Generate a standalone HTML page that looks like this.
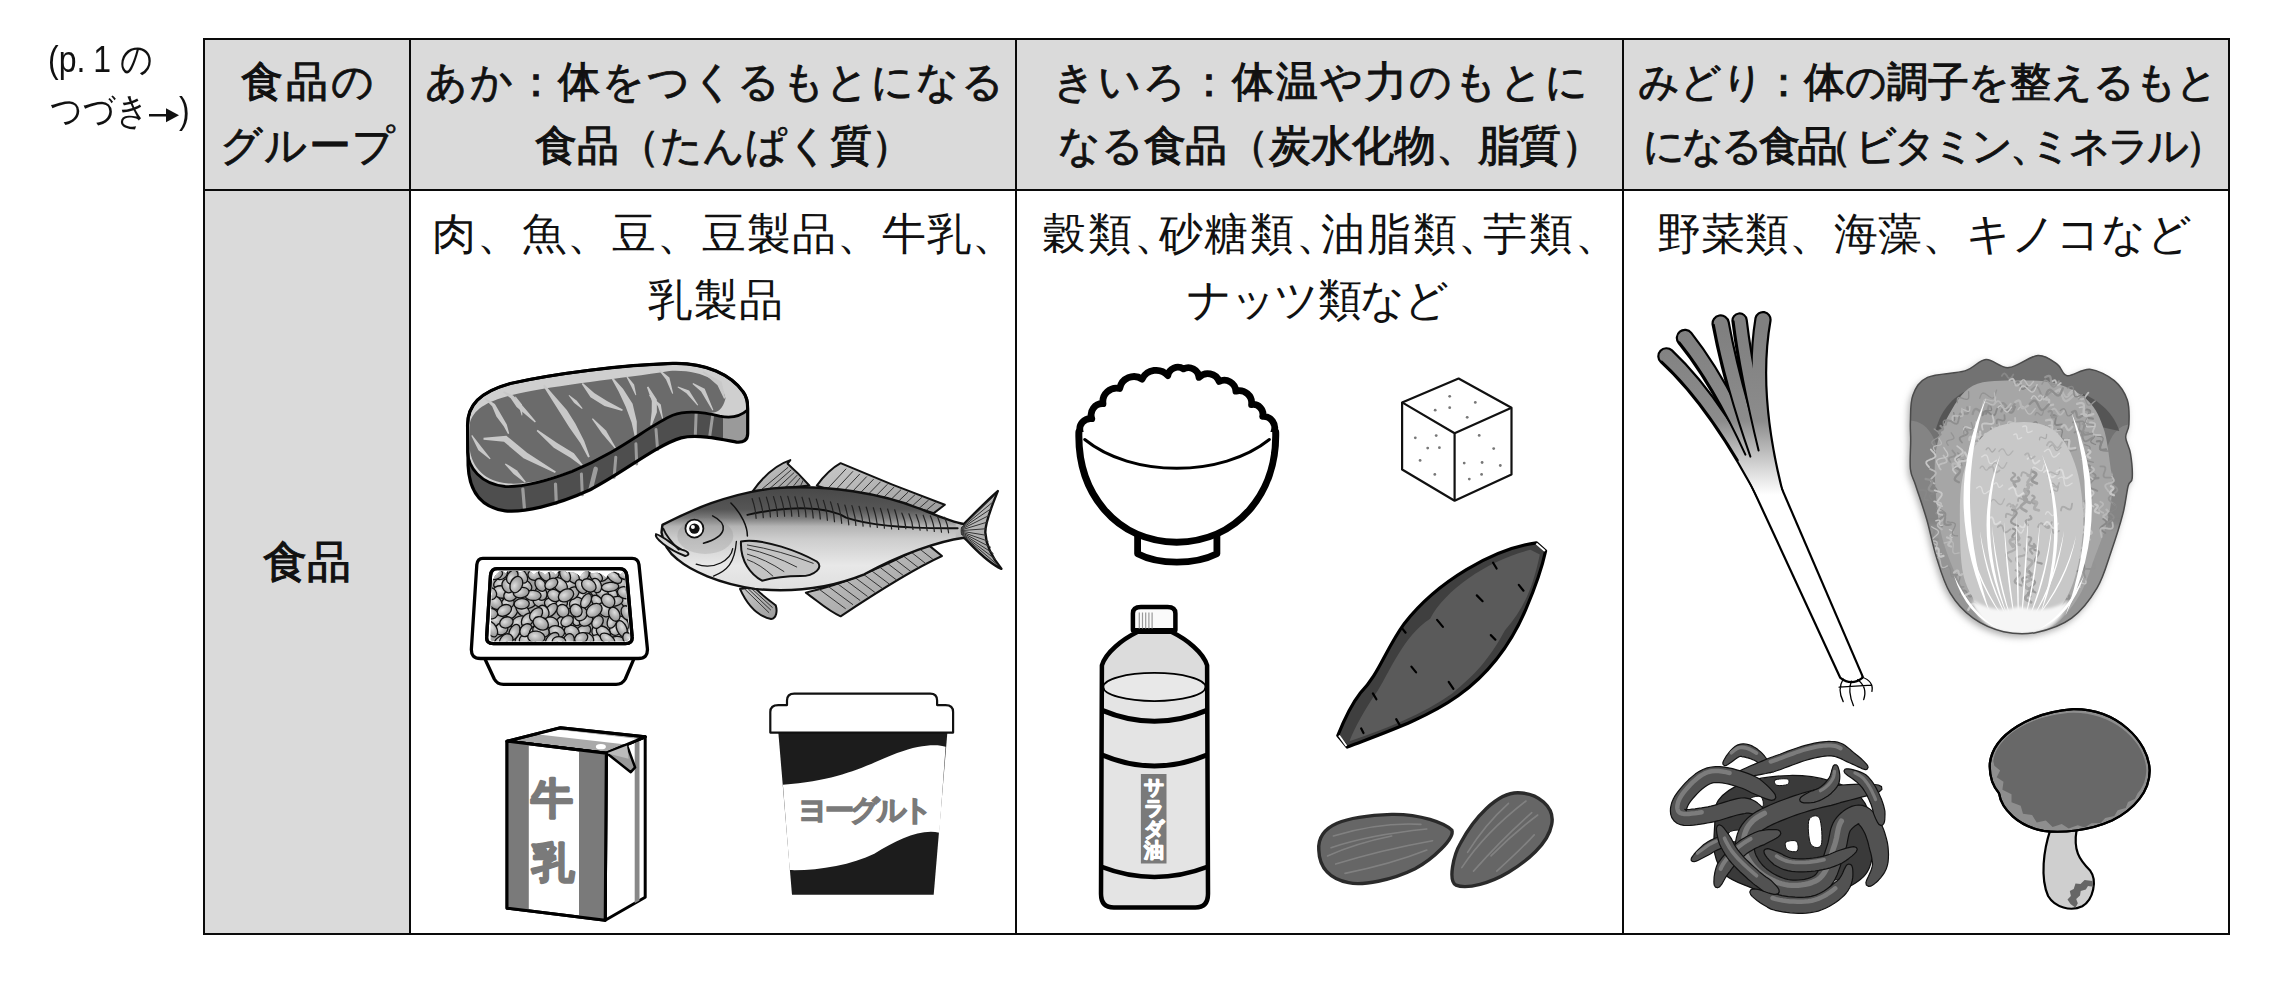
<!DOCTYPE html>
<html lang="ja">
<head>
<meta charset="utf-8">
<style>
html,body{margin:0;padding:0;background:#fff;}
body{width:2272px;height:985px;position:relative;overflow:hidden;font-family:"Liberation Sans",sans-serif;color:#111;}
.g{position:absolute;background:#dadada;}
.ln{position:absolute;background:#0a0a0a;}
.t{position:absolute;white-space:nowrap;line-height:1;font-size:44px;}
.h{font-weight:normal;-webkit-text-stroke:0.8px #111;}
.k{font-style:normal;-webkit-text-stroke:1.1px #111;}
svg{position:absolute;left:0;top:0;}
.hl{display:inline-block;width:20px;text-indent:-24px;overflow:visible;letter-spacing:0}
.hr{display:inline-block;width:20px;overflow:visible;letter-spacing:0}
.br{display:inline-block;width:25px;overflow:visible;letter-spacing:0}
</style>
</head>
<body>
<div class="g" style="left:205px;top:40px;width:2023px;height:149px"></div>
<div class="g" style="left:205px;top:191px;width:204px;height:742px"></div>
<div class="ln" style="left:203px;top:38px;width:2027px;height:2px"></div>
<div class="ln" style="left:203px;top:189px;width:2027px;height:2px"></div>
<div class="ln" style="left:203px;top:933px;width:2027px;height:2px"></div>
<div class="ln" style="left:203px;top:38px;width:2px;height:897px"></div>
<div class="ln" style="left:409px;top:38px;width:2px;height:897px"></div>
<div class="ln" style="left:1015px;top:38px;width:2px;height:897px"></div>
<div class="ln" style="left:1622px;top:38px;width:2px;height:897px"></div>
<div class="ln" style="left:2228px;top:38px;width:2px;height:897px"></div>

<div class="t" id="p1" style="left:48px;top:40px;font-size:32px;transform:scaleY(1.18);transform-origin:0 0">(p.<span style="margin-left:8px">1</span><span style="margin-left:9px">の</span></div>
<div class="t" id="p2" style="left:50px;top:92px;font-size:32px;transform:scaleY(1.16);transform-origin:0 0">つづき<svg style="position:relative;display:inline-block;vertical-align:baseline" width="30" height="14" viewBox="0 0 30 14"><path d="M0,7 L18,7" stroke="#111" stroke-width="2.2"/><path d="M17,1 L30,7 L17,13 Z" fill="#111"/></svg>)</div>

<div class="t h" id="h1a" style="left:241px;top:61px;font-size:42px;letter-spacing:3px"><i class="k">食品</i>の</div>
<div class="t h" id="h1b" style="left:220px;top:125px;font-size:42px;letter-spacing:1.33px">グループ</div>
<div class="t h" id="h2a" style="left:425px;top:61px;font-size:42px;letter-spacing:1.82px">あか：<i class="k">体</i>をつくるもとになる</div>
<div class="t h" id="h2b" style="left:535px;top:125px;font-size:42px;letter-spacing:-0.5px"><i class="k">食品</i>（たんぱく<i class="k">質</i>）</div>
<div class="t h" id="h3a" style="left:1053px;top:61px;font-size:42px;letter-spacing:2.05px">きいろ：<i class="k">体温</i>や<i class="k">力</i>のもとに</div>
<div class="t h" id="h3b" style="left:1058px;top:125px;font-size:42px;letter-spacing:-0.25px">なる<i class="k">食品</i>（<i class="k">炭水化物</i>、<i class="k">脂質</i>）</div>
<div class="t h" id="h4a" style="left:1638px;top:62px;font-size:41px;letter-spacing:-0.2px">みどり：<i class="k">体</i>の<i class="k">調子</i>を<i class="k">整</i>えるもと</div>
<div class="t h" id="h4b" style="left:1643px;top:126px;font-size:41px;letter-spacing:-3.2px">になる<i class="k">食品</i><span class="hl">（</span>ビタミン<span class="hr">、</span>ミネラル<span class="hr">）</span></div>

<div class="t h" id="f1" style="left:263px;top:540px"><i class="k">食品</i></div>
<div class="t" id="b2a" style="left:432px;top:212px;letter-spacing:1px">肉、魚、豆、豆製品、牛乳、</div>
<div class="t" id="b2b" style="left:648px;top:278px;letter-spacing:1.5px">乳製品</div>
<div class="t" id="b3a" style="left:1042px;top:212px;letter-spacing:1.8px">穀類<span class="br">、</span>砂糖類<span class="br">、</span>油脂類<span class="br">、</span>芋類<span class="br">、</span></div>
<div class="t" id="b3b" style="left:1187px;top:278px;letter-spacing:-1.4px">ナッツ類など</div>
<div class="t" id="b4a" style="left:1657px;top:212px;letter-spacing:0.15px">野菜類、海藻、キノコなど</div>
<svg width="2272" height="985" viewBox="0 0 2272 985">
<g id="tofu" fill="#fff" stroke="#111" stroke-width="2.2" stroke-linejoin="round">
<path d="M1458.6,378.5 L1511.5,407.7 L1511.5,474.4 L1454.6,500.7 L1402.1,469.5 L1402.1,402.4 Z"/>
<path fill="none" d="M1402.1,402.4 L1454.6,433.2 L1511.5,407.7 M1454.6,433.2 L1454.6,500.7"/>
<g fill="#777" stroke="none"><circle cx="1449.7" cy="396.3" r="1.4"/><circle cx="1475.3" cy="402.4" r="1.4"/><circle cx="1435.2" cy="410.2" r="1.4"/><circle cx="1449.7" cy="407.7" r="1.4"/><circle cx="1467.2" cy="417.3" r="1.4"/><circle cx="1415.3" cy="437.8" r="1.4"/><circle cx="1436.2" cy="435.6" r="1.4"/><circle cx="1427.7" cy="448.1" r="1.4"/><circle cx="1439.4" cy="447.7" r="1.4"/><circle cx="1420.1" cy="460.4" r="1.4"/><circle cx="1434.8" cy="474.4" r="1.4"/><circle cx="1479.2" cy="435.4" r="1.4"/><circle cx="1493.7" cy="448.6" r="1.4"/><circle cx="1464.2" cy="463.1" r="1.4"/><circle cx="1482.1" cy="462.5" r="1.4"/><circle cx="1500.3" cy="465.5" r="1.4"/><circle cx="1481.6" cy="474.4" r="1.4"/><circle cx="1469.3" cy="479.1" r="1.4"/></g>
</g>
<g id="rice" fill="#fff" stroke="#000" stroke-linejoin="round" stroke-linecap="round">
<path d="M1137.6,531.5 L1137.6,553.8 C1158.8,565.0 1194.6,565.0 1216.9,553.8 L1216.9,531.5 Z" stroke-width="6.8"/>
<path d="M1080.2,444.4 L1080.2,432.1 A10.6,10.6 0 0 1 1091.8,418.7 A11.2,11.2 0 0 1 1103.0,403.7 A13.6,13.6 0 0 1 1119.7,388.5 A14.5,14.5 0 0 1 1142.1,379.1 A15.6,15.6 0 0 1 1167.8,375.6 A10.2,10.2 0 0 1 1183.4,368.9 A10.7,10.7 0 0 1 1199.0,377.3 A12.3,12.3 0 0 1 1219.2,381.4 A11.7,11.7 0 0 1 1235.9,391.2 A12.4,12.4 0 0 1 1251.6,404.6 A9.8,9.8 0 0 1 1262.7,416.4 A11.5,11.5 0 0 1 1273.9,432.1 L1273.9,444.4 Z" stroke-width="6.8"/>
<path d="M1078.9,432.1 C1077.3,493.5 1116.4,541.6 1176.7,542.2 C1237.0,541.6 1277.2,493.5 1275.7,432.1 " stroke-width="7"/>
<path fill="none" d="M1084.7,439.5 C1132.0,477.9 1221.4,477.9 1269.4,439.5" stroke-width="3"/>
</g>
<g id="natto" fill="#fff" stroke="#000" stroke-width="3.3" stroke-linejoin="round">
<path d="M484.4,657.7 L494.3,679.0 Q497.3,684.4 503.4,684.4 L616.1,684.4 Q622.2,684.4 625.3,679.0 L634.4,657.7 Z"/>
<path d="M482.8,558.4 L632.1,558.4 Q638.2,558.4 639.0,564.8 L647.4,648.6 Q648.1,658.5 638.2,658.5 L480.6,658.5 Q470.7,658.5 471.4,648.6 L476.8,564.8 Q477.5,558.4 482.8,558.4 Z"/>
<path d="M497.3,568.6 L619.2,568.6 Q626.0,568.6 626.8,575.5 L632.1,636.4 Q632.9,643.7 625.3,643.7 L493.5,643.7 Q485.9,643.7 486.7,636.4 L490.5,575.5 Q491.2,568.6 497.3,568.6 Z"/>
</g>
<defs><clipPath id="ntray"><path d="M498.1,570.9 L618.4,570.9 Q624.2,570.9 624.5,576.2 L629.5,635.6 Q630.0,641.3 624.2,641.3 L494.3,641.3 Q488.6,641.3 489.1,635.6 L492.7,576.2 Q493.2,570.9 498.1,570.9 Z"/></clipPath><clipPath id="nclip"><path d="M490.5,642.5 L492.0,581.6 Q499.1,566.4 505.4,573.2 Q512.7,565.9 520.0,572.8 Q527.0,567.5 533.9,574.4 Q539.4,568.3 545.0,575.1 Q550.4,567.9 555.8,574.7 Q561.4,566.0 566.9,572.9 Q573.6,570.0 580.2,576.8 Q585.9,566.8 591.6,573.6 Q598.8,570.6 606.1,577.5 Q613.2,567.7 620.3,574.5 Q628.6,565.8 636.9,572.7 L630.6,642.5 Z"/></clipPath><radialGradient id="bean" cx="0.4" cy="0.4" r="0.6"><stop offset="0" stop-color="#dedede"/><stop offset="0.55" stop-color="#b4b4b4"/><stop offset="1" stop-color="#979797"/></radialGradient></defs>
<g clip-path="url(#ntray)"><g clip-path="url(#nclip)" stroke="#111" stroke-width="1.3" fill="url(#bean)">
<rect x="480" y="565" width="165" height="82" fill="#a0a0a0" stroke="none"/>
<ellipse cx="612.4" cy="593.7" rx="7.7" ry="4.7" transform="rotate(68 612.4 593.7)"/>
<ellipse cx="521.9" cy="640.2" rx="8.3" ry="6.2" transform="rotate(-55 521.9 640.2)"/>
<ellipse cx="525.6" cy="585.4" rx="7.1" ry="4.7" transform="rotate(39 525.6 585.4)"/>
<ellipse cx="528.8" cy="603.4" rx="7.1" ry="4.8" transform="rotate(-11 528.8 603.4)"/>
<ellipse cx="582.9" cy="631.7" rx="8.6" ry="5.9" transform="rotate(-34 582.9 631.7)"/>
<ellipse cx="539.9" cy="600.8" rx="6.8" ry="6.1" transform="rotate(10 539.9 600.8)"/>
<ellipse cx="565.6" cy="630.2" rx="8.1" ry="4.7" transform="rotate(-62 565.6 630.2)"/>
<ellipse cx="512.0" cy="611.3" rx="8.1" ry="5.3" transform="rotate(-60 512.0 611.3)"/>
<ellipse cx="597.1" cy="592.1" rx="8.7" ry="5.6" transform="rotate(42 597.1 592.1)"/>
<ellipse cx="615.7" cy="628.8" rx="6.7" ry="6.0" transform="rotate(-61 615.7 628.8)"/>
<ellipse cx="501.8" cy="582.9" rx="8.5" ry="5.3" transform="rotate(-23 501.8 582.9)"/>
<ellipse cx="568.2" cy="602.4" rx="7.8" ry="6.1" transform="rotate(-32 568.2 602.4)"/>
<ellipse cx="501.2" cy="573.7" rx="6.8" ry="5.4" transform="rotate(-37 501.2 573.7)"/>
<ellipse cx="597.2" cy="629.8" rx="6.8" ry="4.9" transform="rotate(-63 597.2 629.8)"/>
<ellipse cx="602.4" cy="575.8" rx="7.0" ry="5.1" transform="rotate(-27 602.4 575.8)"/>
<ellipse cx="550.9" cy="574.1" rx="8.2" ry="5.1" transform="rotate(0 550.9 574.1)"/>
<ellipse cx="578.0" cy="619.0" rx="6.9" ry="5.2" transform="rotate(-67 578.0 619.0)"/>
<ellipse cx="596.0" cy="576.4" rx="7.1" ry="4.6" transform="rotate(33 596.0 576.4)"/>
<ellipse cx="616.7" cy="641.3" rx="7.8" ry="4.9" transform="rotate(-4 616.7 641.3)"/>
<ellipse cx="626.6" cy="602.3" rx="8.6" ry="4.8" transform="rotate(45 626.6 602.3)"/>
<ellipse cx="601.9" cy="592.5" rx="7.5" ry="5.4" transform="rotate(47 601.9 592.5)"/>
<ellipse cx="551.5" cy="604.2" rx="7.4" ry="5.4" transform="rotate(26 551.5 604.2)"/>
<ellipse cx="522.8" cy="610.3" rx="8.8" ry="5.1" transform="rotate(47 522.8 610.3)"/>
<ellipse cx="569.4" cy="584.4" rx="8.1" ry="5.6" transform="rotate(-13 569.4 584.4)"/>
<ellipse cx="561.0" cy="622.3" rx="7.3" ry="4.7" transform="rotate(-52 561.0 622.3)"/>
<ellipse cx="507.7" cy="603.2" rx="6.7" ry="5.8" transform="rotate(-34 507.7 603.2)"/>
<ellipse cx="597.1" cy="601.3" rx="6.9" ry="4.7" transform="rotate(48 597.1 601.3)"/>
<ellipse cx="518.9" cy="622.4" rx="8.5" ry="5.7" transform="rotate(-31 518.9 622.4)"/>
<ellipse cx="597.3" cy="639.8" rx="7.1" ry="5.1" transform="rotate(-6 597.3 639.8)"/>
<ellipse cx="583.0" cy="595.5" rx="6.9" ry="5.3" transform="rotate(-33 583.0 595.5)"/>
<ellipse cx="501.3" cy="592.0" rx="8.7" ry="6.2" transform="rotate(7 501.3 592.0)"/>
<ellipse cx="576.3" cy="603.5" rx="7.1" ry="6.1" transform="rotate(-27 576.3 603.5)"/>
<ellipse cx="615.8" cy="601.3" rx="7.3" ry="4.6" transform="rotate(-17 615.8 601.3)"/>
<ellipse cx="572.5" cy="593.4" rx="7.6" ry="5.4" transform="rotate(-42 572.5 593.4)"/>
<ellipse cx="501.3" cy="640.8" rx="7.7" ry="4.6" transform="rotate(-33 501.3 640.8)"/>
<ellipse cx="583.7" cy="574.5" rx="6.7" ry="5.2" transform="rotate(-64 583.7 574.5)"/>
<ellipse cx="561.4" cy="604.2" rx="6.6" ry="5.1" transform="rotate(-37 561.4 604.2)"/>
<ellipse cx="603.4" cy="632.3" rx="7.8" ry="5.4" transform="rotate(35 603.4 632.3)"/>
<ellipse cx="622.1" cy="623.4" rx="8.0" ry="5.7" transform="rotate(53 622.1 623.4)"/>
<ellipse cx="626.6" cy="612.9" rx="7.4" ry="5.1" transform="rotate(68 626.6 612.9)"/>
<ellipse cx="628.5" cy="585.4" rx="6.8" ry="5.8" transform="rotate(20 628.5 585.4)"/>
<ellipse cx="562.8" cy="610.9" rx="6.6" ry="5.9" transform="rotate(55 562.8 610.9)"/>
<ellipse cx="495.2" cy="602.5" rx="7.9" ry="5.8" transform="rotate(44 495.2 602.5)"/>
<ellipse cx="534.7" cy="574.9" rx="6.8" ry="5.4" transform="rotate(1 534.7 574.9)"/>
<ellipse cx="560.2" cy="585.0" rx="8.4" ry="5.9" transform="rotate(46 560.2 585.0)"/>
<ellipse cx="571.8" cy="631.6" rx="7.8" ry="6.0" transform="rotate(26 571.8 631.6)"/>
<ellipse cx="514.4" cy="632.1" rx="8.1" ry="5.0" transform="rotate(-66 514.4 632.1)"/>
<ellipse cx="597.5" cy="622.0" rx="6.8" ry="5.2" transform="rotate(-55 597.5 622.0)"/>
<ellipse cx="621.3" cy="583.6" rx="8.4" ry="5.5" transform="rotate(18 621.3 583.6)"/>
<ellipse cx="496.9" cy="620.6" rx="7.9" ry="5.7" transform="rotate(-1 496.9 620.6)"/>
<ellipse cx="490.3" cy="593.6" rx="6.5" ry="5.9" transform="rotate(35 490.3 593.6)"/>
<ellipse cx="551.2" cy="622.6" rx="7.7" ry="5.5" transform="rotate(22 551.2 622.6)"/>
<ellipse cx="501.5" cy="628.9" rx="6.7" ry="5.8" transform="rotate(-35 501.5 628.9)"/>
<ellipse cx="587.4" cy="638.5" rx="6.7" ry="5.0" transform="rotate(32 587.4 638.5)"/>
<ellipse cx="541.0" cy="593.5" rx="7.0" ry="5.8" transform="rotate(67 541.0 593.5)"/>
<ellipse cx="521.7" cy="603.8" rx="7.6" ry="5.2" transform="rotate(-3 521.7 603.8)"/>
<ellipse cx="556.6" cy="631.6" rx="8.1" ry="5.8" transform="rotate(16 556.6 631.6)"/>
<ellipse cx="551.1" cy="610.2" rx="8.0" ry="4.7" transform="rotate(-49 551.1 610.2)"/>
<ellipse cx="510.7" cy="595.0" rx="7.1" ry="5.8" transform="rotate(-27 510.7 595.0)"/>
<ellipse cx="586.1" cy="600.9" rx="7.8" ry="4.6" transform="rotate(-62 586.1 600.9)"/>
<ellipse cx="554.2" cy="595.5" rx="7.1" ry="5.7" transform="rotate(27 554.2 595.5)"/>
<ellipse cx="533.0" cy="595.4" rx="8.1" ry="5.1" transform="rotate(2 533.0 595.4)"/>
<ellipse cx="527.6" cy="619.9" rx="7.6" ry="5.3" transform="rotate(-53 527.6 619.9)"/>
<ellipse cx="621.7" cy="628.7" rx="8.6" ry="4.9" transform="rotate(67 621.7 628.7)"/>
<ellipse cx="610.1" cy="586.9" rx="8.7" ry="4.6" transform="rotate(-6 610.1 586.9)"/>
<ellipse cx="527.7" cy="639.7" rx="8.4" ry="6.1" transform="rotate(-7 527.7 639.7)"/>
<ellipse cx="628.3" cy="639.2" rx="7.1" ry="4.9" transform="rotate(62 628.3 639.2)"/>
<ellipse cx="526.0" cy="630.2" rx="7.0" ry="5.5" transform="rotate(-50 526.0 630.2)"/>
<ellipse cx="506.2" cy="640.9" rx="7.7" ry="6.1" transform="rotate(-51 506.2 640.9)"/>
<ellipse cx="572.7" cy="575.9" rx="8.4" ry="5.4" transform="rotate(54 572.7 575.9)"/>
<ellipse cx="521.5" cy="575.8" rx="8.1" ry="5.0" transform="rotate(56 521.5 575.8)"/>
<ellipse cx="612.2" cy="620.9" rx="7.6" ry="4.6" transform="rotate(-69 612.2 620.9)"/>
<ellipse cx="504.3" cy="610.4" rx="7.6" ry="5.3" transform="rotate(-28 504.3 610.4)"/>
<ellipse cx="581.2" cy="638.1" rx="6.8" ry="5.2" transform="rotate(-26 581.2 638.1)"/>
<ellipse cx="614.3" cy="577.2" rx="8.4" ry="4.6" transform="rotate(35 614.3 577.2)"/>
<ellipse cx="544.1" cy="573.5" rx="8.4" ry="4.8" transform="rotate(60 544.1 573.5)"/>
<ellipse cx="566.0" cy="595.4" rx="8.1" ry="6.0" transform="rotate(-29 566.0 595.4)"/>
<ellipse cx="596.1" cy="585.5" rx="7.4" ry="5.2" transform="rotate(70 596.1 585.5)"/>
<ellipse cx="521.2" cy="592.6" rx="7.9" ry="5.2" transform="rotate(-10 521.2 592.6)"/>
<ellipse cx="534.7" cy="631.7" rx="7.1" ry="4.7" transform="rotate(-56 534.7 631.7)"/>
<ellipse cx="491.6" cy="629.1" rx="8.4" ry="5.1" transform="rotate(61 491.6 629.1)"/>
<ellipse cx="625.7" cy="574.5" rx="7.1" ry="5.0" transform="rotate(2 625.7 574.5)"/>
<ellipse cx="543.5" cy="611.9" rx="6.9" ry="5.2" transform="rotate(64 543.5 611.9)"/>
<ellipse cx="541.0" cy="631.0" rx="8.5" ry="5.9" transform="rotate(18 541.0 631.0)"/>
<ellipse cx="536.3" cy="637.2" rx="8.6" ry="6.1" transform="rotate(7 536.3 637.2)"/>
<ellipse cx="607.5" cy="639.1" rx="8.2" ry="4.7" transform="rotate(33 607.5 639.1)"/>
<ellipse cx="624.8" cy="592.7" rx="7.5" ry="5.8" transform="rotate(20 624.8 592.7)"/>
<ellipse cx="565.1" cy="575.1" rx="7.2" ry="4.7" transform="rotate(60 565.1 575.1)"/>
<ellipse cx="506.4" cy="622.4" rx="6.8" ry="5.4" transform="rotate(-22 506.4 622.4)"/>
<ellipse cx="508.0" cy="585.8" rx="7.2" ry="5.8" transform="rotate(67 508.0 585.8)"/>
<ellipse cx="585.9" cy="620.2" rx="7.1" ry="5.6" transform="rotate(-28 585.9 620.2)"/>
<ellipse cx="536.1" cy="614.3" rx="7.8" ry="5.2" transform="rotate(-47 536.1 614.3)"/>
<ellipse cx="540.5" cy="584.9" rx="6.9" ry="4.9" transform="rotate(57 540.5 584.9)"/>
<ellipse cx="581.2" cy="586.6" rx="7.6" ry="5.0" transform="rotate(57 581.2 586.6)"/>
<ellipse cx="552.0" cy="640.1" rx="8.8" ry="5.3" transform="rotate(-50 552.0 640.1)"/>
<ellipse cx="495.9" cy="574.5" rx="6.9" ry="4.7" transform="rotate(-22 495.9 574.5)"/>
<ellipse cx="567.1" cy="621.2" rx="6.7" ry="5.0" transform="rotate(-34 567.1 621.2)"/>
<ellipse cx="588.8" cy="585.4" rx="7.8" ry="6.0" transform="rotate(35 588.8 585.4)"/>
<ellipse cx="490.3" cy="613.7" rx="7.4" ry="5.3" transform="rotate(3 490.3 613.7)"/>
<ellipse cx="512.3" cy="576.9" rx="7.4" ry="5.1" transform="rotate(-61 512.3 576.9)"/>
<ellipse cx="580.8" cy="614.1" rx="7.1" ry="6.1" transform="rotate(-52 580.8 614.1)"/>
<ellipse cx="604.4" cy="609.9" rx="7.7" ry="5.6" transform="rotate(51 604.4 609.9)"/>
<ellipse cx="551.3" cy="583.8" rx="7.0" ry="5.0" transform="rotate(-35 551.3 583.8)"/>
<ellipse cx="614.3" cy="614.2" rx="7.4" ry="5.3" transform="rotate(64 614.3 614.2)"/>
<ellipse cx="516.3" cy="584.6" rx="8.5" ry="6.0" transform="rotate(-67 516.3 584.6)"/>
<ellipse cx="576.1" cy="610.5" rx="6.6" ry="5.7" transform="rotate(55 576.1 610.5)"/>
<ellipse cx="568.5" cy="641.1" rx="7.6" ry="5.5" transform="rotate(-70 568.5 641.1)"/>
<ellipse cx="608.1" cy="600.8" rx="7.4" ry="6.1" transform="rotate(46 608.1 600.8)"/>
<ellipse cx="594.2" cy="610.4" rx="8.5" ry="6.2" transform="rotate(-35 594.2 610.4)"/>
<ellipse cx="559.0" cy="641.4" rx="6.8" ry="4.8" transform="rotate(3 559.0 641.4)"/>
<ellipse cx="540.8" cy="623.4" rx="8.1" ry="6.1" transform="rotate(31 540.8 623.4)"/>
</g></g>
<path fill="none" stroke="#000" stroke-width="3.3" d="M497.3,568.6 L619.2,568.6 Q626.0,568.6 626.8,575.5 L632.1,636.4 Q632.9,643.7 625.3,643.7 L493.5,643.7 Q485.9,643.7 486.7,636.4 L490.5,575.5 Q491.2,568.6 497.3,568.6 Z"/>

<g id="milk" stroke-linejoin="round">
<path d="M606.3,753.2 L645.2,736.8 L645.2,897.3 L605.2,920.2 Z" fill="#fff" stroke="#000" stroke-width="3"/>
<path d="M634.7,741.2 L639.5,739.2 L639.5,900.5 L634.7,903.2 Z" fill="#888"/>
<path d="M507.0,741.2 L560.5,727.7 L645.2,736.8 L606.3,753.2 Z" fill="#a9a9a9" stroke="#000" stroke-width="3"/>
<path d="M538.7,734.6 L558.3,729.8 L639.1,739.0 L626.0,744.5 Z" fill="#fff"/>
<path d="M507.0,741.2 L560.5,727.7 L645.2,736.8 L606.3,753.2 Z" fill="none" stroke="#000" stroke-width="3"/>
<ellipse cx="600.9" cy="746.7" rx="5" ry="2.6" fill="#fff"/>
<path d="M606.8,753.2 L627.1,745.6 L635.1,767.4 L630.8,772.2 Z" fill="#999" stroke="#000" stroke-width="2.5"/>
<path d="M606.8,753.2 L627.1,745.6 L628.6,758.7 Z" fill="#bbb"/>
<path d="M507.0,741.2 L606.3,753.2 L605.2,920.2 L507.0,908.2 Z" fill="#fff" stroke="#000" stroke-width="3"/>
<path d="M507.4,741.6 L528.8,744.0 L528.8,910.8 L507.4,908.2 Z" fill="#7a7a7a"/>
<path d="M579.0,749.9 L605.9,753.2 L605.2,919.8 L579.0,916.7 Z" fill="#7a7a7a"/>
<path d="M507.0,741.2 L606.3,753.2 L605.2,920.2 L507.0,908.2 Z" fill="none" stroke="#000" stroke-width="3"/>
<text x="552" y="813" font-family="Liberation Sans, sans-serif" font-weight="bold" font-size="42" fill="#7a7a7a" stroke="#7a7a7a" stroke-width="2.2" text-anchor="middle">牛</text>
<text x="553" y="877" font-family="Liberation Sans, sans-serif" font-weight="bold" font-size="42" fill="#7a7a7a" stroke="#7a7a7a" stroke-width="2.2" text-anchor="middle">乳</text>
</g>

<g id="yogurt">
<path d="M778.3,732.1 L947.4,732.1 L933.7,894.8 L792.0,894.8 Z" fill="#1c1c1c"/>
<path d="M782.9,784.7 C840.0,780.5 862.8,766.8 897.1,753.1 C920.0,744.0 938.2,744.0 945.6,746.7 L939.4,832.7 C920.0,828.5 897.1,840.0 874.3,853.7 C851.4,865.1 817.1,870.8 789.7,870.1 Z" fill="#fff"/>
<path d="M770.3,732.6 L770.3,712.0 Q770.3,705.1 778.3,705.1 L787.0,705.1 L787.0,700.6 Q787.0,693.7 794.3,693.7 L930.2,693.7 Q937.1,693.7 937.1,700.6 L937.1,705.1 L945.6,705.1 Q953.1,705.1 953.1,712.0 L953.1,732.6 Z" fill="#fff" stroke="#111" stroke-width="2.2" stroke-linejoin="round"/>
<text x="864" y="820" font-family="Liberation Sans, sans-serif" font-weight="bold" font-size="29" fill="#7a7a7a" stroke="#7a7a7a" stroke-width="1.4" text-anchor="middle" letter-spacing="-3.5">ヨーグルト</text>
</g>

<g id="oil" stroke-linejoin="round">
<path d="M1137.7,631.8 L1171.3,631.8 C1187.3,639.7 1203.2,652.5 1207.1,665.3 L1208.0,893.8 Q1208.0,907.6 1195.3,907.6 L1113.8,907.6 Q1101.0,907.6 1101.0,893.8 L1101.9,665.3 C1105.8,652.5 1121.8,639.7 1137.7,631.8 Z" fill="#dcdcdc"/>
<path d="M1101.6,687.7 L1207.4,687.7 L1208.0,893.8 Q1208.0,907.6 1195.3,907.6 L1113.8,907.6 Q1101.0,907.6 1101.0,893.8 Z" fill="#e4e4e4"/>
<ellipse cx="1154.4" cy="687.0" rx="51.1" ry="14.1" fill="#e8e8e8" stroke="#000" stroke-width="1.8"/>
<path d="M1101.6,710.1 Q1154.4,732.4 1207.4,710.1" fill="none" stroke="#000" stroke-width="5"/>
<path d="M1101.6,754.8 Q1154.4,777.2 1207.4,754.8" fill="none" stroke="#000" stroke-width="5"/>
<path d="M1101.0,866.7 Q1154.4,887.4 1208.0,866.7" fill="none" stroke="#000" stroke-width="4.5"/>
<path d="M1137.7,631.8 L1171.3,631.8 C1187.3,639.7 1203.2,652.5 1207.1,665.3 L1208.0,893.8 Q1208.0,907.6 1195.3,907.6 L1113.8,907.6 Q1101.0,907.6 1101.0,893.8 L1101.9,665.3 C1105.8,652.5 1121.8,639.7 1137.7,631.8 Z" fill="none" stroke="#000" stroke-width="4.5"/>
<path d="M1132.9,630.2 L1132.9,613.5 Q1132.9,607.1 1140.9,607.1 L1167.5,607.1 Q1175.4,607.1 1175.4,613.5 L1175.4,630.2 Z" fill="#fafafa" stroke="#000" stroke-width="4.5"/>
<path d="M1139.3,612.6 L1139.3,628.6 M1142.5,612.6 L1142.5,628.6 M1145.7,612.6 L1145.7,628.6 M1148.9,612.6 L1148.9,628.6 M1152.1,612.6 L1152.1,628.6" stroke="#999" stroke-width="1.2"/>
<rect x="1140.9" y="774.0" width="25.6" height="89.5" fill="#7a7a7a"/>
<text font-family="Liberation Sans, sans-serif" font-weight="bold" font-size="20" fill="#fff" stroke="#fff" stroke-width="1.3" text-anchor="middle"><tspan x="1154" y="794">サ</tspan><tspan x="1154" y="815">ラ</tspan><tspan x="1154" y="836">ダ</tspan><tspan x="1154" y="857">油</tspan></text>
</g>

<g id="potato">
<path d="M1536.3,542.8 C1493.1,548.7 1437.1,581.4 1404.4,623.4 C1385.7,649.1 1378.7,674.8 1360.0,693.4 C1350.7,705.1 1342.5,723.8 1337.8,735.5 L1347.2,747.1 C1383.4,733.1 1425.4,719.1 1458.1,695.8 C1490.8,672.4 1511.8,642.1 1525.8,609.4 C1536.3,584.9 1542.1,567.4 1545.6,551.0 Z" fill="#3f3f3f"/>
<path d="M1530.5,549.8 C1488.4,560.4 1446.4,588.4 1430.1,618.7 C1404.4,635.1 1390.4,670.1 1377.5,691.1 C1365.9,707.4 1354.2,728.5 1349.5,741.3 C1385.7,728.5 1423.1,714.5 1452.2,693.4 C1474.4,674.8 1488.4,660.7 1504.8,630.4 C1523.5,609.4 1532.8,588.4 1539.8,554.5 Z" fill="#5a5a5a"/>
<path d="M1536.3,542.8 C1493.1,548.7 1437.1,581.4 1404.4,623.4 C1385.7,649.1 1378.7,674.8 1360.0,693.4 C1350.7,705.1 1342.5,723.8 1337.8,735.5 L1347.2,747.1 C1383.4,733.1 1425.4,719.1 1458.1,695.8 C1490.8,672.4 1511.8,642.1 1525.8,609.4 C1536.3,584.9 1542.1,567.4 1545.6,551.0 Z" fill="none" stroke="#000" stroke-width="3.2" stroke-linejoin="round"/>
<path d="M1493.1,562.7 L1496.6,568.5" stroke="#000" stroke-width="2.2" stroke-linecap="round"/>
<path d="M1518.8,584.9 L1523.5,590.7" stroke="#000" stroke-width="2.2" stroke-linecap="round"/>
<path d="M1476.8,595.4 L1482.6,601.2" stroke="#000" stroke-width="2.2" stroke-linecap="round"/>
<path d="M1437.1,619.9 L1442.9,626.9" stroke="#000" stroke-width="2.2" stroke-linecap="round"/>
<path d="M1490.8,635.1 L1495.4,639.7" stroke="#000" stroke-width="2.2" stroke-linecap="round"/>
<path d="M1402.0,628.1 L1405.6,632.7" stroke="#000" stroke-width="2.2" stroke-linecap="round"/>
<path d="M1411.4,666.6 L1416.1,672.4" stroke="#000" stroke-width="2.2" stroke-linecap="round"/>
<path d="M1448.7,681.8 L1453.4,688.8" stroke="#000" stroke-width="2.2" stroke-linecap="round"/>
<path d="M1372.9,693.4 L1376.4,699.3" stroke="#000" stroke-width="2.2" stroke-linecap="round"/>
<path d="M1396.2,719.1 L1399.7,725.0" stroke="#000" stroke-width="2.2" stroke-linecap="round"/>
<path d="M1361.2,728.5 L1363.5,733.1" stroke="#000" stroke-width="2.2" stroke-linecap="round"/>
<path d="M1536.3,543.5 L1544.9,551.0" stroke="#fff" stroke-width="2"/>
<path d="M1339.0,735.5 L1346.5,746.0" stroke="#fff" stroke-width="2"/>
</g>

<defs><linearGradient id="alm" x1="0" y1="0" x2="1" y2="1"><stop offset="0" stop-color="#777"/><stop offset="1" stop-color="#5c5c5c"/></linearGradient></defs>
<g id="almond">
<path d="M1318.8,850.1 C1317.0,824.4 1345.0,816.2 1391.7,814.4 C1420.9,813.9 1444.3,823.2 1451.9,830.2 C1454.8,838.4 1432.6,859.4 1415.1,868.7 C1391.7,880.4 1362.5,885.7 1348.5,882.7 C1331.0,879.2 1319.3,868.7 1318.8,850.1 Z" fill="#666" stroke="#2a2a2a" stroke-width="3.4" stroke-linejoin="round"/>
<path d="M1517.8,792.8 C1537.7,792.8 1555.2,806.9 1551.7,824.4 C1548.2,844.2 1526.0,861.7 1508.5,872.2 C1491.0,882.7 1467.6,889.7 1455.9,885.1 C1447.8,880.4 1453.6,854.7 1460.6,843.0 C1473.5,818.5 1496.8,792.8 1517.8,792.8 Z" fill="#666" stroke="#2a2a2a" stroke-width="3.4" stroke-linejoin="round"/>
<path d="M1333.4,836.0 Q1380.1,822.0 1420.9,824.4" fill="none" stroke="#888" stroke-width="1.6" stroke-linecap="round" opacity="0.8"/>
<path d="M1331.0,847.7 Q1368.4,834.9 1426.8,829.0" fill="none" stroke="#888" stroke-width="1.6" stroke-linecap="round" opacity="0.8"/>
<path d="M1335.7,864.1 Q1380.1,850.1 1432.6,840.7" fill="none" stroke="#888" stroke-width="1.6" stroke-linecap="round" opacity="0.8"/>
<path d="M1345.0,873.4 Q1391.7,864.1 1426.8,850.1" fill="none" stroke="#888" stroke-width="1.6" stroke-linecap="round" opacity="0.8"/>
<path d="M1327.5,855.9 Q1356.7,843.0 1391.7,836.0" fill="none" stroke="#888" stroke-width="1.6" stroke-linecap="round" opacity="0.8"/>
<path d="M1461.8,867.6 Q1485.1,832.5 1526.0,801.0" fill="none" stroke="#888" stroke-width="1.6" stroke-linecap="round" opacity="0.8"/>
<path d="M1473.5,871.1 Q1502.6,838.4 1531.8,812.7" fill="none" stroke="#888" stroke-width="1.6" stroke-linecap="round" opacity="0.8"/>
<path d="M1491.0,855.9 Q1514.3,832.5 1537.7,815.0" fill="none" stroke="#888" stroke-width="1.6" stroke-linecap="round" opacity="0.8"/>
<path d="M1467.6,852.4 Q1485.1,824.4 1508.5,803.4" fill="none" stroke="#888" stroke-width="1.6" stroke-linecap="round" opacity="0.8"/>
<path d="M1496.8,871.1 Q1520.2,850.1 1534.2,834.9" fill="none" stroke="#888" stroke-width="1.6" stroke-linecap="round" opacity="0.8"/>
</g>

<defs><linearGradient id="onl" gradientUnits="userSpaceOnUse" x1="0" y1="330" x2="0" y2="495"><stop offset="0" stop-color="#808080"/><stop offset="0.55" stop-color="#8c8c8c"/><stop offset="0.85" stop-color="#dadada"/><stop offset="1" stop-color="#fff"/></linearGradient></defs>
<g id="onion" stroke="#000" stroke-linejoin="round" stroke-linecap="round">
<path d="M1661.7,361.5 Q1715.6,410.8 1770.9,520.9 L1779.9,516.6 Q1728.2,404.7 1671.2,351.2 A7.0,7.0 0 0 0 1661.7,361.5 Z" fill="none" stroke-width="4.4"/>
<path d="M1679.5,342.3 Q1727.7,401.9 1772.7,520.4 L1782.1,517.0 Q1740.8,397.2 1690.4,333.5 A7.0,7.0 0 0 0 1679.5,342.3 Z" fill="none" stroke-width="4.4"/>
<path d="M1713.8,324.8 Q1729.8,410.3 1774.8,520.5 L1784.1,516.9 Q1742.8,405.2 1727.6,322.2 A7.0,7.0 0 0 0 1713.8,324.8 Z" fill="none" stroke-width="4.4"/>
<path d="M1733.6,321.3 Q1742.8,397.0 1776.7,520.0 L1786.4,517.4 Q1754.4,393.9 1745.6,319.9 A6.0,6.0 0 0 0 1733.6,321.3 Z" fill="none" stroke-width="4.4"/>
<path d="M1756.6,318.3 Q1742.4,405.5 1778.8,520.2 L1788.4,517.3 Q1754.9,401.8 1769.4,320.5 A6.5,6.5 0 0 0 1756.6,318.3 Z" fill="none" stroke-width="4.4"/>
<path d="M1747.0,473.5 L1841.1,677.0 Q1851.4,685.2 1861.7,677.0 L1774.1,473.5 Z" fill="none" stroke-width="4.4"/>
<path d="M1747.0,473.5 L1841.1,677.0 Q1851.4,685.2 1861.7,677.0 L1774.1,473.5 Z" fill="#fff" stroke="none"/>
<path d="M1661.7,361.5 Q1715.6,410.8 1770.9,520.9 L1779.9,516.6 Q1728.2,404.7 1671.2,351.2 A7.0,7.0 0 0 0 1661.7,361.5 Z" fill="url(#onl)" stroke="none"/>
<path d="M1679.5,342.3 Q1727.7,401.9 1772.7,520.4 L1782.1,517.0 Q1740.8,397.2 1690.4,333.5 A7.0,7.0 0 0 0 1679.5,342.3 Z" fill="url(#onl)" stroke="none"/>
<path d="M1713.8,324.8 Q1729.8,410.3 1774.8,520.5 L1784.1,516.9 Q1742.8,405.2 1727.6,322.2 A7.0,7.0 0 0 0 1713.8,324.8 Z" fill="url(#onl)" stroke="none"/>
<path d="M1733.6,321.3 Q1742.8,397.0 1776.7,520.0 L1786.4,517.4 Q1754.4,393.9 1745.6,319.9 A6.0,6.0 0 0 0 1733.6,321.3 Z" fill="url(#onl)" stroke="none"/>
<path d="M1756.6,318.3 Q1742.4,405.5 1778.8,520.2 L1788.4,517.3 Q1754.9,401.8 1769.4,320.5 A6.5,6.5 0 0 0 1756.6,318.3 Z" fill="url(#onl)" stroke="none"/>
<path d="M1661.7,361.5 Q1699.4,396.0 1737.8,460.3" fill="none" stroke-width="2"/>
<path d="M1679.5,342.3 Q1713.2,384.0 1745.4,454.6" fill="none" stroke-width="2"/>
<path d="M1713.8,324.8 Q1725.0,384.6 1750.4,456.6" fill="none" stroke-width="2"/>
<path d="M1733.6,321.3 Q1740.1,374.3 1758.6,450.5" fill="none" stroke-width="2"/>
<path d="M1843.2,679.0 Q1837.0,689.3 1843.2,701.6 M1851.4,681.1 Q1847.3,691.4 1853.5,705.7 M1857.6,679.8 Q1867.8,687.2 1863.7,699.6 M1861.7,677.0 Q1874.0,681.1 1871.9,691.4 M1839.1,687.2 L1871.9,685.2" fill="none" stroke-width="1.3"/>
</g>

<g id="mushroom" stroke-linejoin="round">
<path d="M2050.4,829.7 C2043.5,850.3 2040.1,877.7 2048.1,896.0 C2054.9,907.4 2070.9,911.9 2082.3,906.2 C2093.7,899.4 2097.2,880.0 2090.3,870.8 C2078.9,859.4 2073.2,850.3 2076.6,829.7 Z" fill="#cfcfcf" stroke="#000" stroke-width="2.2"/>
<path d="M2092.6,881.1 L2084.6,880.0 L2080.5,884.1 L2075.5,883.6 L2073.7,889.1 L2069.8,890.9 L2070.9,896.0 L2067.5,899.4 L2070.5,904.0 L2075.5,907.8 L2077.8,903.3 L2076.2,898.9 L2080.0,895.5 L2080.7,890.9 L2085.8,889.6 L2088.0,885.9 L2093.3,886.8 Z" fill="#666"/>
<path d="M1989.8,763.5 C1993.3,733.8 2032.1,712.1 2073.2,709.2 C2116.6,708.7 2148.6,740.7 2149.7,770.4 C2149.7,790.9 2134.9,809.2 2112.0,820.6 C2089.2,830.9 2061.8,833.2 2043.5,830.9 C2018.4,826.3 2001.3,809.2 1999.0,793.2 C1991.0,784.1 1989.2,774.9 1989.8,763.5 Z" fill="#8e8e8e" stroke="#000" stroke-width="2.2"/>
<path d="M1993.3,761.2 C1996.7,735.0 2033.2,714.4 2073.2,712.8 C2114.3,712.8 2145.8,741.8 2146.3,770.4 C2145.8,781.8 2141.7,788.6 2137.6,793.2 L2134.9,798.9 L2128.0,801.9 L2125.7,808.0 L2117.7,810.3 L2114.3,816.0 L2105.2,817.9 L2100.6,822.9 L2091.5,823.3 L2084.6,827.5 L2077.8,825.2 L2068.6,828.6 L2061.8,824.0 L2052.6,827.0 L2045.8,820.6 L2036.7,822.4 L2032.1,814.9 L2023.0,813.7 L2020.7,805.8 L2011.5,802.3 L2011.5,794.3 L2002.4,789.8 L2003.5,781.8 L1996.7,777.2 L2000.1,770.4 L1994.4,765.8 Z" fill="#686868"/>
<path d="M1989.8,763.5 C1993.3,733.8 2032.1,712.1 2073.2,709.2 C2116.6,708.7 2148.6,740.7 2149.7,770.4 C2149.7,790.9 2134.9,809.2 2112.0,820.6 C2089.2,830.9 2061.8,833.2 2043.5,830.9 C2018.4,826.3 2001.3,809.2 1999.0,793.2 C1991.0,784.1 1989.2,774.9 1989.8,763.5 Z" fill="none" stroke="#000" stroke-width="2.2"/>
</g>

<g id="steak" stroke-linejoin="round" stroke-linecap="round">
<path d="M467.6,427.0 C466.7,405.2 480.1,391.8 510.3,383.5 C555.5,373.4 622.5,365.0 672.7,363.4 C706.2,362.5 731.3,375.1 743.1,391.8 C748.1,398.5 747.7,405.2 747.7,410.3 L747.7,433.7 C747.7,440.4 743.1,442.9 736.4,442.1 C723.0,439.6 697.8,433.7 681.1,437.9 C656.0,445.4 622.5,473.1 589.0,490.3 C555.5,505.7 522.0,512.8 505.2,510.8 C480.1,507.4 469.2,490.7 468.1,465.5 Z" fill="#4e4e4e"/>
<path d="M522.8,489.0 L524.5,509.1" stroke="#9c9c9c" stroke-width="3.2"/>
<path d="M555.5,484.0 L556.3,503.2" stroke="#9c9c9c" stroke-width="3.2"/>
<path d="M581.4,473.9 L582.3,494.8" stroke="#9c9c9c" stroke-width="3"/>
<path d="M595.7,468.9 L590.7,489.0" stroke="#9c9c9c" stroke-width="4.5"/>
<path d="M615.8,457.2 L614.1,477.3" stroke="#9c9c9c" stroke-width="3"/>
<path d="M635.9,443.8 L636.7,463.9" stroke="#9c9c9c" stroke-width="3"/>
<path d="M656.0,429.5 L657.6,449.6" stroke="#9c9c9c" stroke-width="3"/>
<path d="M696.2,411.9 L695.3,435.4" stroke="#9c9c9c" stroke-width="3"/>
<path d="M712.9,413.6 L709.6,437.1" stroke="#9c9c9c" stroke-width="3"/>
<path d="M723.0,415.3 C731.3,418.6 739.7,417.8 747.2,410.3 L747.2,433.7 C746.4,440.4 739.7,442.1 723.0,439.6 Z" fill="#9a9a9a"/>
<path d="M467.6,427.0 C466.7,405.2 480.1,391.8 510.3,383.5 C555.5,373.4 622.5,365.0 672.7,363.4 C706.2,362.5 731.3,375.1 743.1,391.8 C748.1,398.5 748.1,405.2 747.2,410.3 C739.7,417.0 731.3,418.6 719.6,416.1 C702.9,411.9 686.1,410.3 672.7,415.3 C647.6,426.2 622.5,450.5 572.2,471.4 C547.1,480.9 522.0,487.3 505.2,486.5 C480.1,484.0 468.4,467.2 467.6,452.1 Z" fill="#cfcfcf"/>
<path d="M469.7,423.7 C473.4,408.6 488.5,400.2 518.6,393.5 C555.5,385.1 622.5,378.4 669.4,370.9 C702.9,369.2 723.0,381.8 725.5,398.5 C723.0,408.6 717.9,412.8 711.2,412.8 C692.8,411.1 677.7,411.9 664.3,419.5 C639.2,432.9 614.1,453.8 572.2,470.2 C547.1,479.3 525.3,484.8 508.6,483.6 C485.1,481.9 471.7,467.2 469.7,448.8 Z" fill="#6b6b6b"/>
<path d="M484.8,399.0 L492.1,406.3 L496.4,416.6 L503.7,426.2 L508.0,433.9 L509.2,433.5 L506.8,424.5 L500.7,414.0 L494.9,404.1 L485.5,398.1 Z" fill="#c8c8c8"/>
<path d="M503.2,392.4 L510.7,398.3 L516.6,407.1 L524.0,413.3 L534.9,422.5 L535.9,421.5 L526.7,410.6 L520.7,403.4 L513.2,395.4 L503.9,391.3 Z" fill="#c8c8c8"/>
<path d="M514.9,397.1 L518.7,405.8 L521.6,415.4 L522.4,415.2 L522.0,404.6 L515.7,396.6 Z" fill="#c8c8c8"/>
<path d="M543.0,385.7 L552.0,399.9 L560.9,414.0 L569.2,427.2 L580.3,443.1 L588.1,457.5 L589.8,456.8 L584.2,441.1 L575.3,423.5 L566.8,409.9 L555.6,397.2 L544.5,384.6 Z" fill="#c8c8c8"/>
<path d="M568.6,395.5 L574.3,403.1 L582.0,408.9 L582.6,408.3 L576.8,400.7 L569.2,394.9 Z" fill="#c8c8c8"/>
<path d="M581.7,384.0 L590.5,397.3 L604.5,406.1 L622.2,411.0 L622.8,409.5 L607.0,401.1 L594.2,393.1 L582.9,382.9 Z" fill="#c8c8c8"/>
<path d="M611.7,379.0 L618.6,391.6 L625.7,406.7 L631.6,422.5 L634.9,437.2 L636.8,437.0 L636.8,421.4 L632.6,403.8 L623.0,388.8 L613.2,377.9 Z" fill="#c8c8c8"/>
<path d="M625.5,375.3 L631.0,385.9 L635.5,395.3 L636.3,395.1 L634.1,384.4 L626.2,374.9 Z" fill="#c8c8c8"/>
<path d="M646.9,387.2 L651.8,400.9 L651.7,411.6 L650.2,425.2 L651.7,425.5 L656.9,412.3 L656.8,399.5 L648.3,386.5 Z" fill="#c8c8c8"/>
<path d="M659.0,370.4 L666.0,379.4 L672.2,393.7 L673.2,393.4 L669.4,377.5 L659.7,369.7 Z" fill="#c8c8c8"/>
<path d="M677.5,387.3 L686.4,393.3 L697.4,405.5 L698.2,404.9 L689.1,390.4 L678.0,386.4 Z" fill="#c8c8c8"/>
<path d="M692.5,383.9 L701.1,391.5 L712.4,410.5 L713.4,410.0 L704.7,388.8 L693.1,383.0 Z" fill="#c8c8c8"/>
<path d="M702.5,372.3 L717.5,385.2 L724.0,398.8 L725.3,398.3 L721.7,381.7 L703.3,371.2 Z" fill="#c8c8c8"/>
<path d="M471.3,435.7 L478.4,450.2 L489.8,459.2 L490.6,458.4 L481.9,447.4 L472.2,435.1 Z" fill="#c8c8c8"/>
<path d="M483.5,439.7 L504.0,441.8 L523.5,458.2 L555.0,473.0 L555.9,471.4 L527.1,452.8 L506.4,435.7 L483.5,437.8 Z" fill="#c8c8c8"/>
<path d="M504.8,464.3 L513.6,474.1 L524.9,482.7 L525.8,481.8 L517.0,470.4 L505.6,463.4 Z" fill="#c8c8c8"/>
<path d="M536.6,431.0 L553.8,447.7 L570.5,457.7 L581.7,466.1 L582.9,465.0 L573.9,453.2 L557.1,443.1 L537.6,429.7 Z" fill="#c8c8c8"/>
<path d="M591.9,419.1 L602.1,433.6 L615.3,449.1 L616.3,448.4 L606.0,430.5 L592.8,418.2 Z" fill="#c8c8c8"/>
<path d="M649.0,395.5 L657.8,406.1 L662.2,418.7 L663.1,418.5 L660.8,404.4 L649.6,394.9 Z" fill="#c8c8c8"/>
<path d="M467.6,427.0 C466.7,405.2 480.1,391.8 510.3,383.5 C555.5,373.4 622.5,365.0 672.7,363.4 C706.2,362.5 731.3,375.1 743.1,391.8 C748.1,398.5 748.1,405.2 747.2,410.3 C739.7,417.0 731.3,418.6 719.6,416.1 C702.9,411.9 686.1,410.3 672.7,415.3 C647.6,426.2 622.5,450.5 572.2,471.4 C547.1,480.9 522.0,487.3 505.2,486.5 C480.1,484.0 468.4,467.2 467.6,452.1 Z" fill="none" stroke="#000" stroke-width="2.8"/>
<path d="M467.6,427.0 C466.7,405.2 480.1,391.8 510.3,383.5 C555.5,373.4 622.5,365.0 672.7,363.4 C706.2,362.5 731.3,375.1 743.1,391.8 C748.1,398.5 747.7,405.2 747.7,410.3 L747.7,433.7 C747.7,440.4 743.1,442.9 736.4,442.1 C723.0,439.6 697.8,433.7 681.1,437.9 C656.0,445.4 622.5,473.1 589.0,490.3 C555.5,505.7 522.0,512.8 505.2,510.8 C480.1,507.4 469.2,490.7 468.1,465.5 Z" fill="none" stroke="#000" stroke-width="3.2"/>
</g>

<defs>
<linearGradient id="fbody" gradientUnits="userSpaceOnUse" x1="0" y1="486" x2="0" y2="592">
<stop offset="0" stop-color="#474747"/><stop offset="0.22" stop-color="#555"/><stop offset="0.3" stop-color="#7a7a7a"/><stop offset="0.38" stop-color="#b4b4b4"/><stop offset="0.5" stop-color="#cdcdcd"/><stop offset="0.75" stop-color="#e8e8e8"/><stop offset="1" stop-color="#dedede"/>
</linearGradient>
<linearGradient id="ffin" x1="0" y1="0" x2="1" y2="1"><stop offset="0" stop-color="#cacaca"/><stop offset="1" stop-color="#9a9a9a"/></linearGradient>
</defs>
<g id="fish" stroke-linejoin="round" stroke-linecap="round">
<path d="M752.8,491.1 C763.8,475.6 776.6,464.6 790.3,460.1 L787.6,463.7 C794.9,470.1 802.2,477.4 809.5,485.6 Z" fill="url(#ffin)" stroke="#111" stroke-width="2"/>
<path d="M762.2,488.9 L787.9,467.5 M769.8,488.5 L791.0,470.1 M777.4,488.1 L794.0,472.7 M785.0,487.7 L797.0,475.4 M792.5,487.3 L800.0,478.0 M800.1,486.9 L803.0,480.6 " stroke="#333" stroke-width="1"/>
<path d="M816.8,485.6 C824.1,475.6 831.4,468.3 840.6,463.2 C873.5,477.4 910.0,492.0 944.8,504.8 L933.8,513.1 C900.9,503.0 864.3,495.7 827.8,489.3 Z" fill="url(#ffin)" stroke="#111" stroke-width="2"/>
<path d="M828.0,488.3 L845.9,469.0 M835.6,490.0 L852.7,471.6 M843.1,491.7 L859.6,474.2 M850.7,493.4 L866.5,476.8 M858.2,495.1 L873.4,479.4 M865.8,496.8 L880.3,482.0 M873.4,498.5 L887.1,484.6 M880.9,500.2 L894.0,487.2 M888.5,501.9 L900.9,489.8 M896.0,503.6 L907.8,492.4 M903.6,505.3 L914.7,495.0 M911.1,507.0 L921.6,497.6 M918.7,508.7 L928.4,500.2 M926.2,510.4 L935.3,502.8 " stroke="#333" stroke-width="1"/>
<path d="M805.8,592.6 C818.6,601.7 827.8,610.8 840.6,616.3 C873.5,594.4 910.0,570.6 942.0,556.0 L927.4,544.1 C882.6,567.0 846.1,583.4 805.8,592.6 Z" fill="url(#ffin)" stroke="#111" stroke-width="2"/>
<path d="M817.9,588.3 L845.4,608.6 M826.3,585.0 L852.7,604.5 M834.8,581.7 L859.9,600.3 M843.2,578.3 L867.2,596.2 M851.6,575.0 L874.5,592.1 M860.0,571.7 L881.8,588.0 M868.5,568.4 L889.1,583.9 M876.9,565.0 L896.3,579.8 M885.3,561.7 L903.6,575.7 M893.7,558.4 L910.9,571.6 M902.1,555.0 L918.2,567.5 M910.6,551.7 L925.5,563.4 M919.0,548.4 L932.7,559.2 " stroke="#333" stroke-width="1"/>
<path d="M740.0,588.9 C747.4,605.4 758.3,616.3 771.1,619.1 C776.6,618.2 777.5,610.8 775.7,605.4 C763.8,596.2 756.5,590.7 754.7,587.1 Z" fill="url(#ffin)" stroke="#111" stroke-width="2"/>
<path d="M745.1,589.4 L768.8,612.5 M748.3,588.9 L770.6,609.9 M751.5,588.5 L772.3,607.4 " stroke="#333" stroke-width="1"/>
<path d="M662.4,524.9 C690.7,510.3 727.3,493.9 772.9,488.4 C827.8,483.8 882.6,493.9 919.2,508.5 C937.5,515.8 952.1,522.2 964.0,524.0 C972.2,515.8 985.0,502.1 997.8,491.1 C992.3,504.8 985.3,521.3 985.3,532.3 C985.9,545.0 992.3,557.8 1001.4,568.8 C985.0,561.5 972.2,545.0 964.0,537.7 C937.5,541.4 900.9,554.2 864.3,574.3 C827.8,588.9 791.2,592.6 754.7,588.9 C718.1,583.4 690.7,570.6 677.9,559.7 C670.6,554.2 663.3,545.0 661.5,532.3 Z" fill="url(#fbody)"/>
<path d="M955.7,523.1 L964.0,524.0 C972.2,515.8 985.0,502.1 997.8,491.1 C992.3,504.8 985.3,521.3 985.3,532.3 C985.9,545.0 992.3,557.8 1001.4,568.8 C985.0,561.5 972.2,545.0 964.0,537.7 L955.7,538.6 Z" fill="url(#ffin)"/>
<path d="M662.4,524.9 C690.7,510.3 727.3,493.9 772.9,488.4 C827.8,483.8 882.6,493.9 919.2,508.5 C937.5,515.8 952.1,522.2 964.0,524.0 C972.2,515.8 985.0,502.1 997.8,491.1 C992.3,504.8 985.3,521.3 985.3,532.3 C985.9,545.0 992.3,557.8 1001.4,568.8 C985.0,561.5 972.2,545.0 964.0,537.7 C937.5,541.4 900.9,554.2 864.3,574.3 C827.8,588.9 791.2,592.6 754.7,588.9 C718.1,583.4 690.7,570.6 677.9,559.7 C670.6,554.2 663.3,545.0 661.5,532.3 Z" fill="none" stroke="#111" stroke-width="2.4"/>
<path d="M961.2,527.7 L994.9,495.2 M961.2,528.3 L993.0,501.9 M961.2,528.8 L991.1,508.7 M961.2,529.4 L989.2,515.4 M961.2,530.0 L987.2,522.1 M961.2,530.6 L985.3,528.8 M961.2,531.2 L985.6,535.2 M961.2,531.8 L988.1,541.2 M961.2,532.3 L990.6,547.2 M961.2,532.9 L993.1,553.3 M961.2,533.5 L995.6,559.3 M961.2,534.1 L998.1,565.3 " stroke="#333" stroke-width="1"/>
<ellipse cx="705.3" cy="535.9" rx="28" ry="18" fill="#888" opacity="0.25"/>
<path d="M656.0,534.1 C654.1,537.7 666.9,548.7 685.2,556.0 C690.7,555.1 688.9,551.4 681.6,549.6 C672.4,545.0 663.3,535.9 656.0,534.1 Z" fill="#d8d8d8" stroke="#111" stroke-width="2"/>
<path d="M663.3,528.6 C666.9,537.7 674.2,545.0 678.8,549.6" fill="none" stroke="#111" stroke-width="1.8"/>
<path d="M730.9,503.0 C741.9,514.0 747.4,526.8 747.4,535.9" fill="none" stroke="#111" stroke-width="1.5"/>
<path d="M712.6,515.8 C727.3,523.1 729.1,535.9 703.5,543.2" fill="none" stroke="#111" stroke-width="1.5"/>
<path d="M696.2,564.2 C714.5,570.6 730.9,559.7 732.7,548.7" fill="none" stroke="#111" stroke-width="1.3"/>
<path d="M713.5,576.1 C727.3,570.6 734.6,563.3 736.4,541.4" fill="none" stroke="#111" stroke-width="1.3"/>
<circle cx="694.4" cy="528.6" r="9" fill="#fff" stroke="#111" stroke-width="1.8"/>
<circle cx="694.4" cy="528.6" r="5.2" fill="#111"/>
<circle cx="692.9" cy="527.1" r="2" fill="#fff"/>
<path d="M747.4,514.9 C791.2,504.8 827.8,506.7 846.1,517.6 C873.5,526.8 919.2,528.6 957.6,528.2" fill="none" stroke="#111" stroke-width="2"/>
<path d="M752.1,498.5 Q755.8,509.5 756.1,518.3 M759.2,497.7 Q762.9,508.7 763.3,517.6 M766.4,497.1 Q770.0,508.0 770.4,516.9 M773.5,496.6 Q777.2,507.6 777.5,516.4 M780.6,496.4 Q784.3,507.3 784.6,516.2 M787.8,496.4 Q791.4,507.3 791.8,516.2 M794.9,496.7 Q798.5,507.6 798.9,516.5 M802.0,497.2 Q805.7,508.2 806.0,517.0 M809.1,498.1 Q812.8,509.0 813.2,517.9 M816.3,499.1 Q819.9,510.1 820.3,519.0 M823.4,500.4 Q827.1,511.4 827.4,520.3 M830.5,501.9 Q834.2,512.9 834.5,521.7 M837.7,503.5 Q841.3,514.5 841.7,523.3 M844.8,505.0 Q848.4,515.9 848.8,524.8 M851.9,505.6 Q855.6,516.6 855.9,525.5 M859.0,506.3 Q862.7,517.3 863.1,526.1 M866.2,507.0 Q869.8,518.0 870.2,526.8 M873.3,507.7 Q877.0,518.6 877.3,527.5 M880.4,508.3 Q884.1,519.3 884.4,528.2 M887.6,509.0 Q891.2,520.0 891.6,528.9 M894.7,509.7 Q898.3,520.7 898.7,529.5 M901.8,513.1 Q905.5,521.3 905.8,528.7 M908.9,513.8 Q912.6,522.0 913.0,529.4 M916.1,514.5 Q919.7,522.7 920.1,530.1 M923.2,515.2 Q926.8,523.4 927.2,530.7 M930.3,515.8 Q934.0,524.1 934.3,531.4 M937.5,516.5 Q941.1,524.7 941.5,532.1 M944.6,517.2 Q948.2,525.4 948.6,532.8 " fill="none" stroke="#222" stroke-width="1.2"/>
<path d="M741.0,541.4 C763.8,537.7 800.4,552.4 816.8,561.5 C824.1,567.0 815.0,576.1 800.4,576.1 C783.9,576.1 772.9,577.9 762.0,580.7 C751.0,574.3 740.0,561.5 741.0,541.4 Z" fill="#c4c4c4" stroke="#111" stroke-width="2"/>
<path d="M747.4,545.0 Q780.3,550.5 813.2,563.3" fill="none" stroke="#333" stroke-width="1"/>
<path d="M747.4,548.7 Q772.0,554.2 796.7,567.0" fill="none" stroke="#333" stroke-width="1"/>
<path d="M747.4,554.2 Q765.6,559.2 783.9,571.5" fill="none" stroke="#333" stroke-width="1"/>
<path d="M747.4,559.7 Q760.2,564.2 772.9,576.1" fill="none" stroke="#333" stroke-width="1"/>
</g>

<defs>
<filter id="cblur" x="-20%" y="-20%" width="140%" height="140%"><feGaussianBlur stdDeviation="3.5"/></filter>
<filter id="cblur2" x="-20%" y="-20%" width="140%" height="140%"><feGaussianBlur stdDeviation="1.5"/></filter>
<clipPath id="cabclip"><path d="M1912.9,395.2 C1915.7,387.8 1918.8,381.4 1927.5,377.4 C1936.2,373.3 1955.1,373.8 1964.9,370.9 C1974.6,367.9 1978.7,360.0 1986.0,359.5 C1993.3,359.0 2000.0,368.3 2008.7,367.6 C2017.4,366.9 2029.8,356.0 2037.9,355.4 C2046.1,354.9 2052.6,361.0 2057.4,364.4 C2062.3,367.8 2061.8,374.9 2067.2,375.7 C2072.6,376.5 2082.1,368.4 2089.9,369.2 C2097.8,370.1 2108.1,375.5 2114.3,380.6 C2120.5,385.8 2124.9,392.8 2127.3,400.1 C2129.7,407.4 2129.2,418.2 2128.9,424.5 C2128.6,430.7 2125.4,432.6 2125.7,437.5 C2125.9,442.3 2129.5,446.9 2130.5,453.7 C2131.6,460.5 2132.6,472.7 2132.2,478.1 C2131.8,483.5 2129.6,480.2 2128.1,486.1 C2126.6,491.9 2125.8,502.5 2123.0,513.4 C2120.2,524.3 2115.5,539.0 2111.2,551.4 C2106.9,563.8 2103.7,576.7 2097.1,587.9 C2090.5,599.0 2081.7,610.7 2071.6,618.2 C2061.5,625.6 2047.6,630.2 2036.3,632.4 C2025.0,634.7 2014.2,634.1 2003.6,631.7 C1993.1,629.3 1982.1,624.6 1973.2,618.2 C1964.2,611.7 1956.2,603.1 1950.1,592.9 C1944.0,582.8 1940.3,569.6 1936.5,557.4 C1932.6,545.3 1930.4,532.0 1926.9,520.0 C1923.4,507.9 1918.3,493.7 1915.6,485.2 C1912.8,476.7 1911.2,476.5 1910.4,469.0 C1909.6,461.6 1910.7,448.2 1910.7,440.4 C1910.7,432.6 1910.1,429.5 1910.4,422.0 C1910.8,414.5 1910.0,402.7 1912.9,395.2 Z"/></clipPath>
</defs>
<g id="cabbage" stroke-linejoin="round" stroke-linecap="round">
<path d="M1912.9,395.2 C1915.7,387.8 1918.8,381.4 1927.5,377.4 C1936.2,373.3 1955.1,373.8 1964.9,370.9 C1974.6,367.9 1978.7,360.0 1986.0,359.5 C1993.3,359.0 2000.0,368.3 2008.7,367.6 C2017.4,366.9 2029.8,356.0 2037.9,355.4 C2046.1,354.9 2052.6,361.0 2057.4,364.4 C2062.3,367.8 2061.8,374.9 2067.2,375.7 C2072.6,376.5 2082.1,368.4 2089.9,369.2 C2097.8,370.1 2108.1,375.5 2114.3,380.6 C2120.5,385.8 2124.9,392.8 2127.3,400.1 C2129.7,407.4 2129.2,418.2 2128.9,424.5 C2128.6,430.7 2125.4,432.6 2125.7,437.5 C2125.9,442.3 2129.5,446.9 2130.5,453.7 C2131.6,460.5 2132.6,472.7 2132.2,478.1 C2131.8,483.5 2129.6,480.2 2128.1,486.1 C2126.6,491.9 2125.8,502.5 2123.0,513.4 C2120.2,524.3 2115.5,539.0 2111.2,551.4 C2106.9,563.8 2103.7,576.7 2097.1,587.9 C2090.5,599.0 2081.7,610.7 2071.6,618.2 C2061.5,625.6 2047.6,630.2 2036.3,632.4 C2025.0,634.7 2014.2,634.1 2003.6,631.7 C1993.1,629.3 1982.1,624.6 1973.2,618.2 C1964.2,611.7 1956.2,603.1 1950.1,592.9 C1944.0,582.8 1940.3,569.6 1936.5,557.4 C1932.6,545.3 1930.4,532.0 1926.9,520.0 C1923.4,507.9 1918.3,493.7 1915.6,485.2 C1912.8,476.7 1911.2,476.5 1910.4,469.0 C1909.6,461.6 1910.7,448.2 1910.7,440.4 C1910.7,432.6 1910.1,429.5 1910.4,422.0 C1910.8,414.5 1910.0,402.7 1912.9,395.2 Z" fill="#a8a8a8" filter="url(#cblur)" transform="translate(-2,3)"/>
<path d="M1912.9,395.2 C1915.7,387.8 1918.8,381.4 1927.5,377.4 C1936.2,373.3 1955.1,373.8 1964.9,370.9 C1974.6,367.9 1978.7,360.0 1986.0,359.5 C1993.3,359.0 2000.0,368.3 2008.7,367.6 C2017.4,366.9 2029.8,356.0 2037.9,355.4 C2046.1,354.9 2052.6,361.0 2057.4,364.4 C2062.3,367.8 2061.8,374.9 2067.2,375.7 C2072.6,376.5 2082.1,368.4 2089.9,369.2 C2097.8,370.1 2108.1,375.5 2114.3,380.6 C2120.5,385.8 2124.9,392.8 2127.3,400.1 C2129.7,407.4 2129.2,418.2 2128.9,424.5 C2128.6,430.7 2125.4,432.6 2125.7,437.5 C2125.9,442.3 2129.5,446.9 2130.5,453.7 C2131.6,460.5 2132.6,472.7 2132.2,478.1 C2131.8,483.5 2129.6,480.2 2128.1,486.1 C2126.6,491.9 2125.8,502.5 2123.0,513.4 C2120.2,524.3 2115.5,539.0 2111.2,551.4 C2106.9,563.8 2103.7,576.7 2097.1,587.9 C2090.5,599.0 2081.7,610.7 2071.6,618.2 C2061.5,625.6 2047.6,630.2 2036.3,632.4 C2025.0,634.7 2014.2,634.1 2003.6,631.7 C1993.1,629.3 1982.1,624.6 1973.2,618.2 C1964.2,611.7 1956.2,603.1 1950.1,592.9 C1944.0,582.8 1940.3,569.6 1936.5,557.4 C1932.6,545.3 1930.4,532.0 1926.9,520.0 C1923.4,507.9 1918.3,493.7 1915.6,485.2 C1912.8,476.7 1911.2,476.5 1910.4,469.0 C1909.6,461.6 1910.7,448.2 1910.7,440.4 C1910.7,432.6 1910.1,429.5 1910.4,422.0 C1910.8,414.5 1910.0,402.7 1912.9,395.2 Z" fill="#727272"/>
<g clip-path="url(#cabclip)">
<path d="M1901.5,421.2 C1927.5,416.3 1943.7,437.5 1942.1,500.0 L1987.9,637.4 L1907.4,637.4 Z" fill="#848484"/>
<path d="M2135.4,424.5 C2114.3,421.2 2099.7,445.6 2102.9,500.0 L2056.1,637.4 L2142.8,637.4 Z" fill="#848484"/>
<path d="M1907.4,525.9 L2139.7,525.9 L2139.7,646.7 L1907.4,646.7 Z" fill="#9a9a9a" filter="url(#cblur)" opacity="0.8"/>
<path d="M1935.6,431.0 C1940.5,408.2 1956.7,393.6 1971.3,388.7 L1963.2,418.0 Z" fill="#555"/>
<path d="M2081.8,393.6 C2099.7,400.1 2114.3,414.7 2119.2,431.0 L2089.9,424.5 Z" fill="#555"/>
<path d="M1947.1,418.1 C1953.3,406.7 1961.0,391.9 1972.8,385.7 C1984.6,379.4 2003.9,380.9 2017.8,380.5 C2031.7,380.2 2044.5,380.3 2056.2,383.6 C2067.9,387.0 2080.2,393.0 2088.1,400.7 C2096.1,408.4 2100.2,418.0 2104.0,429.8 C2107.9,441.6 2109.8,464.1 2111.3,471.5 C2112.8,478.9 2113.2,467.1 2112.9,474.3 C2112.5,481.4 2112.1,500.7 2109.1,514.4 C2106.1,528.2 2099.9,543.2 2094.9,556.8 C2089.9,570.3 2086.3,584.3 2079.1,595.9 C2071.9,607.6 2061.7,620.8 2051.6,626.6 C2041.5,632.3 2029.7,631.8 2018.6,630.7 C2007.4,629.6 1994.1,627.1 1984.6,619.9 C1975.2,612.7 1969.0,600.7 1962.0,587.4 C1955.0,574.0 1947.0,554.8 1942.7,539.7 C1938.4,524.7 1937.3,511.2 1936.1,496.9 C1935.0,482.5 1933.8,466.8 1935.6,453.7 C1937.4,440.5 1940.9,429.4 1947.1,418.1 Z" fill="#a6a6a6"/>
<g clip-path="url(#cabclip)">
<path d="M1960.2,417.5 L1959.8,415.8 L1959.8,414.4 L1960.3,413.5 L1961.5,413.2 L1963.1,413.3 L1964.9,413.5 L1966.5,413.6 L1967.6,413.3 L1968.1,412.3 L1968.0,410.9 L1967.6,409.1 L1967.2,407.4" fill="none" stroke="#949494" stroke-width="2.3"/>
<path d="M1958.9,482.2 L1956.8,481.3 L1955.2,480.2 L1954.7,479.0 L1955.2,477.5 L1956.6,475.8 L1958.3,474.1 L1959.6,472.4 L1960.1,470.9 L1959.5,469.7 L1957.8,468.7 L1955.6,467.8 L1953.5,466.9" fill="none" stroke="#8e8e8e" stroke-width="2.3"/>
<path d="M2111.9,476.8 L2113.1,478.5 L2113.9,480.1 L2113.7,481.4 L2112.5,482.3 L2110.5,483.0 L2108.3,483.5 L2106.5,484.2 L2105.3,485.1 L2105.2,486.4 L2106.0,488.0 L2107.3,489.8 L2108.6,491.6" fill="none" stroke="#b8b8b8" stroke-width="1.8"/>
<path d="M1973.2,594.0 L1972.0,595.5 L1970.8,596.5 L1969.7,596.6 L1968.6,595.8 L1967.6,594.3 L1966.7,592.6 L1965.7,591.1 L1964.6,590.4 L1963.5,590.6 L1962.3,591.6 L1961.1,593.2 L1959.8,594.6" fill="none" stroke="#8e8e8e" stroke-width="1.8"/>
<path d="M1975.3,447.5 L1974.8,445.7 L1974.7,444.2 L1975.2,443.3 L1976.4,442.9 L1978.1,442.9 L1980.0,443.1 L1981.7,443.1 L1982.8,442.6 L1983.3,441.6 L1983.1,440.1 L1982.5,438.3 L1982.0,436.5" fill="none" stroke="#bebebe" stroke-width="1.8"/>
<path d="M2050.9,411.5 L2052.0,409.9 L2053.2,408.8 L2054.4,408.6 L2055.5,409.4 L2056.6,410.9 L2057.7,412.6 L2058.8,414.1 L2059.9,414.8 L2061.1,414.5 L2062.3,413.3 L2063.5,411.7 L2064.6,410.1" fill="none" stroke="#b8b8b8" stroke-width="1.8"/>
<path d="M1952.2,537.6 L1951.1,537.1 L1950.3,536.5 L1950.0,535.9 L1950.3,535.1 L1951.1,534.3 L1951.9,533.4 L1952.6,532.5 L1952.9,531.8 L1952.6,531.1 L1951.7,530.6 L1950.6,530.1 L1949.5,529.6" fill="none" stroke="#c6c6c6" stroke-width="1.3"/>
<path d="M2100.4,466.4 L2102.6,466.4 L2104.4,466.7 L2105.3,467.6 L2105.4,469.1 L2104.8,471.0 L2104.0,473.2 L2103.5,475.1 L2103.7,476.6 L2104.7,477.4 L2106.5,477.7 L2108.8,477.6 L2111.0,477.6" fill="none" stroke="#949494" stroke-width="1.8"/>
<path d="M2018.0,409.7 L2019.5,407.7 L2021.1,406.4 L2022.5,406.2 L2023.9,407.3 L2025.2,409.2 L2026.5,411.4 L2027.8,413.3 L2029.2,414.2 L2030.7,413.9 L2032.2,412.5 L2033.8,410.5 L2035.3,408.6" fill="none" stroke="#bebebe" stroke-width="1.3"/>
<path d="M1999.6,406.5 L2000.8,404.6 L2002.0,403.4 L2003.3,403.1 L2004.5,403.9 L2005.8,405.5 L2007.1,407.3 L2008.4,408.8 L2009.7,409.5 L2011.0,409.2 L2012.2,407.8 L2013.4,406.0 L2014.6,404.1" fill="none" stroke="#949494" stroke-width="2.3"/>
<path d="M2071.6,578.0 L2071.9,579.3 L2072.0,580.4 L2071.7,581.1 L2070.8,581.3 L2069.6,581.3 L2068.2,581.2 L2067.0,581.2 L2066.2,581.5 L2065.9,582.2 L2066.0,583.3 L2066.4,584.6 L2066.7,585.9" fill="none" stroke="#bebebe" stroke-width="1.3"/>
<path d="M1948.2,445.3 L1947.2,443.8 L1946.6,442.4 L1946.8,441.4 L1947.8,440.6 L1949.4,440.1 L1951.3,439.7 L1952.9,439.1 L1953.8,438.4 L1953.9,437.3 L1953.3,435.9 L1952.2,434.3 L1951.2,432.8" fill="none" stroke="#949494" stroke-width="1.3"/>
<path d="M2046.1,420.4 L2048.5,419.8 L2050.4,419.7 L2051.6,420.4 L2052.1,422.0 L2051.9,424.2 L2051.6,426.7 L2051.5,428.9 L2052.1,430.4 L2053.3,431.0 L2055.3,430.8 L2057.7,430.2 L2060.0,429.6" fill="none" stroke="#bebebe" stroke-width="2.3"/>
<path d="M2091.6,433.3 L2093.2,434.0 L2094.3,434.8 L2094.7,435.7 L2094.3,436.8 L2093.3,438.0 L2092.0,439.3 L2091.0,440.5 L2090.7,441.5 L2091.2,442.4 L2092.3,443.2 L2093.9,443.9 L2095.5,444.5" fill="none" stroke="#878787" stroke-width="1.3"/>
<path d="M1972.7,414.0 L1973.4,411.5 L1974.4,409.7 L1975.7,408.9 L1977.4,409.4 L1979.4,410.7 L1981.5,412.3 L1983.5,413.6 L1985.2,413.9 L1986.5,413.0 L1987.4,411.1 L1988.1,408.5 L1988.8,406.1" fill="none" stroke="#949494" stroke-width="2.3"/>
<path d="M2031.4,390.0 L2033.4,388.1 L2035.4,386.8 L2037.0,386.9 L2038.4,388.2 L2039.6,390.6 L2040.7,393.3 L2041.9,395.7 L2043.3,396.9 L2045.0,396.8 L2046.9,395.5 L2049.0,393.5 L2051.1,391.6" fill="none" stroke="#949494" stroke-width="1.8"/>
<path d="M2072.8,422.4 L2075.6,421.9 L2077.9,421.9 L2079.3,422.8 L2079.7,424.7 L2079.4,427.4 L2078.8,430.3 L2078.6,432.9 L2079.1,434.7 L2080.6,435.5 L2082.9,435.5 L2085.8,434.9 L2088.6,434.4" fill="none" stroke="#949494" stroke-width="1.8"/>
<path d="M1937.7,539.5 L1935.4,539.5 L1933.6,539.2 L1932.6,538.3 L1932.6,536.7 L1933.2,534.7 L1934.0,532.4 L1934.6,530.4 L1934.4,528.9 L1933.4,528.0 L1931.5,527.8 L1929.1,527.8 L1926.9,527.8" fill="none" stroke="#8e8e8e" stroke-width="2.3"/>
<path d="M2083.8,565.0 L2084.2,567.8 L2084.1,570.0 L2083.2,571.4 L2081.3,571.7 L2078.7,571.3 L2075.9,570.7 L2073.3,570.3 L2071.5,570.8 L2070.6,572.2 L2070.6,574.5 L2071.0,577.3 L2071.4,580.1" fill="none" stroke="#878787" stroke-width="2.3"/>
<path d="M1934.5,483.5 L1932.5,482.6 L1931.1,481.5 L1930.6,480.3 L1931.2,479.0 L1932.6,477.4 L1934.2,475.9 L1935.5,474.4 L1936.0,473.0 L1935.4,471.8 L1933.9,470.8 L1931.9,469.9 L1930.0,469.0" fill="none" stroke="#b8b8b8" stroke-width="1.8"/>
<path d="M2064.8,597.6 L2063.8,599.6 L2062.6,601.0 L2061.4,601.4 L2060.0,600.8 L2058.5,599.3 L2057.0,597.5 L2055.5,596.0 L2054.1,595.4 L2052.9,595.9 L2051.7,597.4 L2050.7,599.4 L2049.6,601.4" fill="none" stroke="#b8b8b8" stroke-width="2.3"/>
<path d="M2001.3,411.4 L2002.2,409.5 L2003.1,408.1 L2004.2,407.7 L2005.5,408.2 L2007.0,409.5 L2008.5,411.0 L2009.9,412.3 L2011.2,412.7 L2012.3,412.2 L2013.3,410.8 L2014.1,408.8 L2015.0,407.0" fill="none" stroke="#8e8e8e" stroke-width="2.3"/>
<path d="M2015.2,402.1 L2016.8,401.0 L2018.2,400.5 L2019.3,400.7 L2020.1,401.8 L2020.5,403.5 L2020.9,405.5 L2021.4,407.1 L2022.1,408.1 L2023.3,408.3 L2024.7,407.7 L2026.4,406.6 L2028.0,405.6" fill="none" stroke="#b8b8b8" stroke-width="2.3"/>
<path d="M2057.9,440.2 L2060.0,440.5 L2061.5,441.0 L2062.3,442.0 L2062.1,443.4 L2061.3,445.1 L2060.3,447.0 L2059.5,448.7 L2059.4,450.1 L2060.2,451.0 L2061.9,451.5 L2063.9,451.7 L2066.0,452.0" fill="none" stroke="#949494" stroke-width="1.3"/>
<path d="M2100.4,501.8 L2101.9,502.5 L2102.9,503.4 L2103.2,504.3 L2102.7,505.3 L2101.6,506.4 L2100.3,507.5 L2099.3,508.6 L2098.9,509.6 L2099.2,510.5 L2100.3,511.3 L2101.8,512.1 L2103.2,512.8" fill="none" stroke="#b8b8b8" stroke-width="1.8"/>
<path d="M1955.6,473.2 L1954.0,471.6 L1953.0,470.1 L1952.9,468.8 L1954.0,467.7 L1955.8,466.7 L1957.9,465.7 L1959.7,464.7 L1960.6,463.6 L1960.4,462.2 L1959.3,460.8 L1957.7,459.2 L1956.1,457.6" fill="none" stroke="#c6c6c6" stroke-width="1.8"/>
<path d="M2046.2,399.7 L2047.4,399.5 L2048.4,399.5 L2049.0,399.9 L2049.2,400.7 L2049.1,401.8 L2048.9,403.0 L2048.8,404.2 L2049.0,404.9 L2049.7,405.3 L2050.7,405.2 L2051.9,405.0 L2053.1,404.7" fill="none" stroke="#bebebe" stroke-width="2.3"/>
<path d="M1928.7,500.3 L1926.8,500.2 L1925.3,499.9 L1924.5,499.1 L1924.5,497.8 L1925.1,496.1 L1925.9,494.2 L1926.4,492.6 L1926.3,491.3 L1925.5,490.5 L1923.9,490.2 L1922.0,490.1 L1920.0,490.1" fill="none" stroke="#878787" stroke-width="1.8"/>
<path d="M2031.2,398.6 L2032.1,397.1 L2033.1,396.0 L2034.1,395.7 L2035.2,396.3 L2036.3,397.6 L2037.4,399.0 L2038.5,400.2 L2039.6,400.8 L2040.6,400.4 L2041.6,399.3 L2042.5,397.7 L2043.5,396.2" fill="none" stroke="#c6c6c6" stroke-width="1.3"/>
<path d="M1997.2,408.7 L1998.4,407.0 L1999.6,405.9 L2000.8,405.7 L2002.0,406.5 L2003.2,408.0 L2004.3,409.8 L2005.5,411.3 L2006.7,412.0 L2007.9,411.7 L2009.1,410.5 L2010.3,408.8 L2011.5,407.1" fill="none" stroke="#c6c6c6" stroke-width="1.3"/>
<path d="M2097.1,436.1 L2099.9,436.3 L2102.0,436.9 L2103.1,438.1 L2103.0,440.0 L2102.1,442.4 L2100.9,445.0 L2100.0,447.3 L2100.0,449.2 L2101.2,450.3 L2103.4,450.8 L2106.2,451.0 L2109.0,451.2" fill="none" stroke="#878787" stroke-width="1.3"/>
<path d="M2053.4,393.3 L2055.7,391.4 L2057.7,390.3 L2059.4,390.4 L2060.7,391.9 L2061.7,394.4 L2062.7,397.2 L2063.7,399.6 L2065.1,401.0 L2066.8,401.0 L2068.8,399.8 L2071.1,397.9 L2073.3,396.0" fill="none" stroke="#b8b8b8" stroke-width="2.3"/>
<path d="M2084.0,526.6 L2084.7,528.9 L2085.0,530.7 L2084.4,532.0 L2082.9,532.5 L2080.7,532.6 L2078.3,532.4 L2076.1,532.5 L2074.7,533.2 L2074.2,534.5 L2074.5,536.4 L2075.3,538.6 L2076.0,540.8" fill="none" stroke="#c6c6c6" stroke-width="2.3"/>
<path d="M1962.0,442.5 L1960.6,440.8 L1959.7,439.3 L1959.8,438.0 L1960.8,437.0 L1962.7,436.2 L1964.8,435.4 L1966.6,434.6 L1967.6,433.5 L1967.6,432.3 L1966.7,430.7 L1965.2,429.1 L1963.8,427.4" fill="none" stroke="#8e8e8e" stroke-width="1.8"/>
<path d="M2106.5,509.6 L2107.6,510.7 L2108.3,511.6 L2108.4,512.5 L2107.7,513.3 L2106.5,514.0 L2105.1,514.7 L2104.0,515.4 L2103.4,516.2 L2103.5,517.0 L2104.3,518.0 L2105.4,519.0 L2106.5,520.0" fill="none" stroke="#b8b8b8" stroke-width="2.3"/>
<path d="M1929.1,467.1 L1927.4,465.2 L1926.3,463.5 L1926.3,462.0 L1927.6,460.7 L1929.8,459.7 L1932.2,458.8 L1934.4,457.7 L1935.5,456.5 L1935.4,455.0 L1934.3,453.2 L1932.5,451.3 L1930.8,449.4" fill="none" stroke="#c6c6c6" stroke-width="1.8"/>
<path d="M2057.5,429.3 L2059.6,429.1 L2061.3,429.2 L2062.2,429.9 L2062.5,431.3 L2062.1,433.2 L2061.6,435.3 L2061.3,437.2 L2061.6,438.5 L2062.7,439.2 L2064.4,439.3 L2066.5,439.0 L2068.6,438.7" fill="none" stroke="#878787" stroke-width="1.3"/>
<path d="M2051.1,415.4 L2053.2,415.1 L2054.8,415.2 L2055.7,415.9 L2056.0,417.2 L2055.7,419.1 L2055.2,421.2 L2054.9,423.0 L2055.2,424.3 L2056.2,425.0 L2057.9,425.0 L2060.0,424.7 L2062.0,424.4" fill="none" stroke="#878787" stroke-width="1.8"/>
<path d="M2069.3,595.7 L2069.2,597.3 L2069.0,598.5 L2068.3,599.2 L2067.2,599.2 L2065.8,598.7 L2064.3,598.0 L2063.0,597.6 L2061.9,597.6 L2061.3,598.3 L2061.0,599.6 L2061.0,601.2 L2060.9,602.8" fill="none" stroke="#8e8e8e" stroke-width="2.3"/>
<path d="M2083.9,465.6 L2086.7,465.2 L2088.9,465.3 L2090.1,466.3 L2090.4,468.2 L2090.0,470.7 L2089.3,473.4 L2088.9,475.9 L2089.3,477.7 L2090.7,478.6 L2092.9,478.7 L2095.7,478.3 L2098.4,478.0" fill="none" stroke="#8e8e8e" stroke-width="2.3"/>
<path d="M1982.7,415.3 L1983.4,413.1 L1984.3,411.5 L1985.5,410.9 L1987.0,411.3 L1988.7,412.5 L1990.5,414.0 L1992.3,415.1 L1993.7,415.5 L1994.9,414.7 L1995.7,413.1 L1996.4,410.8 L1997.1,408.7" fill="none" stroke="#878787" stroke-width="1.8"/>
<path d="M2014.5,383.9 L2016.0,382.7 L2017.3,381.9 L2018.4,382.0 L2019.3,383.0 L2020.0,384.6 L2020.6,386.5 L2021.3,388.1 L2022.2,389.1 L2023.4,389.1 L2024.7,388.3 L2026.2,387.0 L2027.7,385.8" fill="none" stroke="#878787" stroke-width="1.8"/>
<path d="M2001.8,375.9 L2002.7,374.6 L2003.7,373.6 L2004.7,373.4 L2005.6,374.1 L2006.6,375.3 L2007.5,376.8 L2008.5,378.0 L2009.4,378.5 L2010.4,378.3 L2011.4,377.3 L2012.4,375.9 L2013.3,374.5" fill="none" stroke="#878787" stroke-width="1.8"/>
<path d="M1963.4,431.8 L1963.6,429.5 L1964.0,427.7 L1965.1,426.8 L1966.7,426.8 L1968.7,427.6 L1970.9,428.6 L1972.9,429.4 L1974.4,429.4 L1975.4,428.4 L1975.8,426.5 L1976.0,424.1 L1976.1,421.8" fill="none" stroke="#c6c6c6" stroke-width="1.3"/>
<path d="M2093.7,562.8 L2094.5,565.2 L2094.7,567.1 L2094.1,568.4 L2092.5,568.9 L2090.2,569.0 L2087.7,568.8 L2085.5,568.9 L2084.0,569.5 L2083.4,570.8 L2083.7,572.8 L2084.5,575.2 L2085.2,577.5" fill="none" stroke="#949494" stroke-width="1.8"/>
<path d="M1963.8,586.9 L1961.3,587.0 L1959.3,586.8 L1958.3,585.8 L1958.1,584.1 L1958.7,581.9 L1959.5,579.5 L1960.0,577.3 L1959.8,575.7 L1958.7,574.8 L1956.6,574.6 L1954.1,574.7 L1951.7,574.8" fill="none" stroke="#8e8e8e" stroke-width="1.3"/>
<path d="M2048.6,411.5 L2049.9,411.2 L2050.9,411.1 L2051.6,411.4 L2051.9,412.3 L2051.9,413.6 L2051.8,414.9 L2051.8,416.2 L2052.1,417.0 L2052.8,417.3 L2053.9,417.2 L2055.2,416.8 L2056.5,416.4" fill="none" stroke="#949494" stroke-width="2.3"/>
<path d="M1982.7,429.6 L1982.1,427.1 L1982.0,425.1 L1982.7,423.8 L1984.4,423.4 L1986.7,423.5 L1989.3,423.9 L1991.6,424.0 L1993.1,423.4 L1993.8,422.1 L1993.6,420.0 L1993.0,417.6 L1992.4,415.2" fill="none" stroke="#c6c6c6" stroke-width="1.8"/>
<path d="M1996.8,423.3 L1996.7,421.7 L1996.8,420.4 L1997.4,419.7 L1998.5,419.5 L2000.0,419.9 L2001.6,420.3 L2003.0,420.6 L2004.1,420.4 L2004.6,419.6 L2004.7,418.3 L2004.6,416.7 L2004.4,415.1" fill="none" stroke="#8e8e8e" stroke-width="1.8"/>
<path d="M2009.3,380.3 L2010.8,379.3 L2012.1,378.7 L2013.1,378.9 L2013.8,379.9 L2014.3,381.4 L2014.8,383.2 L2015.3,384.7 L2016.0,385.6 L2017.1,385.7 L2018.4,385.1 L2019.8,384.1 L2021.3,383.1" fill="none" stroke="#bebebe" stroke-width="1.8"/>
<path d="M2038.7,396.7 L2039.5,395.9 L2040.3,395.3 L2041.0,395.3 L2041.6,395.9 L2042.1,396.9 L2042.6,398.0 L2043.1,399.0 L2043.7,399.5 L2044.4,399.4 L2045.2,398.8 L2046.1,398.0 L2046.9,397.2" fill="none" stroke="#bebebe" stroke-width="1.8"/>
<path d="M1961.4,412.9 L1961.5,411.4 L1961.9,410.2 L1962.5,409.6 L1963.6,409.6 L1964.9,410.2 L1966.4,410.9 L1967.7,411.4 L1968.7,411.4 L1969.4,410.7 L1969.7,409.5 L1969.8,407.9 L1969.9,406.4" fill="none" stroke="#bebebe" stroke-width="1.3"/>
<path d="M1957.5,535.8 L1955.0,535.6 L1953.1,535.0 L1952.2,533.9 L1952.3,532.2 L1953.2,530.1 L1954.4,527.8 L1955.2,525.7 L1955.3,524.0 L1954.2,523.0 L1952.3,522.4 L1949.7,522.2 L1947.3,521.9" fill="none" stroke="#8e8e8e" stroke-width="1.3"/>
<path d="M2061.6,427.1 L2062.6,425.9 L2063.6,425.1 L2064.5,425.0 L2065.3,425.7 L2066.1,426.9 L2066.8,428.3 L2067.6,429.5 L2068.4,430.1 L2069.3,429.9 L2070.3,429.1 L2071.3,427.9 L2072.3,426.8" fill="none" stroke="#bebebe" stroke-width="2.3"/>
<path d="M1943.8,425.9 L1943.3,423.6 L1943.3,421.7 L1944.1,420.5 L1945.7,420.1 L1947.9,420.4 L1950.3,420.9 L1952.5,421.1 L1954.0,420.6 L1954.7,419.4 L1954.6,417.4 L1954.2,415.1 L1953.7,412.7" fill="none" stroke="#878787" stroke-width="1.3"/>
<path d="M2002.9,614.9 L2001.4,615.8 L2000.0,616.2 L1999.0,616.0 L1998.4,615.0 L1998.0,613.3 L1997.7,611.5 L1997.4,609.9 L1996.7,609.0 L1995.6,608.8 L1994.3,609.3 L1992.7,610.2 L1991.2,611.1" fill="none" stroke="#b8b8b8" stroke-width="1.8"/>
<path d="M1931.7,499.6 L1930.4,498.0 L1929.7,496.6 L1929.8,495.5 L1930.8,494.6 L1932.5,493.9 L1934.5,493.2 L1936.2,492.5 L1937.2,491.6 L1937.2,490.4 L1936.4,489.0 L1935.1,487.4 L1933.8,485.9" fill="none" stroke="#878787" stroke-width="1.3"/>
<path d="M1957.0,460.2 L1956.4,458.7 L1956.2,457.4 L1956.6,456.5 L1957.6,456.1 L1959.1,456.0 L1960.8,456.1 L1962.3,455.9 L1963.2,455.5 L1963.5,454.6 L1963.3,453.3 L1962.7,451.7 L1962.1,450.2" fill="none" stroke="#b8b8b8" stroke-width="1.8"/>
<path d="M1935.4,446.8 L1933.4,445.2 L1932.0,443.6 L1931.8,442.1 L1932.9,440.7 L1934.9,439.3 L1937.2,438.0 L1939.1,436.6 L1940.1,435.2 L1939.7,433.7 L1938.3,432.1 L1936.2,430.5 L1934.2,428.9" fill="none" stroke="#949494" stroke-width="1.3"/>
<path d="M2071.9,412.3 L2073.3,411.5 L2074.5,411.0 L2075.5,411.2 L2076.1,412.1 L2076.5,413.6 L2076.8,415.2 L2077.2,416.7 L2077.9,417.5 L2078.8,417.6 L2080.1,417.1 L2081.5,416.2 L2082.8,415.4" fill="none" stroke="#8e8e8e" stroke-width="2.3"/>
<path d="M2008.0,425.1 L2007.9,423.6 L2008.1,422.5 L2008.6,421.8 L2009.6,421.7 L2010.9,422.1 L2012.4,422.6 L2013.6,422.9 L2014.6,422.8 L2015.1,422.1 L2015.3,420.9 L2015.2,419.4 L2015.1,418.0" fill="none" stroke="#bebebe" stroke-width="1.8"/>
<path d="M2090.0,422.5 L2092.3,422.5 L2094.2,423.0 L2095.1,424.0 L2095.1,425.6 L2094.4,427.7 L2093.4,429.9 L2092.7,432.0 L2092.8,433.5 L2093.8,434.5 L2095.7,434.9 L2098.1,435.0 L2100.5,435.1" fill="none" stroke="#bebebe" stroke-width="1.8"/>
<path d="M1952.9,467.0 L1952.6,465.6 L1952.6,464.5 L1953.0,463.7 L1953.9,463.5 L1955.3,463.6 L1956.7,463.8 L1958.0,463.9 L1958.9,463.6 L1959.3,462.8 L1959.2,461.7 L1958.8,460.3 L1958.5,458.9" fill="none" stroke="#b8b8b8" stroke-width="2.3"/>
<path d="M2068.3,394.6 L2070.1,392.3 L2071.8,390.7 L2073.4,390.4 L2075.1,391.6 L2076.7,393.7 L2078.3,396.3 L2079.9,398.4 L2081.5,399.4 L2083.2,399.0 L2084.9,397.3 L2086.6,394.9 L2088.4,392.6" fill="none" stroke="#b8b8b8" stroke-width="1.8"/>
<path d="M2077.6,555.4 L2078.5,556.8 L2079.1,558.0 L2078.9,558.9 L2078.0,559.6 L2076.5,560.0 L2074.9,560.3 L2073.4,560.8 L2072.6,561.5 L2072.5,562.4 L2073.0,563.7 L2074.0,565.0 L2074.9,566.4" fill="none" stroke="#878787" stroke-width="1.8"/>
<path d="M2074.5,432.6 L2076.8,431.1 L2078.8,430.3 L2080.4,430.6 L2081.4,432.1 L2082.1,434.5 L2082.7,437.3 L2083.5,439.7 L2084.6,441.1 L2086.2,441.3 L2088.2,440.4 L2090.5,438.8 L2092.8,437.4" fill="none" stroke="#8e8e8e" stroke-width="1.8"/>
<path d="M1982.5,407.4 L1982.7,405.0 L1983.2,403.1 L1984.2,402.2 L1985.8,402.2 L1987.9,403.0 L1990.2,404.1 L1992.2,404.8 L1993.8,404.8 L1994.8,403.8 L1995.3,401.8 L1995.4,399.4 L1995.6,397.0" fill="none" stroke="#bebebe" stroke-width="1.3"/>
<path d="M1957.4,402.7 L1957.3,400.5 L1957.5,398.7 L1958.4,397.7 L1960.0,397.6 L1962.0,398.1 L1964.2,398.9 L1966.2,399.4 L1967.7,399.2 L1968.6,398.1 L1968.8,396.2 L1968.7,393.9 L1968.6,391.7" fill="none" stroke="#8e8e8e" stroke-width="1.3"/>
<path d="M2110.4,513.5 L2112.4,515.0 L2113.6,516.4 L2113.9,517.8 L2112.9,519.1 L2111.1,520.4 L2109.0,521.7 L2107.3,523.0 L2106.5,524.3 L2106.8,525.7 L2108.2,527.1 L2110.1,528.6 L2112.0,530.0" fill="none" stroke="#8e8e8e" stroke-width="1.8"/>
<path d="M2096.9,441.3 L2098.6,441.1 L2100.0,441.2 L2100.9,441.9 L2101.0,443.0 L2100.7,444.7 L2100.2,446.4 L2100.0,448.0 L2100.2,449.1 L2101.1,449.7 L2102.5,449.8 L2104.3,449.6 L2106.0,449.4" fill="none" stroke="#878787" stroke-width="2.3"/>
<path d="M2084.6,444.7 L2087.4,445.5 L2089.4,446.5 L2090.2,447.9 L2089.8,449.8 L2088.3,452.1 L2086.5,454.4 L2085.1,456.6 L2084.8,458.4 L2085.7,459.8 L2087.8,460.8 L2090.6,461.6 L2093.3,462.4" fill="none" stroke="#8e8e8e" stroke-width="1.3"/>
<path d="M1957.5,461.5 L1956.6,460.6 L1956.1,459.8 L1956.0,459.1 L1956.6,458.5 L1957.6,457.9 L1958.7,457.3 L1959.7,456.8 L1960.2,456.1 L1960.1,455.4 L1959.5,454.6 L1958.5,453.7 L1957.7,452.9" fill="none" stroke="#8e8e8e" stroke-width="1.3"/>
<path d="M2090.2,530.4 L2091.1,531.4 L2091.7,532.3 L2091.7,533.0 L2091.0,533.7 L2089.9,534.3 L2088.7,534.8 L2087.6,535.4 L2087.0,536.0 L2087.1,536.8 L2087.7,537.7 L2088.7,538.7 L2089.6,539.6" fill="none" stroke="#bebebe" stroke-width="2.3"/>
<path d="M1985.1,438.2 L1984.6,436.4 L1984.5,435.0 L1985.0,434.0 L1986.2,433.6 L1987.9,433.7 L1989.8,433.9 L1991.5,433.9 L1992.6,433.5 L1993.1,432.5 L1992.9,431.0 L1992.4,429.2 L1992.0,427.5" fill="none" stroke="#c6c6c6" stroke-width="1.8"/>
<path d="M1972.6,455.3 L1971.3,453.1 L1970.7,451.2 L1971.0,449.8 L1972.5,448.9 L1974.7,448.4 L1977.3,448.0 L1979.5,447.4 L1980.9,446.5 L1981.1,445.0 L1980.4,443.1 L1979.1,440.9 L1977.9,438.7" fill="none" stroke="#c6c6c6" stroke-width="1.3"/>
<path d="M2078.0,421.7 L2080.7,421.3 L2082.8,421.4 L2084.1,422.4 L2084.4,424.2 L2084.0,426.6 L2083.4,429.4 L2083.0,431.8 L2083.5,433.5 L2084.8,434.4 L2087.0,434.4 L2089.7,434.0 L2092.4,433.6" fill="none" stroke="#8e8e8e" stroke-width="1.8"/>
<path d="M1941.5,553.7 L1938.9,553.9 L1936.9,553.7 L1935.7,552.7 L1935.5,551.0 L1936.0,548.6 L1936.8,546.1 L1937.2,543.7 L1936.9,542.1 L1935.7,541.2 L1933.5,541.0 L1930.9,541.3 L1928.4,541.5" fill="none" stroke="#bebebe" stroke-width="1.3"/>
<path d="M2045.2,377.2 L2047.0,376.3 L2048.6,375.8 L2049.8,376.1 L2050.5,377.4 L2050.8,379.3 L2051.0,381.4 L2051.4,383.3 L2052.1,384.4 L2053.3,384.7 L2054.9,384.2 L2056.8,383.2 L2058.6,382.3" fill="none" stroke="#949494" stroke-width="2.3"/>
<path d="M2113.2,485.2 L2115.6,486.9 L2117.1,488.6 L2117.4,490.2 L2116.3,491.8 L2114.2,493.4 L2111.7,495.0 L2109.6,496.6 L2108.6,498.3 L2109.0,499.9 L2110.7,501.6 L2113.0,503.3 L2115.3,505.0" fill="none" stroke="#949494" stroke-width="1.8"/>
<path d="M1983.9,606.8 L1982.6,608.8 L1981.4,610.1 L1980.1,610.5 L1978.7,609.7 L1977.3,608.1 L1975.9,606.2 L1974.5,604.6 L1973.1,603.9 L1971.8,604.4 L1970.6,605.8 L1969.4,607.8 L1968.2,609.8" fill="none" stroke="#c6c6c6" stroke-width="2.3"/>
<path d="M2029.8,404.0 L2031.7,402.0 L2033.5,400.7 L2035.1,400.6 L2036.5,401.9 L2037.7,404.1 L2039.0,406.7 L2040.2,408.8 L2041.7,410.0 L2043.3,409.8 L2045.1,408.4 L2047.0,406.3 L2048.9,404.4" fill="none" stroke="#8e8e8e" stroke-width="2.3"/>
<path d="M1964.4,435.1 L1963.7,433.1 L1963.5,431.5 L1964.0,430.4 L1965.3,429.9 L1967.2,429.8 L1969.3,429.9 L1971.2,429.8 L1972.4,429.2 L1972.9,428.0 L1972.6,426.4 L1971.9,424.4 L1971.2,422.5" fill="none" stroke="#949494" stroke-width="1.3"/>
<path d="M1943.5,555.9 L1941.7,556.5 L1940.2,556.7 L1939.2,556.3 L1938.7,555.1 L1938.6,553.3 L1938.7,551.3 L1938.6,549.6 L1938.1,548.5 L1937.0,548.1 L1935.5,548.3 L1933.7,549.0 L1931.9,549.6" fill="none" stroke="#c6c6c6" stroke-width="2.3"/>
<path d="M1942.0,526.2 L1939.6,525.0 L1938.0,523.7 L1937.5,522.2 L1938.3,520.6 L1940.0,518.9 L1942.1,517.1 L1943.7,515.3 L1944.4,513.7 L1943.8,512.3 L1942.1,511.0 L1939.7,509.7 L1937.4,508.5" fill="none" stroke="#8e8e8e" stroke-width="2.3"/>
<path d="M2056.6,440.2 L2058.1,440.0 L2059.3,440.1 L2060.0,440.6 L2060.2,441.6 L2060.0,443.0 L2059.6,444.5 L2059.4,445.9 L2059.6,446.8 L2060.4,447.3 L2061.6,447.3 L2063.1,447.1 L2064.6,446.9" fill="none" stroke="#c6c6c6" stroke-width="2.3"/>
<path d="M1936.1,544.8 L1933.8,543.5 L1932.1,542.2 L1931.6,540.7 L1932.4,539.1 L1934.2,537.3 L1936.3,535.5 L1938.0,533.7 L1938.6,532.1 L1938.0,530.7 L1936.3,529.3 L1933.9,528.1 L1931.6,526.8" fill="none" stroke="#bebebe" stroke-width="1.3"/>
<path d="M2090.4,495.2 L2091.1,496.5 L2091.5,497.6 L2091.3,498.5 L2090.4,499.0 L2089.1,499.3 L2087.6,499.6 L2086.3,499.9 L2085.5,500.5 L2085.3,501.3 L2085.8,502.5 L2086.5,503.8 L2087.3,505.0" fill="none" stroke="#878787" stroke-width="1.8"/>
<path d="M1957.0,575.6 L1954.9,576.6 L1953.1,577.1 L1951.8,576.6 L1951.0,575.2 L1950.7,573.1 L1950.6,570.7 L1950.2,568.6 L1949.4,567.2 L1948.1,566.9 L1946.2,567.4 L1944.1,568.5 L1942.0,569.4" fill="none" stroke="#8e8e8e" stroke-width="1.3"/>
<path d="M2081.1,459.3 L2083.1,459.4 L2084.7,459.7 L2085.5,460.6 L2085.5,461.9 L2084.8,463.7 L2084.0,465.6 L2083.4,467.3 L2083.5,468.6 L2084.4,469.4 L2086.0,469.7 L2088.0,469.8 L2090.0,469.9" fill="none" stroke="#b8b8b8" stroke-width="1.3"/>
<path d="M2103.2,519.0 L2104.9,520.1 L2106.1,521.2 L2106.3,522.4 L2105.6,523.6 L2104.1,524.8 L2102.4,526.0 L2101.0,527.2 L2100.3,528.3 L2100.7,529.5 L2101.9,530.6 L2103.6,531.8 L2105.3,532.9" fill="none" stroke="#878787" stroke-width="1.8"/>
<path d="M2089.4,489.1 L2091.6,490.3 L2093.2,491.7 L2093.7,493.1 L2092.9,494.7 L2091.1,496.3 L2089.1,498.0 L2087.4,499.7 L2086.7,501.3 L2087.2,502.7 L2088.9,504.0 L2091.2,505.3 L2093.5,506.5" fill="none" stroke="#c6c6c6" stroke-width="1.8"/>
<path d="M2063.1,441.3 L2065.2,440.7 L2066.9,440.6 L2068.0,441.2 L2068.4,442.6 L2068.4,444.7 L2068.1,446.9 L2068.1,448.8 L2068.6,450.2 L2069.8,450.7 L2071.5,450.5 L2073.6,449.9 L2075.7,449.4" fill="none" stroke="#949494" stroke-width="2.3"/>
<path d="M1962.0,465.6 L1961.3,463.3 L1961.2,461.4 L1961.8,460.2 L1963.4,459.7 L1965.6,459.7 L1968.0,460.0 L1970.1,460.0 L1971.6,459.4 L1972.2,458.2 L1971.9,456.2 L1971.3,453.9 L1970.6,451.7" fill="none" stroke="#949494" stroke-width="1.3"/>
<path d="M1969.4,439.9 L1969.5,438.4 L1969.8,437.3 L1970.5,436.7 L1971.5,436.8 L1972.8,437.3 L1974.1,438.0 L1975.4,438.5 L1976.3,438.5 L1977.0,437.9 L1977.3,436.8 L1977.4,435.3 L1977.6,433.8" fill="none" stroke="#bebebe" stroke-width="2.3"/>
<path d="M2113.4,503.4 L2115.3,505.0 L2116.4,506.6 L2116.5,508.1 L2115.4,509.4 L2113.5,510.5 L2111.2,511.7 L2109.2,512.8 L2108.2,514.1 L2108.4,515.6 L2109.7,517.2 L2111.6,518.9 L2113.4,520.5" fill="none" stroke="#878787" stroke-width="1.3"/>
<path d="M1941.9,529.5 L1939.6,527.9 L1937.9,526.3 L1937.6,524.7 L1938.6,523.0 L1940.7,521.3 L1943.1,519.7 L1945.0,518.0 L1945.9,516.3 L1945.5,514.7 L1943.8,513.1 L1941.3,511.5 L1939.0,510.0" fill="none" stroke="#b8b8b8" stroke-width="1.8"/>
<path d="M1962.2,574.1 L1961.3,574.8 L1960.4,575.2 L1959.7,575.2 L1959.2,574.5 L1958.9,573.5 L1958.5,572.3 L1958.2,571.2 L1957.6,570.7 L1956.9,570.6 L1956.1,571.1 L1955.1,571.8 L1954.1,572.5" fill="none" stroke="#bebebe" stroke-width="2.3"/>
<path d="M2067.4,387.8 L2069.6,386.8 L2071.4,386.4 L2072.7,386.9 L2073.4,388.3 L2073.7,390.5 L2073.9,393.0 L2074.2,395.1 L2075.0,396.5 L2076.3,396.8 L2078.2,396.3 L2080.4,395.3 L2082.5,394.3" fill="none" stroke="#878787" stroke-width="1.3"/>
<path d="M1979.8,398.3 L1980.6,395.7 L1981.6,393.8 L1982.9,393.0 L1984.7,393.4 L1986.8,394.8 L1989.0,396.5 L1991.1,397.8 L1992.8,398.1 L1994.2,397.2 L1995.1,395.2 L1995.8,392.6 L1996.6,390.0" fill="none" stroke="#949494" stroke-width="1.3"/>
<path d="M2052.5,381.3 L2053.5,380.6 L2054.4,380.2 L2055.1,380.2 L2055.6,380.9 L2056.0,382.0 L2056.3,383.2 L2056.7,384.2 L2057.2,384.8 L2058.0,384.9 L2058.8,384.4 L2059.8,383.7 L2060.8,383.0" fill="none" stroke="#bebebe" stroke-width="1.8"/>
<path d="M2063.5,602.5 L2062.6,605.0 L2061.6,606.8 L2060.3,607.5 L2058.6,607.0 L2056.6,605.6 L2054.6,603.9 L2052.6,602.6 L2051.0,602.2 L2049.7,603.0 L2048.7,604.9 L2047.9,607.3 L2047.1,609.8" fill="none" stroke="#949494" stroke-width="2.3"/>
<path d="M1950.7,524.4 L1948.2,524.9 L1946.1,524.8 L1944.8,524.0 L1944.4,522.3 L1944.7,519.9 L1945.2,517.2 L1945.4,514.8 L1945.0,513.2 L1943.6,512.4 L1941.5,512.5 L1938.9,513.0 L1936.3,513.4" fill="none" stroke="#8e8e8e" stroke-width="2.3"/>
<path d="M2090.4,472.2 L2093.1,473.2 L2095.0,474.5 L2095.7,476.0 L2095.1,477.9 L2093.4,479.9 L2091.3,482.1 L2089.7,484.1 L2089.2,486.0 L2090.0,487.5 L2092.0,488.7 L2094.7,489.7 L2097.3,490.8" fill="none" stroke="#8e8e8e" stroke-width="1.8"/>
<path d="M1942.0,506.1 L1939.6,505.3 L1937.8,504.4 L1937.0,503.1 L1937.5,501.5 L1938.8,499.5 L1940.4,497.4 L1941.6,495.5 L1941.9,493.8 L1941.1,492.6 L1939.2,491.7 L1936.8,491.0 L1934.4,490.3" fill="none" stroke="#c6c6c6" stroke-width="1.8"/>
<path d="M2069.1,460.0 L2070.6,460.2 L2071.8,460.5 L2072.4,461.2 L2072.3,462.3 L2071.8,463.6 L2071.1,465.0 L2070.5,466.3 L2070.5,467.3 L2071.2,468.0 L2072.4,468.3 L2074.0,468.4 L2075.5,468.6" fill="none" stroke="#949494" stroke-width="1.3"/>
<path d="M2080.6,551.9 L2080.7,554.7 L2080.3,557.0 L2079.2,558.2 L2077.3,558.3 L2074.7,557.6 L2072.0,556.6 L2069.5,556.0 L2067.7,556.2 L2066.6,557.5 L2066.3,559.8 L2066.5,562.7 L2066.5,565.5" fill="none" stroke="#c6c6c6" stroke-width="1.3"/>
<path d="M2086.8,409.7 L2088.3,410.0 L2089.5,410.4 L2090.1,411.1 L2089.9,412.1 L2089.3,413.4 L2088.5,414.8 L2087.9,416.1 L2087.9,417.2 L2088.5,417.8 L2089.7,418.2 L2091.3,418.4 L2092.8,418.7" fill="none" stroke="#878787" stroke-width="2.3"/>
<path d="M2048.8,425.4 L2050.5,425.2 L2051.9,425.3 L2052.6,426.0 L2052.8,427.1 L2052.5,428.7 L2052.0,430.4 L2051.7,431.9 L2052.0,433.0 L2052.8,433.6 L2054.2,433.7 L2055.9,433.5 L2057.6,433.3" fill="none" stroke="#c6c6c6" stroke-width="1.3"/>
<path d="M1950.4,462.0 L1949.4,460.6 L1948.8,459.4 L1948.9,458.5 L1949.7,457.7 L1951.2,457.2 L1952.9,456.7 L1954.3,456.1 L1955.1,455.3 L1955.2,454.3 L1954.5,453.1 L1953.4,451.8 L1952.4,450.5" fill="none" stroke="#949494" stroke-width="1.8"/>
<path d="M1972.9,439.7 L1972.8,438.1 L1972.9,436.9 L1973.4,436.2 L1974.5,436.0 L1975.9,436.3 L1977.4,436.8 L1978.8,437.0 L1979.8,436.8 L1980.3,436.1 L1980.4,434.8 L1980.2,433.2 L1980.1,431.7" fill="none" stroke="#c6c6c6" stroke-width="2.3"/>
<path d="M1986.3,413.8 L1986.0,412.6 L1985.9,411.6 L1986.2,410.9 L1987.0,410.6 L1988.2,410.6 L1989.4,410.7 L1990.6,410.7 L1991.3,410.4 L1991.6,409.7 L1991.5,408.7 L1991.1,407.5 L1990.8,406.3" fill="none" stroke="#878787" stroke-width="1.3"/>
<path d="M2080.9,414.2 L2083.6,413.9 L2085.7,414.1 L2086.9,415.0 L2087.1,416.8 L2086.7,419.2 L2086.0,421.8 L2085.6,424.2 L2085.9,425.9 L2087.2,426.8 L2089.4,426.9 L2092.1,426.6 L2094.7,426.3" fill="none" stroke="#c6c6c6" stroke-width="1.3"/>
<path d="M2087.1,504.8 L2088.3,505.8 L2089.0,506.9 L2089.0,507.8 L2088.3,508.6 L2087.1,509.3 L2085.6,510.0 L2084.4,510.7 L2083.7,511.5 L2083.8,512.4 L2084.6,513.4 L2085.8,514.5 L2086.9,515.6" fill="none" stroke="#b8b8b8" stroke-width="2.3"/>
<path d="M2095.2,504.4 L2096.5,504.8 L2097.4,505.4 L2097.8,506.1 L2097.5,507.0 L2096.8,508.0 L2095.8,509.1 L2095.1,510.1 L2094.9,511.0 L2095.3,511.7 L2096.3,512.2 L2097.6,512.7 L2098.9,513.1" fill="none" stroke="#c6c6c6" stroke-width="2.3"/>
<path d="M2056.3,391.7 L2058.0,390.1 L2059.5,389.1 L2060.8,389.1 L2061.9,390.2 L2062.9,392.1 L2063.8,394.2 L2064.8,396.1 L2065.9,397.0 L2067.3,396.9 L2068.8,395.8 L2070.4,394.2 L2072.0,392.7" fill="none" stroke="#b8b8b8" stroke-width="1.8"/>
<path d="M1959.2,552.8 L1956.7,553.4 L1954.7,553.6 L1953.3,552.8 L1952.8,551.2 L1952.9,548.7 L1953.2,546.1 L1953.3,543.7 L1952.7,542.1 L1951.3,541.4 L1949.2,541.6 L1946.7,542.3 L1944.2,543.0" fill="none" stroke="#b8b8b8" stroke-width="1.3"/>
<path d="M2083.4,503.0 L2084.1,505.4 L2084.3,507.3 L2083.6,508.5 L2082.1,509.1 L2079.8,509.0 L2077.3,508.8 L2075.1,508.8 L2073.6,509.4 L2073.1,510.7 L2073.3,512.7 L2074.0,515.0 L2074.7,517.3" fill="none" stroke="#bebebe" stroke-width="1.8"/>
<path d="M1958.4,463.4 L1956.5,461.8 L1955.2,460.3 L1955.0,458.8 L1956.0,457.5 L1957.9,456.1 L1960.1,454.8 L1962.0,453.5 L1962.9,452.1 L1962.6,450.7 L1961.2,449.2 L1959.2,447.6 L1957.2,446.1" fill="none" stroke="#c6c6c6" stroke-width="1.8"/>
<path d="M1940.7,469.6 L1939.5,467.9 L1938.8,466.4 L1938.9,465.2 L1940.0,464.4 L1941.9,463.7 L1943.9,463.2 L1945.7,462.5 L1946.7,461.6 L1946.8,460.4 L1946.0,458.8 L1944.7,457.2 L1943.5,455.5" fill="none" stroke="#bebebe" stroke-width="1.8"/>
<path d="M1947.4,565.9 L1945.3,567.1 L1943.4,567.7 L1942.1,567.4 L1941.2,566.0 L1940.7,563.8 L1940.3,561.3 L1939.7,559.2 L1938.8,557.9 L1937.4,557.7 L1935.5,558.4 L1933.4,559.6 L1931.3,560.8" fill="none" stroke="#b8b8b8" stroke-width="1.3"/>
<path d="M2046.3,394.3 L2047.2,392.0 L2048.4,390.3 L2049.7,389.7 L2051.3,390.3 L2053.1,391.8 L2055.0,393.6 L2056.8,395.1 L2058.4,395.6 L2059.7,394.9 L2060.8,393.1 L2061.8,390.7 L2062.8,388.4" fill="none" stroke="#8e8e8e" stroke-width="2.3"/>
<path d="M1951.0,546.5 L1949.7,546.0 L1948.7,545.5 L1948.3,544.7 L1948.6,543.8 L1949.4,542.8 L1950.3,541.6 L1951.0,540.6 L1951.2,539.7 L1950.8,539.0 L1949.8,538.4 L1948.4,538.0 L1947.1,537.5" fill="none" stroke="#bebebe" stroke-width="2.3"/>
<path d="M2078.5,399.0 L2080.3,397.4 L2082.0,396.4 L2083.4,396.5 L2084.6,397.7 L2085.5,399.8 L2086.3,402.1 L2087.2,404.1 L2088.4,405.2 L2089.8,405.2 L2091.5,404.2 L2093.3,402.5 L2095.2,401.0" fill="none" stroke="#949494" stroke-width="1.3"/>
<path d="M2064.8,439.9 L2066.7,439.6 L2068.2,439.6 L2069.1,440.2 L2069.4,441.5 L2069.1,443.3 L2068.8,445.2 L2068.6,446.9 L2068.9,448.1 L2069.9,448.7 L2071.4,448.7 L2073.3,448.3 L2075.2,448.0" fill="none" stroke="#c6c6c6" stroke-width="2.3"/>
<path d="M1935.0,451.2 L1934.0,449.5 L1933.4,448.0 L1933.7,446.9 L1934.8,446.2 L1936.5,445.7 L1938.5,445.4 L1940.3,444.9 L1941.3,444.1 L1941.5,443.0 L1940.9,441.5 L1939.8,439.8 L1938.8,438.1" fill="none" stroke="#b8b8b8" stroke-width="1.3"/>
<path d="M2042.0,384.2 L2043.3,382.0 L2044.6,380.5 L2046.0,380.2 L2047.5,381.0 L2049.1,382.7 L2050.6,384.7 L2052.2,386.4 L2053.7,387.1 L2055.1,386.6 L2056.4,385.1 L2057.7,382.9 L2059.0,380.8" fill="none" stroke="#949494" stroke-width="1.3"/>
<path d="M2091.5,466.9 L2092.9,467.9 L2093.9,469.0 L2094.0,470.0 L2093.3,471.0 L2092.0,471.9 L2090.5,472.9 L2089.2,473.8 L2088.6,474.8 L2088.8,475.8 L2089.8,476.9 L2091.3,477.9 L2092.7,479.0" fill="none" stroke="#bebebe" stroke-width="1.8"/>
<path d="M2060.3,410.6 L2061.8,409.4 L2063.1,408.7 L2064.3,408.8 L2065.1,409.8 L2065.8,411.4 L2066.4,413.3 L2067.1,415.0 L2068.0,415.9 L2069.1,415.9 L2070.5,415.1 L2072.0,413.9 L2073.5,412.7" fill="none" stroke="#8e8e8e" stroke-width="1.3"/>
<path d="M1952.9,421.1 L1952.4,419.0 L1952.4,417.2 L1953.1,416.1 L1954.5,415.7 L1956.6,415.9 L1958.8,416.3 L1960.8,416.5 L1962.2,416.1 L1962.9,414.9 L1962.8,413.1 L1962.3,410.9 L1961.9,408.7" fill="none" stroke="#b8b8b8" stroke-width="1.8"/>
<path d="M2035.1,415.0 L2035.6,413.8 L2036.1,412.9 L2036.8,412.5 L2037.6,412.8 L2038.6,413.5 L2039.6,414.4 L2040.5,415.1 L2041.4,415.3 L2042.0,414.9 L2042.5,414.0 L2043.0,412.7 L2043.4,411.5" fill="none" stroke="#949494" stroke-width="1.3"/>
<path d="M1939.0,466.2 L1937.4,463.8 L1936.6,461.8 L1936.9,460.2 L1938.5,459.1 L1941.0,458.4 L1943.8,457.8 L1946.2,457.0 L1947.7,455.9 L1947.8,454.2 L1946.9,452.1 L1945.3,449.8 L1943.8,447.5" fill="none" stroke="#c6c6c6" stroke-width="1.3"/>
<path d="M2019.4,390.6 L2020.5,388.1 L2021.7,386.4 L2023.2,385.8 L2024.9,386.4 L2026.8,388.1 L2028.8,390.0 L2030.7,391.6 L2032.3,392.2 L2033.8,391.5 L2035.0,389.6 L2036.1,387.1 L2037.1,384.6" fill="none" stroke="#c6c6c6" stroke-width="1.3"/>
<path d="M2032.3,423.7 L2033.8,422.5 L2035.2,421.8 L2036.3,421.9 L2037.2,422.9 L2037.8,424.6 L2038.4,426.5 L2039.0,428.1 L2039.9,429.1 L2041.0,429.1 L2042.4,428.4 L2043.9,427.1 L2045.5,426.0" fill="none" stroke="#878787" stroke-width="1.3"/>
<path d="M2111.0,486.2 L2112.3,486.8 L2113.2,487.4 L2113.5,488.2 L2113.1,489.0 L2112.2,490.0 L2111.2,491.0 L2110.4,491.9 L2110.1,492.8 L2110.4,493.5 L2111.4,494.2 L2112.6,494.7 L2113.9,495.3" fill="none" stroke="#c6c6c6" stroke-width="2.3"/>
<path d="M1983.7,404.7 L1983.5,402.4 L1983.7,400.6 L1984.6,399.6 L1986.1,399.4 L1988.2,399.8 L1990.5,400.5 L1992.5,400.9 L1994.0,400.6 L1994.8,399.5 L1994.9,397.6 L1994.7,395.3 L1994.5,393.0" fill="none" stroke="#b8b8b8" stroke-width="1.3"/>
<path d="M1933.1,491.4 L1931.1,491.0 L1929.5,490.3 L1928.8,489.3 L1929.0,487.9 L1930.0,486.2 L1931.1,484.4 L1932.0,482.7 L1932.1,481.3 L1931.3,480.4 L1929.7,479.8 L1927.6,479.4 L1925.6,479.0" fill="none" stroke="#949494" stroke-width="2.3"/>
<path d="M2088.5,450.1 L2089.5,450.6 L2090.2,451.3 L2090.4,451.9 L2090.0,452.6 L2089.2,453.4 L2088.3,454.1 L2087.5,454.8 L2087.2,455.5 L2087.4,456.2 L2088.1,456.8 L2089.2,457.4 L2090.2,458.0" fill="none" stroke="#c6c6c6" stroke-width="2.3"/>
<path d="M2045.8,611.2 L2044.3,612.5 L2043.0,613.2 L2041.9,613.2 L2041.0,612.2 L2040.3,610.6 L2039.6,608.7 L2038.8,607.1 L2037.9,606.3 L2036.8,606.3 L2035.4,607.1 L2034.0,608.4 L2032.5,609.7" fill="none" stroke="#bebebe" stroke-width="1.3"/>
<path d="M2082.2,424.0 L2083.7,424.2 L2084.8,424.5 L2085.4,425.2 L2085.4,426.2 L2084.8,427.5 L2084.1,428.9 L2083.6,430.2 L2083.6,431.2 L2084.2,431.9 L2085.4,432.2 L2087.0,432.3 L2088.5,432.5" fill="none" stroke="#949494" stroke-width="1.3"/>
<path d="M2084.1,409.9 L2086.6,410.4 L2088.5,411.1 L2089.4,412.3 L2089.2,414.1 L2088.1,416.2 L2086.7,418.4 L2085.7,420.5 L2085.5,422.2 L2086.5,423.4 L2088.5,424.1 L2091.0,424.5 L2093.5,425.0" fill="none" stroke="#949494" stroke-width="1.3"/>
<path d="M2020.4,382.4 L2021.6,380.9 L2022.8,379.9 L2023.8,379.8 L2024.9,380.6 L2025.9,382.0 L2026.8,383.7 L2027.8,385.1 L2028.9,385.8 L2030.0,385.5 L2031.1,384.5 L2032.3,383.0 L2033.5,381.5" fill="none" stroke="#bebebe" stroke-width="1.3"/>
<path d="M1995.0,432.1 L1995.5,429.8 L1996.2,428.1 L1997.3,427.4 L1998.9,427.6 L2000.8,428.7 L2002.8,430.0 L2004.7,431.0 L2006.2,431.1 L2007.3,430.3 L2008.0,428.5 L2008.4,426.2 L2008.9,423.9" fill="none" stroke="#878787" stroke-width="1.8"/>
<path d="M1960.0,467.4 L1958.8,465.4 L1958.2,463.7 L1958.6,462.4 L1959.9,461.6 L1961.9,461.1 L1964.2,460.8 L1966.3,460.3 L1967.5,459.4 L1967.7,458.1 L1967.1,456.4 L1965.9,454.4 L1964.8,452.4" fill="none" stroke="#c6c6c6" stroke-width="2.3"/>
<path d="M1981.5,442.4 L1980.9,440.0 L1980.8,438.1 L1981.5,436.8 L1983.1,436.4 L1985.4,436.5 L1987.9,436.8 L1990.1,436.9 L1991.6,436.4 L1992.3,435.1 L1992.1,433.1 L1991.5,430.7 L1990.9,428.3" fill="none" stroke="#878787" stroke-width="1.3"/>
<path d="M2059.1,595.9 L2058.9,597.2 L2058.5,598.2 L2057.9,598.7 L2057.0,598.6 L2055.9,598.0 L2054.7,597.3 L2053.6,596.8 L2052.7,596.7 L2052.1,597.2 L2051.7,598.3 L2051.5,599.6 L2051.3,600.9" fill="none" stroke="#949494" stroke-width="2.3"/>
<path d="M1988.1,603.3 L1986.9,604.4 L1985.8,605.1 L1984.8,605.1 L1984.0,604.3 L1983.3,602.9 L1982.7,601.2 L1982.1,599.9 L1981.3,599.1 L1980.3,599.2 L1979.1,599.9 L1977.9,601.1 L1976.7,602.2" fill="none" stroke="#b8b8b8" stroke-width="1.3"/>
<path d="M1940.5,434.4 L1939.6,433.5 L1939.0,432.8 L1939.0,432.0 L1939.5,431.4 L1940.5,430.8 L1941.6,430.3 L1942.6,429.7 L1943.0,429.0 L1942.9,428.3 L1942.3,427.5 L1941.4,426.7 L1940.5,425.9" fill="none" stroke="#8e8e8e" stroke-width="2.3"/>
<path d="M2086.1,542.2 L2086.0,544.9 L2085.5,547.0 L2084.4,548.1 L2082.6,548.1 L2080.2,547.3 L2077.7,546.2 L2075.3,545.5 L2073.6,545.6 L2072.5,546.8 L2072.1,549.0 L2072.0,551.7 L2071.9,554.3" fill="none" stroke="#bebebe" stroke-width="2.3"/>
<path d="M1945.9,424.9 L1946.3,422.7 L1947.0,421.1 L1948.0,420.3 L1949.6,420.6 L1951.4,421.5 L1953.3,422.8 L1955.2,423.7 L1956.6,423.9 L1957.7,423.0 L1958.3,421.3 L1958.7,419.1 L1959.2,416.9" fill="none" stroke="#8e8e8e" stroke-width="1.8"/>
<path d="M1994.0,430.3 L1993.7,429.1 L1993.6,428.0 L1994.0,427.4 L1994.9,427.2 L1996.1,427.3 L1997.4,427.5 L1998.6,427.6 L1999.4,427.3 L1999.7,426.6 L1999.7,425.6 L1999.4,424.3 L1999.1,423.0" fill="none" stroke="#b8b8b8" stroke-width="1.3"/>
<path d="M2079.3,407.7 L2081.1,407.2 L2082.6,407.0 L2083.6,407.5 L2084.1,408.8 L2084.0,410.5 L2083.9,412.5 L2083.9,414.3 L2084.4,415.4 L2085.4,415.9 L2087.0,415.7 L2088.9,415.1 L2090.7,414.6" fill="none" stroke="#c6c6c6" stroke-width="1.3"/>
<path d="M1942.5,525.1 L1941.4,525.4 L1940.5,525.5 L1939.9,525.2 L1939.7,524.4 L1939.7,523.3 L1939.8,522.1 L1939.8,521.1 L1939.6,520.3 L1938.9,520.1 L1938.0,520.2 L1936.8,520.5 L1935.7,520.8" fill="none" stroke="#c6c6c6" stroke-width="1.3"/>
<path d="M2077.1,403.9 L2079.7,403.1 L2081.9,403.0 L2083.4,403.7 L2083.9,405.5 L2083.9,408.1 L2083.6,410.9 L2083.6,413.4 L2084.2,415.1 L2085.7,415.8 L2088.0,415.6 L2090.6,414.8 L2093.3,414.1" fill="none" stroke="#bebebe" stroke-width="2.3"/>
<path d="M1980.0,599.8 L1978.1,600.8 L1976.5,601.4 L1975.3,601.0 L1974.5,599.8 L1974.1,597.8 L1973.8,595.7 L1973.4,593.7 L1972.6,592.6 L1971.4,592.3 L1969.7,592.9 L1967.8,594.0 L1965.9,595.0" fill="none" stroke="#c6c6c6" stroke-width="2.3"/>
<path d="M2112.4,522.4 L2112.9,525.0 L2112.9,527.1 L2112.1,528.3 L2110.3,528.8 L2107.9,528.5 L2105.3,528.1 L2102.9,527.9 L2101.3,528.3 L2100.5,529.7 L2100.6,531.9 L2101.1,534.4 L2101.6,537.0" fill="none" stroke="#b8b8b8" stroke-width="1.8"/>
<path d="M2083.6,513.2 L2084.0,514.7 L2084.1,515.9 L2083.6,516.7 L2082.7,517.0 L2081.2,516.9 L2079.7,516.7 L2078.3,516.7 L2077.4,517.0 L2077.0,517.8 L2077.1,519.0 L2077.5,520.5 L2077.8,522.0" fill="none" stroke="#bebebe" stroke-width="1.8"/>
<path d="M1942.4,514.8 L1940.1,514.4 L1938.5,513.8 L1937.7,512.7 L1937.9,511.1 L1938.9,509.3 L1940.2,507.3 L1941.1,505.4 L1941.2,503.9 L1940.4,502.9 L1938.6,502.3 L1936.4,501.8 L1934.2,501.4" fill="none" stroke="#bebebe" stroke-width="1.8"/>
<path d="M2085.9,580.8 L2086.0,582.1 L2085.9,583.1 L2085.5,583.7 L2084.6,583.8 L2083.5,583.6 L2082.2,583.2 L2081.1,583.0 L2080.2,583.2 L2079.8,583.8 L2079.8,584.8 L2079.9,586.1 L2080.0,587.4" fill="none" stroke="#c6c6c6" stroke-width="1.3"/>
<path d="M1975.0,451.2 L1975.3,448.6 L1975.9,446.6 L1977.1,445.6 L1978.9,445.8 L1981.1,446.8 L1983.5,448.0 L1985.7,449.0 L1987.4,449.0 L1988.5,448.0 L1989.1,445.9 L1989.4,443.3 L1989.7,440.7" fill="none" stroke="#c6c6c6" stroke-width="1.8"/>
<path d="M1994.2,404.2 L1995.8,402.4 L1997.3,401.2 L1998.7,401.1 L2000.0,402.1 L2001.1,403.9 L2002.3,406.1 L2003.5,407.9 L2004.8,408.8 L2006.2,408.6 L2007.7,407.3 L2009.2,405.5 L2010.8,403.7" fill="none" stroke="#b8b8b8" stroke-width="1.8"/>
</g>
<path d="M1986.7,432.8 C1996.5,424.8 2011.8,422.0 2023.4,422.0 C2035.0,421.9 2047.4,424.3 2056.3,432.3 C2065.2,440.3 2072.3,454.2 2076.8,469.7 C2081.3,485.3 2083.7,507.1 2083.2,525.8 C2082.6,544.5 2078.7,566.8 2073.4,582.1 C2068.0,597.4 2060.0,610.2 2051.1,617.7 C2042.3,625.3 2030.3,627.3 2020.4,627.5 C2010.5,627.6 2000.9,626.3 1991.8,618.8 C1982.6,611.3 1970.7,597.9 1965.4,582.2 C1960.1,566.6 1960.2,543.5 1959.9,524.8 C1959.7,506.2 1959.7,485.8 1964.2,470.5 C1968.6,455.1 1976.8,440.9 1986.7,432.8 Z" fill="#c8c8c8"/>
<path d="M2038.0,527.0 L2038.9,525.1 L2039.8,523.7 L2040.9,523.2 L2042.3,523.7 L2043.8,525.0 L2045.3,526.5 L2046.8,527.7 L2048.1,528.1 L2049.2,527.6 L2050.1,526.1 L2051.0,524.1 L2051.8,522.2" fill="none" stroke="#ababab" stroke-width="1.8"/>
<path d="M2022.8,426.7 L2024.1,426.1 L2025.3,425.9 L2026.1,426.2 L2026.6,427.1 L2026.7,428.5 L2026.8,430.0 L2027.0,431.4 L2027.4,432.3 L2028.3,432.5 L2029.5,432.2 L2030.9,431.6 L2032.2,431.0" fill="none" stroke="#dcdcdc" stroke-width="1.3"/>
<path d="M2015.4,528.3 L2015.7,526.7 L2016.2,525.4 L2017.1,524.9 L2018.2,525.1 L2019.6,525.8 L2021.0,526.7 L2022.4,527.4 L2023.5,527.5 L2024.3,526.9 L2024.7,525.6 L2025.1,523.9 L2025.4,522.3" fill="none" stroke="#dcdcdc" stroke-width="1.8"/>
<path d="M2047.6,526.7 L2049.2,525.9 L2050.5,525.5 L2051.5,525.8 L2052.1,526.9 L2052.4,528.5 L2052.5,530.3 L2052.9,531.8 L2053.5,532.8 L2054.5,533.0 L2055.9,532.6 L2057.4,531.8 L2059.0,531.0" fill="none" stroke="#ababab" stroke-width="1.8"/>
<path d="M2061.0,510.5 L2061.3,508.7 L2061.9,507.3 L2062.8,506.6 L2064.1,506.8 L2065.6,507.6 L2067.3,508.6 L2068.8,509.4 L2070.1,509.5 L2070.9,508.8 L2071.5,507.4 L2071.8,505.5 L2072.1,503.6" fill="none" stroke="#ababab" stroke-width="1.8"/>
<path d="M2039.5,439.9 L2039.6,438.6 L2039.9,437.6 L2040.4,437.1 L2041.3,437.1 L2042.5,437.5 L2043.7,438.1 L2044.8,438.5 L2045.6,438.5 L2046.2,438.0 L2046.4,436.9 L2046.5,435.6 L2046.6,434.3" fill="none" stroke="#ababab" stroke-width="1.3"/>
<path d="M2043.9,472.1 L2045.4,470.9 L2046.7,470.2 L2047.8,470.3 L2048.7,471.3 L2049.3,472.9 L2049.9,474.8 L2050.6,476.4 L2051.5,477.3 L2052.6,477.4 L2054.0,476.6 L2055.5,475.4 L2057.0,474.2" fill="none" stroke="#dcdcdc" stroke-width="1.8"/>
<path d="M2048.2,476.4 L2048.4,474.4 L2048.9,472.8 L2049.8,472.0 L2051.2,472.1 L2053.0,472.9 L2054.9,473.9 L2056.6,474.6 L2057.9,474.6 L2058.8,473.8 L2059.3,472.2 L2059.5,470.1 L2059.7,468.1" fill="none" stroke="#b2b2b2" stroke-width="1.3"/>
<path d="M2056.5,471.5 L2058.3,470.2 L2060.0,469.4 L2061.3,469.6 L2062.3,470.9 L2063.0,472.9 L2063.5,475.2 L2064.2,477.2 L2065.2,478.3 L2066.6,478.4 L2068.3,477.6 L2070.2,476.2 L2072.0,474.9" fill="none" stroke="#dcdcdc" stroke-width="1.8"/>
<path d="M1990.2,503.1 L1991.1,501.1 L1992.2,499.8 L1993.3,499.3 L1994.7,499.9 L1996.1,501.3 L1997.6,502.9 L1999.1,504.2 L2000.4,504.7 L2001.6,504.2 L2002.6,502.8 L2003.5,500.8 L2004.5,498.9" fill="none" stroke="#b2b2b2" stroke-width="1.3"/>
<path d="M2010.6,506.6 L2011.5,505.7 L2012.4,505.2 L2013.2,505.2 L2013.8,505.8 L2014.3,506.9 L2014.8,508.2 L2015.4,509.2 L2016.0,509.8 L2016.8,509.8 L2017.7,509.2 L2018.6,508.3 L2019.6,507.4" fill="none" stroke="#ababab" stroke-width="1.8"/>
<path d="M1998.9,451.5 L2000.2,449.9 L2001.5,448.9 L2002.7,448.8 L2003.8,449.6 L2004.8,451.2 L2005.8,453.0 L2006.8,454.6 L2007.9,455.3 L2009.1,455.1 L2010.4,454.0 L2011.7,452.4 L2013.0,450.9" fill="none" stroke="#b2b2b2" stroke-width="1.3"/>
<path d="M2014.3,531.4 L2015.0,530.2 L2015.8,529.4 L2016.5,529.2 L2017.4,529.7 L2018.2,530.6 L2019.1,531.7 L2019.9,532.6 L2020.7,533.0 L2021.5,532.8 L2022.2,531.9 L2022.9,530.7 L2023.6,529.6" fill="none" stroke="#dcdcdc" stroke-width="1.3"/>
<path d="M2050.5,485.4 L2051.1,484.2 L2051.7,483.4 L2052.4,483.1 L2053.2,483.5 L2054.1,484.3 L2055.0,485.4 L2055.9,486.2 L2056.7,486.5 L2057.4,486.2 L2058.1,485.3 L2058.7,484.1 L2059.3,482.9" fill="none" stroke="#ababab" stroke-width="1.3"/>
<path d="M2009.0,489.3 L2010.8,488.0 L2012.4,487.2 L2013.7,487.4 L2014.6,488.6 L2015.3,490.5 L2015.9,492.8 L2016.6,494.7 L2017.5,495.8 L2018.8,495.9 L2020.5,495.0 L2022.3,493.7 L2024.1,492.4" fill="none" stroke="#dcdcdc" stroke-width="1.8"/>
<path d="M2031.6,471.1 L2032.2,469.2 L2032.9,467.7 L2033.9,467.1 L2035.2,467.5 L2036.8,468.5 L2038.5,469.7 L2040.0,470.7 L2041.3,470.9 L2042.3,470.3 L2043.0,468.8 L2043.5,466.8 L2044.1,464.9" fill="none" stroke="#dcdcdc" stroke-width="1.3"/>
<path d="M1981.7,456.9 L1983.5,455.7 L1985.1,454.9 L1986.4,455.1 L1987.3,456.3 L1987.9,458.3 L1988.5,460.5 L1989.1,462.4 L1990.1,463.5 L1991.4,463.6 L1993.0,462.8 L1994.8,461.5 L1996.6,460.2" fill="none" stroke="#dcdcdc" stroke-width="1.3"/>
<path d="M1994.0,484.1 L1995.0,483.3 L1995.8,482.8 L1996.6,482.8 L1997.1,483.4 L1997.6,484.5 L1998.1,485.7 L1998.5,486.7 L1999.1,487.3 L1999.9,487.3 L2000.8,486.7 L2001.7,485.9 L2002.6,485.1" fill="none" stroke="#dcdcdc" stroke-width="1.3"/>
<path d="M2049.5,446.9 L2050.6,445.7 L2051.7,444.9 L2052.7,444.9 L2053.5,445.6 L2054.3,447.0 L2055.0,448.6 L2055.7,449.9 L2056.6,450.6 L2057.5,450.5 L2058.6,449.6 L2059.8,448.4 L2060.9,447.3" fill="none" stroke="#ababab" stroke-width="1.3"/>
<path d="M2058.2,478.5 L2060.0,477.5 L2061.7,477.0 L2062.9,477.3 L2063.6,478.5 L2064.0,480.5 L2064.3,482.6 L2064.7,484.5 L2065.5,485.7 L2066.7,485.9 L2068.4,485.3 L2070.3,484.3 L2072.1,483.2" fill="none" stroke="#dcdcdc" stroke-width="1.3"/>
<path d="M2045.5,514.2 L2046.2,512.9 L2047.0,511.9 L2047.8,511.7 L2048.7,512.1 L2049.7,513.1 L2050.7,514.3 L2051.6,515.3 L2052.5,515.7 L2053.3,515.3 L2054.1,514.4 L2054.8,513.0 L2055.5,511.8" fill="none" stroke="#dcdcdc" stroke-width="1.3"/>
<path d="M2046.9,445.2 L2048.0,443.2 L2049.2,441.9 L2050.5,441.6 L2051.8,442.3 L2053.2,443.9 L2054.6,445.7 L2056.0,447.2 L2057.3,447.8 L2058.5,447.4 L2059.7,446.0 L2060.9,444.1 L2062.0,442.2" fill="none" stroke="#b2b2b2" stroke-width="1.8"/>
<path d="M2013.9,434.7 L2014.9,434.2 L2015.8,433.9 L2016.5,434.1 L2016.9,434.8 L2017.1,435.9 L2017.3,437.1 L2017.5,438.2 L2017.9,438.8 L2018.6,439.0 L2019.6,438.7 L2020.6,438.1 L2021.7,437.5" fill="none" stroke="#dcdcdc" stroke-width="1.3"/>
<path d="M2027.6,458.9 L2028.9,457.8 L2030.1,457.1 L2031.1,457.2 L2031.9,458.1 L2032.5,459.5 L2033.0,461.2 L2033.7,462.7 L2034.5,463.5 L2035.5,463.5 L2036.7,462.8 L2038.1,461.7 L2039.4,460.6" fill="none" stroke="#dcdcdc" stroke-width="1.8"/>
<path d="M2044.4,451.6 L2046.1,450.2 L2047.6,449.3 L2048.8,449.3 L2049.8,450.4 L2050.7,452.2 L2051.5,454.3 L2052.3,456.1 L2053.4,457.1 L2054.7,457.0 L2056.2,456.1 L2057.8,454.6 L2059.4,453.2" fill="none" stroke="#dcdcdc" stroke-width="1.3"/>
<path d="M1997.7,527.0 L1999.1,525.8 L2000.5,525.2 L2001.6,525.3 L2002.4,526.3 L2003.0,527.9 L2003.6,529.8 L2004.2,531.3 L2005.1,532.3 L2006.2,532.3 L2007.5,531.6 L2009.0,530.4 L2010.5,529.2" fill="none" stroke="#ababab" stroke-width="1.8"/>
<path d="M2051.3,489.0 L2051.4,487.6 L2051.7,486.6 L2052.3,486.0 L2053.2,486.1 L2054.4,486.5 L2055.7,487.2 L2056.8,487.6 L2057.7,487.6 L2058.3,487.0 L2058.5,485.9 L2058.6,484.6 L2058.8,483.2" fill="none" stroke="#b2b2b2" stroke-width="1.3"/>
<path d="M2018.1,501.1 L2018.1,499.8 L2018.4,498.7 L2018.9,498.2 L2019.9,498.2 L2021.0,498.6 L2022.3,499.1 L2023.5,499.5 L2024.4,499.5 L2024.9,498.9 L2025.1,497.8 L2025.2,496.4 L2025.2,495.1" fill="none" stroke="#ababab" stroke-width="1.8"/>
<path d="M1980.1,468.1 L1980.9,467.0 L1981.7,466.2 L1982.5,466.1 L1983.2,466.6 L1984.0,467.6 L1984.7,468.8 L1985.5,469.8 L1986.2,470.2 L1987.0,470.1 L1987.8,469.3 L1988.6,468.2 L1989.4,467.1" fill="none" stroke="#b2b2b2" stroke-width="1.3"/>
<path d="M2044.1,524.8 L2045.3,523.2 L2046.5,522.0 L2047.7,521.9 L2048.8,522.6 L2050.0,524.2 L2051.1,525.9 L2052.2,527.4 L2053.4,528.1 L2054.5,527.8 L2055.7,526.7 L2056.9,525.0 L2058.2,523.4" fill="none" stroke="#dcdcdc" stroke-width="1.8"/>
<path d="M2050.6,492.6 L2050.7,491.2 L2051.0,490.2 L2051.6,489.6 L2052.5,489.7 L2053.7,490.1 L2054.9,490.7 L2056.1,491.1 L2057.0,491.1 L2057.6,490.5 L2057.8,489.4 L2057.9,488.0 L2058.0,486.7" fill="none" stroke="#ababab" stroke-width="1.3"/>
<path d="M2007.0,505.8 L2007.9,504.6 L2008.7,503.8 L2009.6,503.6 L2010.5,504.2 L2011.3,505.2 L2012.2,506.5 L2013.0,507.6 L2013.9,508.1 L2014.8,507.8 L2015.6,507.0 L2016.5,505.7 L2017.3,504.5" fill="none" stroke="#b2b2b2" stroke-width="1.8"/>
<path d="M1988.4,518.8 L1989.8,517.8 L1991.2,517.2 L1992.2,517.4 L1992.9,518.4 L1993.4,520.0 L1993.8,521.8 L1994.3,523.3 L1995.1,524.2 L1996.2,524.3 L1997.5,523.7 L1999.0,522.7 L2000.4,521.7" fill="none" stroke="#dcdcdc" stroke-width="1.8"/>
<path d="M1989.3,467.9 L1990.6,467.1 L1991.7,466.6 L1992.6,466.8 L1993.2,467.6 L1993.6,469.0 L1993.9,470.5 L1994.3,471.8 L1994.9,472.6 L1995.8,472.7 L1997.0,472.2 L1998.2,471.4 L1999.5,470.5" fill="none" stroke="#b2b2b2" stroke-width="1.8"/>
<path d="M2005.8,517.1 L2005.9,515.5 L2006.2,514.3 L2006.9,513.7 L2007.9,513.8 L2009.3,514.3 L2010.7,515.0 L2012.0,515.5 L2013.1,515.5 L2013.7,514.8 L2014.0,513.6 L2014.1,512.0 L2014.3,510.5" fill="none" stroke="#ababab" stroke-width="1.8"/>
<path d="M2021.2,475.9 L2021.5,474.1 L2022.0,472.8 L2022.9,472.1 L2024.1,472.3 L2025.6,473.1 L2027.1,474.1 L2028.6,474.8 L2029.8,474.9 L2030.6,474.2 L2031.1,472.8 L2031.4,471.0 L2031.7,469.3" fill="none" stroke="#ababab" stroke-width="1.8"/>
<path d="M1986.1,449.7 L1986.9,448.6 L1987.7,447.9 L1988.4,447.8 L1989.2,448.3 L1989.9,449.3 L1990.6,450.5 L1991.3,451.5 L1992.0,452.0 L1992.8,451.8 L1993.6,451.0 L1994.4,450.0 L1995.2,448.9" fill="none" stroke="#ababab" stroke-width="1.3"/>
<path d="M1976.6,488.1 L1978.2,487.0 L1979.5,486.4 L1980.6,486.6 L1981.4,487.6 L1982.0,489.2 L1982.4,491.1 L1983.0,492.7 L1983.8,493.7 L1985.0,493.7 L1986.3,493.0 L1987.9,491.9 L1989.4,490.8" fill="none" stroke="#dcdcdc" stroke-width="1.3"/>
<path d="M2025.1,454.7 L2026.2,453.8 L2027.2,453.3 L2028.1,453.4 L2028.7,454.2 L2029.1,455.4 L2029.5,456.8 L2030.0,458.0 L2030.6,458.7 L2031.4,458.8 L2032.5,458.2 L2033.6,457.3 L2034.7,456.5" fill="none" stroke="#b2b2b2" stroke-width="1.8"/>
<path d="M1992.1,466.3 L1993.2,464.3 L1994.3,463.0 L1995.5,462.6 L1996.8,463.3 L1998.2,464.7 L1999.7,466.4 L2001.1,467.8 L2002.4,468.4 L2003.6,467.9 L2004.7,466.5 L2005.8,464.5 L2006.8,462.6" fill="none" stroke="#b2b2b2" stroke-width="1.3"/>
<path d="M2027.8,475.5 L2029.2,476.0 L2030.3,476.6 L2030.7,477.4 L2030.4,478.4 L2029.6,479.5 L2028.6,480.7 L2027.8,481.8 L2027.6,482.7 L2028.0,483.5 L2029.1,484.0 L2030.5,484.5 L2031.9,485.0" fill="none" stroke="#adadad" stroke-width="2.8"/>
<path d="M2031.7,579.6 L2033.4,580.4 L2034.6,581.4 L2035.0,582.4 L2034.5,583.6 L2033.2,584.9 L2031.8,586.2 L2030.6,587.5 L2030.1,588.7 L2030.6,589.7 L2031.9,590.7 L2033.6,591.5 L2035.3,592.4" fill="none" stroke="#999" stroke-width="2.2"/>
<path d="M2027.9,559.0 L2030.2,559.9 L2031.8,560.9 L2032.3,562.2 L2031.8,563.7 L2030.4,565.5 L2028.7,567.3 L2027.4,569.0 L2026.9,570.5 L2027.6,571.8 L2029.3,572.8 L2031.5,573.7 L2033.7,574.6" fill="none" stroke="#adadad" stroke-width="2.8"/>
<path d="M2026.5,587.9 L2028.5,588.8 L2029.9,589.8 L2030.4,590.9 L2029.8,592.3 L2028.5,593.8 L2026.9,595.4 L2025.6,596.9 L2025.1,598.2 L2025.7,599.4 L2027.2,600.4 L2029.2,601.3 L2031.1,602.2" fill="none" stroke="#a2a2a2" stroke-width="2.8"/>
<path d="M2024.9,489.3 L2026.9,490.1 L2028.3,491.0 L2028.8,492.1 L2028.3,493.5 L2027.1,495.0 L2025.6,496.6 L2024.4,498.1 L2024.0,499.4 L2024.6,500.5 L2026.1,501.4 L2028.1,502.1 L2030.0,502.9" fill="none" stroke="#a2a2a2" stroke-width="2.8"/>
<path d="M2018.2,477.6 L2018.9,478.7 L2019.3,479.7 L2019.1,480.4 L2018.4,480.9 L2017.2,481.2 L2015.8,481.5 L2014.6,481.8 L2013.9,482.3 L2013.8,483.1 L2014.2,484.1 L2014.9,485.2 L2015.6,486.4" fill="none" stroke="#a2a2a2" stroke-width="2.8"/>
<path d="M2034.3,549.9 L2036.5,550.5 L2038.1,551.2 L2038.8,552.3 L2038.5,553.8 L2037.4,555.6 L2036.1,557.5 L2035.1,559.3 L2034.9,560.7 L2035.7,561.8 L2037.4,562.5 L2039.6,563.0 L2041.7,563.6" fill="none" stroke="#999" stroke-width="2.2"/>
<path d="M2029.2,571.2 L2030.2,573.0 L2030.8,574.6 L2030.5,575.8 L2029.3,576.5 L2027.4,577.0 L2025.3,577.3 L2023.4,577.8 L2022.3,578.6 L2022.1,579.8 L2022.8,581.4 L2023.8,583.2 L2024.9,585.0" fill="none" stroke="#999" stroke-width="2.2"/>
<path d="M2016.9,536.6 L2018.1,537.1 L2018.9,537.6 L2019.2,538.3 L2018.9,539.1 L2018.1,540.0 L2017.2,541.0 L2016.4,541.9 L2016.2,542.7 L2016.5,543.3 L2017.4,543.9 L2018.6,544.4 L2019.8,544.9" fill="none" stroke="#adadad" stroke-width="2.8"/>
<path d="M2027.8,537.0 L2029.4,537.2 L2030.7,537.6 L2031.2,538.4 L2031.1,539.5 L2030.5,540.8 L2029.6,542.3 L2029.0,543.6 L2029.0,544.7 L2029.6,545.4 L2030.9,545.8 L2032.5,546.0 L2034.1,546.3" fill="none" stroke="#a2a2a2" stroke-width="2.2"/>
<path d="M2032.3,495.6 L2033.5,496.1 L2034.3,496.7 L2034.6,497.4 L2034.3,498.2 L2033.5,499.1 L2032.6,500.0 L2031.9,500.9 L2031.6,501.7 L2032.0,502.4 L2032.9,502.9 L2034.1,503.4 L2035.2,503.9" fill="none" stroke="#a2a2a2" stroke-width="2.2"/>
<path d="M2031.5,588.2 L2032.3,589.1 L2032.8,590.0 L2032.7,590.7 L2032.1,591.3 L2031.0,591.7 L2029.8,592.1 L2028.8,592.5 L2028.2,593.1 L2028.2,593.8 L2028.7,594.7 L2029.5,595.7 L2030.3,596.6" fill="none" stroke="#999" stroke-width="2.2"/>
<path d="M2015.7,570.3 L2017.9,571.2 L2019.4,572.2 L2020.0,573.5 L2019.5,574.9 L2018.1,576.6 L2016.4,578.4 L2015.1,580.1 L2014.7,581.5 L2015.3,582.7 L2017.0,583.7 L2019.2,584.6 L2021.3,585.5" fill="none" stroke="#a2a2a2" stroke-width="2.2"/>
<path d="M2034.0,501.3 L2035.4,501.6 L2036.5,502.1 L2037.0,502.9 L2036.7,503.9 L2036.0,505.1 L2035.1,506.3 L2034.4,507.5 L2034.3,508.4 L2034.8,509.2 L2035.9,509.6 L2037.4,510.0 L2038.8,510.4" fill="none" stroke="#adadad" stroke-width="2.8"/>
<path d="M2013.0,528.7 L2014.6,529.3 L2015.7,530.1 L2016.1,531.0 L2015.7,532.0 L2014.7,533.3 L2013.5,534.5 L2012.6,535.7 L2012.3,536.8 L2012.7,537.7 L2013.9,538.4 L2015.5,539.1 L2017.1,539.7" fill="none" stroke="#999" stroke-width="2.2"/>
<path d="M2023.3,496.7 L2025.1,497.8 L2026.4,498.9 L2026.8,500.1 L2026.1,501.4 L2024.6,502.8 L2022.8,504.2 L2021.4,505.5 L2020.8,506.8 L2021.2,508.0 L2022.6,509.1 L2024.5,510.2 L2026.3,511.3" fill="none" stroke="#a2a2a2" stroke-width="2.8"/>
<path d="M2028.2,576.5 L2029.4,577.8 L2030.0,578.9 L2030.0,579.9 L2029.2,580.7 L2027.8,581.3 L2026.2,581.9 L2024.8,582.6 L2024.1,583.4 L2024.1,584.3 L2024.8,585.5 L2025.9,586.7 L2027.0,588.0" fill="none" stroke="#adadad" stroke-width="2.8"/>
<path d="M2033.1,471.8 L2034.7,472.5 L2035.8,473.4 L2036.2,474.3 L2035.8,475.4 L2034.7,476.6 L2033.4,477.9 L2032.3,479.1 L2031.9,480.2 L2032.4,481.2 L2033.6,482.0 L2035.2,482.7 L2036.8,483.4" fill="none" stroke="#999" stroke-width="2.8"/>
<path d="M2030.2,515.8 L2031.0,517.0 L2031.4,518.0 L2031.2,518.8 L2030.4,519.3 L2029.2,519.7 L2027.8,519.9 L2026.6,520.3 L2025.9,520.8 L2025.8,521.6 L2026.2,522.6 L2027.0,523.8 L2027.7,525.0" fill="none" stroke="#a2a2a2" stroke-width="2.2"/>
<path d="M2024.3,548.5 L2025.7,550.7 L2026.5,552.6 L2026.2,554.1 L2024.8,555.1 L2022.4,555.8 L2019.8,556.3 L2017.6,557.0 L2016.2,558.1 L2016.0,559.6 L2016.9,561.5 L2018.4,563.7 L2019.7,565.9" fill="none" stroke="#adadad" stroke-width="2.2"/>
<path d="M2012.9,543.7 L2014.6,545.6 L2015.7,547.4 L2015.6,548.9 L2014.3,550.1 L2012.2,551.1 L2009.7,552.0 L2007.6,553.0 L2006.4,554.3 L2006.5,555.8 L2007.6,557.6 L2009.4,559.5 L2011.1,561.4" fill="none" stroke="#adadad" stroke-width="2.2"/>
<path d="M2012.1,509.7 L2014.5,510.6 L2016.1,511.7 L2016.7,513.0 L2016.1,514.6 L2014.7,516.4 L2012.9,518.3 L2011.5,520.0 L2011.0,521.6 L2011.7,522.9 L2013.5,523.9 L2015.8,524.9 L2018.1,525.8" fill="none" stroke="#999" stroke-width="2.2"/>
<path d="M2016.6,533.0 L2017.7,534.8 L2018.3,536.3 L2018.0,537.5 L2016.9,538.2 L2015.0,538.7 L2013.0,539.1 L2011.2,539.6 L2010.1,540.4 L2009.9,541.7 L2010.6,543.2 L2011.7,545.0 L2012.8,546.7" fill="none" stroke="#adadad" stroke-width="2.8"/>
<path d="M2012.9,472.9 L2014.1,473.6 L2014.9,474.4 L2015.1,475.2 L2014.6,476.0 L2013.7,476.8 L2012.5,477.6 L2011.6,478.5 L2011.1,479.3 L2011.4,480.1 L2012.2,480.8 L2013.4,481.5 L2014.6,482.3" fill="none" stroke="#a2a2a2" stroke-width="2.2"/>
<path d="M2027.3,485.2 L2028.2,486.0 L2028.7,486.8 L2028.7,487.6 L2028.2,488.2 L2027.2,488.7 L2026.0,489.2 L2025.0,489.7 L2024.5,490.4 L2024.6,491.1 L2025.2,491.9 L2026.0,492.8 L2026.9,493.6" fill="none" stroke="#adadad" stroke-width="2.8"/>
<path d="M2033.9,544.0 L2034.8,545.1 L2035.3,546.0 L2035.2,546.9 L2034.5,547.5 L2033.3,547.9 L2031.9,548.4 L2030.7,548.8 L2030.1,549.5 L2030.0,550.3 L2030.6,551.3 L2031.5,552.4 L2032.3,553.5" fill="none" stroke="#a2a2a2" stroke-width="2.2"/>
<path d="M1986.4,397.3 Q1938.4,501.1 1991.0,615.7 Q1951.4,501.1 1986.4,397.3 Z" fill="#fff"/>
<path d="M2071.6,412.8 Q2115.0,513.5 2065.4,615.7 Q2102.0,513.5 2071.6,412.8 Z" fill="#fff"/>
<path d="M2000.3,454.6 Q1969.3,532.1 2008.1,617.3 Q1976.3,532.1 2000.3,454.6 Z" fill="#fff"/>
<path d="M2042.1,454.6 Q2074.7,532.1 2039.1,617.3 Q2067.7,532.1 2042.1,454.6 Z" fill="#fff"/>
<path d="M1967.8,535.2 Q1975.5,584.7 2009.7,626.6 Q1978.7,584.7 1967.8,535.2 Z" fill="#fff"/>
<path d="M1979.8,530.3 Q1985.7,584.7 2011.9,626.6 Q1988.9,584.7 1979.8,530.3 Z" fill="#fff"/>
<path d="M1991.9,525.5 Q1995.9,584.7 2014.1,626.6 Q1999.1,584.7 1991.9,525.5 Z" fill="#fff"/>
<path d="M2003.9,520.7 Q2006.2,584.7 2016.2,626.6 Q2009.4,584.7 2003.9,520.7 Z" fill="#fff"/>
<path d="M2016.0,515.9 Q2016.4,584.7 2018.4,626.6 Q2019.6,584.7 2016.0,515.9 Z" fill="#fff"/>
<path d="M2028.0,515.9 Q2026.7,584.7 2020.6,626.6 Q2023.5,584.7 2028.0,515.9 Z" fill="#fff"/>
<path d="M2040.1,520.7 Q2036.9,584.7 2022.7,626.6 Q2033.7,584.7 2040.1,520.7 Z" fill="#fff"/>
<path d="M2052.1,525.5 Q2047.1,584.7 2024.9,626.6 Q2043.9,584.7 2052.1,525.5 Z" fill="#fff"/>
<path d="M2064.2,530.3 Q2057.4,584.7 2027.1,626.6 Q2054.2,584.7 2064.2,530.3 Z" fill="#fff"/>
<path d="M2076.2,535.2 Q2067.6,584.7 2029.2,626.6 Q2064.4,584.7 2076.2,535.2 Z" fill="#fff"/>
<path d="M1972.4,600.2 C1994.1,612.6 2006.5,609.5 2018.9,606.4 C2031.3,609.5 2049.9,612.6 2068.5,600.2 C2059.2,628.1 2040.6,634.3 2018.9,634.3 C1997.2,634.3 1978.6,625.0 1972.4,600.2 Z" fill="#f6f6f6" filter="url(#cblur2)"/>
<path d="M1953.9,575.4 Q1966.3,615.7 2000.3,629.7 Q1973.3,615.7 1953.9,575.4 Z" fill="#fff"/>
<path d="M2084.0,575.4 Q2071.6,615.7 2037.5,629.7 Q2064.6,615.7 2084.0,575.4 Z" fill="#fff"/>
</g>
<path d="M1912.9,395.2 C1915.7,387.8 1918.8,381.4 1927.5,377.4 C1936.2,373.3 1955.1,373.8 1964.9,370.9 C1974.6,367.9 1978.7,360.0 1986.0,359.5 C1993.3,359.0 2000.0,368.3 2008.7,367.6 C2017.4,366.9 2029.8,356.0 2037.9,355.4 C2046.1,354.9 2052.6,361.0 2057.4,364.4 C2062.3,367.8 2061.8,374.9 2067.2,375.7 C2072.6,376.5 2082.1,368.4 2089.9,369.2 C2097.8,370.1 2108.1,375.5 2114.3,380.6 C2120.5,385.8 2124.9,392.8 2127.3,400.1 C2129.7,407.4 2129.2,418.2 2128.9,424.5 C2128.6,430.7 2125.4,432.6 2125.7,437.5 C2125.9,442.3 2129.5,446.9 2130.5,453.7 C2131.6,460.5 2132.6,472.7 2132.2,478.1 C2131.8,483.5 2129.6,480.2 2128.1,486.1 C2126.6,491.9 2125.8,502.5 2123.0,513.4 C2120.2,524.3 2115.5,539.0 2111.2,551.4 C2106.9,563.8 2103.7,576.7 2097.1,587.9 C2090.5,599.0 2081.7,610.7 2071.6,618.2 C2061.5,625.6 2047.6,630.2 2036.3,632.4 C2025.0,634.7 2014.2,634.1 2003.6,631.7 C1993.1,629.3 1982.1,624.6 1973.2,618.2 C1964.2,611.7 1956.2,603.1 1950.1,592.9 C1944.0,582.8 1940.3,569.6 1936.5,557.4 C1932.6,545.3 1930.4,532.0 1926.9,520.0 C1923.4,507.9 1918.3,493.7 1915.6,485.2 C1912.8,476.7 1911.2,476.5 1910.4,469.0 C1909.6,461.6 1910.7,448.2 1910.7,440.4 C1910.7,432.6 1910.1,429.5 1910.4,422.0 C1910.8,414.5 1910.0,402.7 1912.9,395.2 Z" fill="none" stroke="#4a4a4a" stroke-width="1.5"/>
</g>

<g id="hijiki" stroke-linejoin="round" stroke-linecap="round">
<path d="M1718.3,800.4 C1723.3,793.3 1733.1,786.8 1744.9,782.6 C1756.8,778.5 1775.1,775.8 1789.3,775.5 C1803.5,775.2 1818.3,777.3 1830.2,780.9 C1842.0,784.4 1853.3,788.8 1860.4,796.8 C1867.5,804.8 1871.3,817.0 1872.8,828.8 C1874.3,840.7 1873.4,858.1 1869.3,867.9 C1865.1,877.7 1856.8,882.7 1847.9,887.4 C1839.1,892.2 1827.2,894.5 1816.0,896.3 C1804.7,898.1 1791.4,899.6 1780.5,898.1 C1769.5,896.6 1759.4,891.3 1750.3,887.4 C1741.1,883.6 1731.3,880.6 1725.4,875.0 C1719.5,869.4 1716.5,862.0 1714.7,853.7 C1713.0,845.4 1714.1,834.1 1714.7,825.3 C1715.3,816.4 1713.3,807.5 1718.3,800.4 Z" fill="#3a3a3a" stroke="#111" stroke-width="1.2"/>
<path d="M1750.3,798.6 C1751.7,796.7 1758.8,795.5 1760.9,796.8 C1763.0,798.2 1764.2,804.7 1762.7,806.6 C1761.2,808.5 1754.1,809.7 1752.0,808.4 C1750.0,807.1 1748.8,800.5 1750.3,798.6 Z" fill="#fff" stroke="#111" stroke-width="1"/>
<path d="M1794.7,798.6 C1796.6,797.6 1804.9,797.0 1807.1,797.7 C1809.3,798.5 1809.9,802.0 1808.0,803.1 C1806.1,804.1 1797.8,804.7 1795.6,803.9 C1793.3,803.2 1792.7,799.7 1794.7,798.6 Z" fill="#fff" stroke="#111" stroke-width="1"/>
<path d="M1785.8,842.1 C1787.3,840.7 1794.5,839.8 1796.4,841.2 C1798.4,842.7 1798.8,849.5 1797.3,851.0 C1795.8,852.5 1789.5,851.6 1787.6,850.1 C1785.6,848.6 1784.3,843.6 1785.8,842.1 Z" fill="#fff" stroke="#111" stroke-width="1"/>
<path d="M1808.9,819.9 C1810.4,815.6 1817.5,814.0 1819.5,818.2 C1821.6,822.3 1822.8,840.5 1821.3,844.8 C1819.8,849.1 1812.7,848.1 1810.6,843.9 C1808.6,839.8 1807.4,824.2 1808.9,819.9 Z" fill="#fff" stroke="#111" stroke-width="1"/>
<path d="M1803.5,862.6 C1805.0,861.5 1811.8,860.6 1813.3,861.7 C1814.8,862.7 1813.9,867.7 1812.4,868.8 C1810.9,869.9 1805.9,869.3 1804.4,868.2 C1803.0,867.2 1802.1,863.7 1803.5,862.6 Z" fill="#fff" stroke="#111" stroke-width="1"/>
<path d="M1832.0,882.1 C1833.1,880.2 1838.8,878.5 1840.0,880.3 C1841.1,882.1 1840.3,890.8 1839.1,892.8 C1837.9,894.7 1834.0,893.6 1832.9,891.9 C1831.7,890.1 1830.8,884.0 1832.0,882.1 Z" fill="#fff" stroke="#111" stroke-width="1"/>
<path d="M1775.1,780.0 C1776.9,778.9 1785.5,778.3 1787.6,779.1 C1789.6,779.8 1789.3,783.4 1787.6,784.4 C1785.8,785.4 1779.0,786.0 1776.9,785.3 C1774.8,784.6 1773.3,781.0 1775.1,780.0 Z" fill="#fff" stroke="#111" stroke-width="1"/>
<path d="M1728.9,832.4 C1730.4,830.6 1737.5,829.4 1739.6,830.6 C1741.7,831.8 1742.9,837.7 1741.4,839.5 C1739.9,841.2 1732.8,842.4 1730.7,841.2 C1728.6,840.1 1727.5,834.1 1728.9,832.4 Z" fill="#fff" stroke="#111" stroke-width="1"/>
<path d="M1724.3,765.6 L1726.2,765.5 L1727.9,764.5 L1729.7,763.3 L1731.6,761.9 L1733.6,760.4 L1735.5,759.0 L1737.4,757.7 L1739.1,756.8 L1740.4,756.4 L1741.3,756.4 L1742.0,756.6 L1742.9,756.8 L1743.9,756.9 L1745.1,757.2 L1746.5,757.6 L1748.0,757.9 L1749.5,758.4 L1751.2,759.0 L1752.8,759.7 L1754.3,760.3 L1755.7,761.1 L1757.3,762.2 L1759.0,763.5 L1760.8,765.1 L1762.6,766.7 L1764.3,768.4 L1766.0,769.9 L1767.6,771.2 L1769.1,772.3 L1770.8,772.6 L1772.3,771.3 L1772.4,769.7 L1771.8,768.0 L1770.9,766.1 L1769.8,764.1 L1768.6,761.9 L1767.2,759.7 L1765.6,757.5 L1764.0,755.3 L1762.2,753.4 L1760.4,751.6 L1758.6,750.2 L1756.9,748.8 L1754.9,747.6 L1752.9,746.4 L1750.7,745.3 L1748.4,744.6 L1745.9,744.0 L1743.3,743.8 L1740.7,744.1 L1737.9,744.9 L1735.3,746.3 L1733.0,748.1 L1731.0,750.1 L1729.1,752.3 L1727.4,754.5 L1725.9,756.7 L1724.7,758.8 L1723.6,760.7 L1722.9,762.4 L1722.9,764.2 Z" fill="#525252" stroke="#111" stroke-width="1.2"/>
<path d="M1731.4,752.7 L1733.3,751.1 L1735.2,749.6 L1737.0,748.5 L1738.7,747.8 L1740.5,747.5 L1742.2,747.4 L1744.0,747.6 L1745.9,748.0 L1747.7,748.6 L1749.6,749.3 L1751.4,750.1 L1753.1,751.1 L1754.9,752.1 L1756.5,753.1" fill="none" stroke="#7c7c7c" stroke-width="3.7"/>
<path d="M1736.4,776.6 L1738.9,777.4 L1741.8,777.4 L1745.2,777.1 L1749.0,776.6 L1753.0,775.9 L1757.3,775.2 L1761.5,774.3 L1765.8,773.5 L1769.9,772.6 L1773.8,771.8 L1777.5,770.5 L1781.3,769.2 L1785.0,767.8 L1788.8,766.4 L1792.4,765.0 L1796.0,763.7 L1799.5,762.4 L1802.8,761.3 L1806.0,760.3 L1809.0,759.4 L1811.9,758.7 L1814.7,758.0 L1817.5,757.4 L1820.1,756.9 L1822.6,756.5 L1824.9,756.2 L1827.2,756.0 L1829.2,755.9 L1831.1,755.9 L1832.8,756.1 L1834.3,756.3 L1835.6,756.7 L1836.9,757.1 L1838.3,757.6 L1839.8,758.2 L1841.4,758.9 L1843.1,759.8 L1844.9,760.7 L1846.8,761.6 L1848.7,762.5 L1850.5,763.3 L1852.4,764.1 L1854.4,765.0 L1856.4,766.0 L1858.3,766.9 L1860.3,767.8 L1862.1,768.6 L1863.8,769.2 L1865.3,769.6 L1866.9,769.3 L1868.1,767.5 L1867.8,766.0 L1866.9,764.7 L1865.8,763.3 L1864.4,761.9 L1862.9,760.4 L1861.2,758.8 L1859.5,757.3 L1857.7,755.8 L1856.0,754.4 L1854.3,753.1 L1852.9,751.9 L1851.5,750.7 L1850.1,749.4 L1848.5,748.1 L1846.7,746.7 L1844.8,745.3 L1842.7,744.0 L1840.2,743.0 L1837.5,742.2 L1834.7,741.7 L1831.8,741.5 L1829.0,741.4 L1826.2,741.5 L1823.3,741.8 L1820.5,742.2 L1817.5,742.6 L1814.5,743.2 L1811.5,743.9 L1808.4,744.6 L1805.2,745.4 L1801.8,746.4 L1798.3,747.5 L1794.7,748.7 L1791.0,750.0 L1787.3,751.4 L1783.7,752.8 L1780.0,754.2 L1776.3,755.5 L1772.8,756.8 L1769.3,758.0 L1765.8,759.5 L1762.0,761.1 L1758.0,762.7 L1754.1,764.4 L1750.1,766.0 L1746.4,767.7 L1743.0,769.2 L1739.9,770.8 L1737.4,772.4 L1735.7,774.5 Z" fill="#525252" stroke="#111" stroke-width="1.2"/>
<path d="M1770.6,761.7 L1774.2,760.5 L1777.9,759.2 L1781.6,757.8 L1785.3,756.4 L1788.9,755.0 L1792.6,753.7 L1796.1,752.4 L1799.6,751.2 L1802.9,750.1 L1806.1,749.2 L1809.2,748.5 L1812.2,747.8 L1815.1,747.1 L1817.9,746.6 L1820.6,746.1 L1823.2,745.8 L1825.7,745.6 L1828.2,745.5 L1830.5,745.5 L1832.8,745.7 L1834.9,746.1 L1836.9,746.6 L1838.8,747.4 L1840.6,748.3" fill="none" stroke="#7c7c7c" stroke-width="4.1"/>
<path d="M1775.8,797.6 L1775.2,794.7 L1773.6,792.4 L1771.4,789.8 L1768.8,787.2 L1765.9,784.4 L1762.7,781.6 L1759.3,778.9 L1755.4,776.8 L1751.5,774.9 L1747.7,773.4 L1744.1,772.1 L1740.4,770.9 L1736.6,769.8 L1732.6,768.7 L1728.5,767.8 L1724.3,767.1 L1720.1,766.7 L1715.8,766.6 L1711.5,767.0 L1707.2,767.9 L1702.9,769.5 L1699.0,771.6 L1695.2,774.1 L1691.8,776.9 L1688.5,779.8 L1685.4,782.9 L1682.7,785.9 L1680.2,788.8 L1678.0,791.6 L1676.2,794.1 L1674.5,796.7 L1673.1,799.4 L1671.9,802.2 L1671.1,805.1 L1670.5,808.1 L1670.4,811.1 L1670.7,814.3 L1671.8,817.6 L1673.9,820.7 L1677.0,823.3 L1680.4,824.7 L1683.8,825.3 L1687.0,825.5 L1690.3,825.4 L1693.7,825.1 L1697.1,824.7 L1700.6,824.2 L1704.1,823.6 L1707.5,823.0 L1710.9,822.4 L1714.5,821.7 L1718.4,820.7 L1722.4,819.5 L1726.3,818.3 L1730.1,817.1 L1733.8,816.0 L1737.2,815.0 L1740.3,814.3 L1743.0,813.8 L1744.9,813.5 L1746.5,813.2 L1748.2,813.2 L1750.1,813.4 L1752.1,813.8 L1754.1,814.3 L1756.0,815.0 L1758.0,815.6 L1760.0,816.2 L1761.9,816.4 L1763.9,815.6 L1765.0,813.6 L1764.9,811.6 L1764.2,810.1 L1763.1,808.4 L1761.6,806.7 L1759.8,804.9 L1757.6,803.1 L1755.1,801.3 L1752.1,799.8 L1748.7,798.6 L1744.9,797.9 L1741.0,798.0 L1737.1,798.7 L1733.2,799.6 L1729.3,800.7 L1725.4,801.9 L1721.5,803.1 L1717.7,804.3 L1714.2,805.3 L1710.9,806.2 L1707.9,806.8 L1704.8,807.3 L1701.5,807.9 L1698.2,808.4 L1695.0,808.9 L1692.0,809.2 L1689.4,809.5 L1687.1,809.5 L1685.5,809.5 L1684.7,809.3 L1685.0,809.5 L1685.8,810.1 L1686.2,810.7 L1686.3,811.0 L1686.3,810.7 L1686.3,810.0 L1686.6,809.0 L1687.0,807.7 L1687.6,806.2 L1688.3,804.7 L1689.3,803.1 L1690.7,801.2 L1692.5,798.9 L1694.6,796.5 L1697.0,793.9 L1699.5,791.4 L1702.1,789.0 L1704.7,787.0 L1707.3,785.2 L1709.6,784.0 L1711.6,783.2 L1713.8,782.7 L1716.3,782.5 L1719.1,782.6 L1722.2,782.9 L1725.4,783.5 L1728.8,784.2 L1732.2,785.1 L1735.6,786.1 L1739.0,787.2 L1742.1,788.3 L1745.1,789.5 L1748.1,791.0 L1751.4,792.8 L1755.0,794.2 L1758.6,795.7 L1762.1,797.2 L1765.5,798.6 L1768.6,799.6 L1771.5,800.3 L1774.5,799.6 Z" fill="#525252" stroke="#111" stroke-width="1.2"/>
<path d="M1729.6,773.0 L1725.9,772.1 L1722.2,771.5 L1718.5,771.1 L1715.0,771.1 L1711.6,771.3 L1708.4,772.0 L1705.2,773.2 L1702.1,774.9 L1698.9,777.0 L1695.9,779.5 L1692.9,782.1 L1690.1,784.9 L1687.6,787.7 L1685.3,790.4 L1683.3,792.9 L1681.7,795.1 L1680.4,797.2 L1679.3,799.3 L1678.4,801.4 L1677.8,803.5 L1677.4,805.5 L1677.3,807.4 L1677.5,809.1 L1678.0,810.7 L1678.8,811.9 L1679.9,812.9 L1681.5,813.5 L1683.6,813.9 L1686.0,814.0 L1688.8,813.9 L1691.8,813.6 L1695.0,813.3 L1698.4,812.8 L1701.7,812.2" fill="none" stroke="#7c7c7c" stroke-width="4.5"/>
<path d="M1881.5,786.6 L1878.4,785.0 L1874.6,784.5 L1870.1,784.2 L1865.0,784.2 L1859.6,784.2 L1854.0,784.4 L1848.2,784.7 L1842.5,785.0 L1837.0,785.5 L1831.9,786.0 L1827.1,786.9 L1822.3,787.9 L1817.6,789.1 L1812.9,790.3 L1808.3,791.5 L1803.6,792.8 L1799.1,794.2 L1794.6,795.6 L1790.3,797.1 L1786.0,798.7 L1781.9,800.2 L1777.8,801.8 L1773.6,803.5 L1769.5,805.2 L1765.4,807.1 L1761.4,809.0 L1757.5,811.1 L1753.9,813.3 L1750.5,815.7 L1747.3,818.4 L1744.6,821.3 L1742.2,824.4 L1740.2,827.6 L1738.6,830.9 L1737.3,834.3 L1736.4,837.7 L1735.7,841.1 L1735.4,844.5 L1735.3,847.8 L1735.6,851.2 L1736.1,854.6 L1737.0,858.1 L1738.3,861.4 L1739.7,864.7 L1741.4,867.9 L1743.3,871.0 L1745.5,874.0 L1747.8,876.9 L1750.3,879.6 L1752.9,882.1 L1755.7,884.4 L1758.8,886.6 L1762.0,888.7 L1765.4,890.7 L1769.0,892.6 L1772.7,894.2 L1776.5,895.7 L1780.4,897.0 L1784.3,897.9 L1788.2,898.6 L1792.1,898.9 L1796.0,899.0 L1800.0,898.8 L1804.0,898.4 L1808.1,897.8 L1812.2,896.8 L1816.2,895.6 L1820.1,893.9 L1823.9,891.9 L1827.5,889.2 L1830.7,885.9 L1833.4,882.2 L1835.5,878.3 L1837.3,874.4 L1838.8,870.4 L1840.2,866.5 L1841.3,862.8 L1842.4,859.3 L1843.4,856.1 L1844.4,853.2 L1845.5,850.0 L1846.4,846.7 L1847.1,843.6 L1847.6,840.7 L1848.1,838.1 L1848.6,835.9 L1849.0,834.0 L1849.5,832.5 L1849.9,831.4 L1850.4,830.5 L1851.2,829.5 L1852.3,828.4 L1853.5,827.2 L1854.8,826.1 L1856.1,825.2 L1857.3,824.5 L1858.3,824.1 L1858.9,823.9 L1858.9,823.9 L1858.4,823.8 L1858.0,823.7 L1858.2,823.8 L1858.8,824.4 L1859.7,825.3 L1860.8,826.5 L1861.9,828.1 L1862.9,829.8 L1864.0,831.7 L1865.0,833.8 L1865.8,835.8 L1866.6,838.1 L1867.5,840.7 L1868.3,843.6 L1869.0,846.7 L1869.8,849.8 L1870.7,852.9 L1871.4,855.9 L1871.9,858.7 L1872.2,861.2 L1872.5,863.2 L1872.5,865.0 L1872.1,866.9 L1871.5,869.1 L1870.6,871.5 L1869.6,873.8 L1868.5,876.2 L1867.4,878.4 L1866.5,880.6 L1865.9,882.7 L1866.3,884.9 L1868.7,886.4 L1870.7,886.2 L1872.4,885.2 L1874.3,883.9 L1876.4,882.2 L1878.5,880.2 L1880.6,877.8 L1882.7,875.2 L1884.6,872.3 L1886.2,869.0 L1887.4,865.4 L1888.1,861.8 L1888.4,858.1 L1888.5,854.3 L1888.3,850.4 L1888.0,846.5 L1887.4,842.6 L1886.5,838.9 L1885.5,835.3 L1884.5,832.0 L1883.4,828.9 L1882.1,826.0 L1880.8,823.1 L1879.2,820.4 L1877.6,817.7 L1875.8,815.1 L1873.8,812.7 L1871.5,810.4 L1869.0,808.4 L1866.0,806.6 L1862.4,805.4 L1858.5,805.0 L1854.9,805.5 L1851.7,806.4 L1848.7,807.7 L1846.0,809.3 L1843.4,811.1 L1841.0,813.0 L1838.8,815.2 L1836.8,817.4 L1834.8,820.0 L1833.1,822.9 L1831.8,826.0 L1830.8,828.9 L1830.1,831.8 L1829.6,834.6 L1829.1,837.2 L1828.6,839.8 L1828.1,842.2 L1827.4,844.6 L1826.6,847.1 L1825.5,850.2 L1824.4,853.7 L1823.3,857.2 L1822.2,860.7 L1821.1,864.0 L1819.9,867.1 L1818.7,869.9 L1817.4,872.2 L1816.2,873.8 L1815.1,875.0 L1813.8,876.0 L1811.9,877.0 L1809.7,877.9 L1807.2,878.7 L1804.5,879.3 L1801.7,879.7 L1798.7,880.0 L1795.8,880.1 L1793.0,880.1 L1790.5,879.8 L1788.1,879.5 L1785.5,878.8 L1782.8,878.0 L1780.0,876.9 L1777.2,875.6 L1774.5,874.2 L1771.9,872.7 L1769.5,871.1 L1767.3,869.5 L1765.4,867.9 L1763.7,866.3 L1762.0,864.5 L1760.5,862.6 L1759.0,860.6 L1757.8,858.5 L1756.6,856.4 L1755.7,854.4 L1755.0,852.5 L1754.6,850.7 L1754.3,849.0 L1754.2,847.4 L1754.2,845.6 L1754.4,843.8 L1754.7,842.0 L1755.2,840.2 L1755.9,838.5 L1756.7,836.8 L1757.7,835.1 L1758.9,833.6 L1760.3,832.1 L1762.0,830.6 L1764.2,829.0 L1766.9,827.4 L1770.0,825.8 L1773.3,824.1 L1777.0,822.5 L1780.8,820.9 L1784.7,819.4 L1788.7,817.8 L1792.6,816.3 L1796.5,814.9 L1800.5,813.5 L1804.7,812.2 L1808.9,810.9 L1813.3,809.7 L1817.7,808.5 L1822.1,807.4 L1826.6,806.3 L1831.2,805.3 L1835.6,804.1 L1840.2,802.7 L1845.2,801.3 L1850.5,800.0 L1856.0,798.6 L1861.4,797.2 L1866.6,795.9 L1871.4,794.6 L1875.7,793.2 L1879.3,791.7 L1881.9,789.4 Z" fill="#525252" stroke="#111" stroke-width="1.2"/>
<path d="M1764.4,813.2 L1761.0,815.1 L1757.8,817.0 L1755.0,819.0 L1752.6,821.1 L1750.5,823.3 L1748.7,825.6 L1747.2,828.0 L1746.0,830.5 L1745.0,833.1 L1744.3,835.7 L1743.8,838.3 L1743.6,840.9 L1743.5,843.5 L1743.7,846.0 L1744.1,848.5 L1744.8,851.1 L1745.7,853.8 L1746.9,856.4 L1748.3,859.1 L1750.0,861.7 L1751.7,864.2 L1753.7,866.6 L1755.7,868.8 L1757.9,870.8 L1760.3,872.8 L1762.9,874.7 L1765.7,876.6 L1768.7,878.3 L1771.9,879.9 L1775.1,881.4 L1778.4,882.7 L1781.7,883.7 L1784.9,884.5 L1788.1,885.1 L1791.3,885.3 L1794.7,885.4 L1798.1,885.3 L1801.6,884.9 L1805.1,884.4 L1808.5,883.6 L1811.7,882.6 L1814.8,881.3 L1817.6,879.8 L1820.1,877.9 L1822.2,875.7 L1824.2,873.0 L1825.9,870.0 L1827.4,866.6 L1828.7,863.1 L1830.0,859.4 L1831.1,855.8 L1832.2,852.3 L1833.2,849.0 L1834.3,846.0 L1835.2,843.1 L1836.0,840.3 L1836.6,837.5 L1837.1,834.8 L1837.6,832.2 L1838.1,829.7 L1838.7,827.3 L1839.4,825.1 L1840.3,823.0 L1841.4,821.1" fill="none" stroke="#7c7c7c" stroke-width="5.3"/>
<path d="M1834.6,764.8 L1833.4,765.8 L1832.8,767.1 L1832.3,768.6 L1831.8,770.2 L1831.4,771.9 L1830.9,773.6 L1830.4,775.2 L1829.9,776.6 L1829.3,777.6 L1828.6,778.4 L1828.0,779.3 L1827.3,780.4 L1826.5,781.4 L1825.6,782.5 L1824.6,783.5 L1823.6,784.5 L1822.4,785.5 L1821.1,786.5 L1819.8,787.4 L1818.5,788.2 L1817.0,789.0 L1815.1,789.8 L1813.0,790.6 L1810.7,791.3 L1808.4,792.5 L1806.1,793.8 L1804.0,795.0 L1802.1,796.2 L1800.6,797.5 L1799.7,799.6 L1800.2,801.2 L1802.0,802.4 L1803.9,802.8 L1806.2,802.9 L1808.7,802.9 L1811.4,802.7 L1814.1,802.4 L1816.8,801.5 L1819.4,800.6 L1821.9,799.5 L1824.1,798.3 L1826.1,797.1 L1827.9,795.9 L1829.7,794.6 L1831.3,793.2 L1832.8,791.7 L1834.3,790.2 L1835.6,788.6 L1836.9,786.9 L1838.0,785.2 L1838.9,783.3 L1839.4,781.0 L1839.7,778.7 L1839.8,776.4 L1839.7,774.3 L1839.4,772.2 L1839.1,770.3 L1838.6,768.6 L1838.1,767.1 L1837.5,765.9 L1836.4,764.9 Z" fill="#525252" stroke="#111" stroke-width="1.2"/>
<path d="M1834.5,771.4 L1834.3,773.3 L1834.0,775.1 L1833.6,776.8 L1833.0,778.3 L1832.2,779.7 L1831.3,781.1 L1830.3,782.5 L1829.2,783.8 L1828.0,785.1 L1826.7,786.3 L1825.3,787.5 L1823.8,788.6 L1822.2,789.7 L1820.5,790.7" fill="none" stroke="#7c7c7c" stroke-width="3.2"/>
<path d="M1844.0,771.0 L1844.7,772.8 L1846.0,774.1 L1847.7,775.4 L1849.6,776.7 L1851.5,778.1 L1853.5,779.5 L1855.4,781.0 L1857.2,782.4 L1858.6,783.9 L1859.9,785.0 L1861.1,786.3 L1862.4,787.9 L1863.6,789.6 L1864.8,791.5 L1866.0,793.5 L1867.1,795.6 L1868.1,797.8 L1869.2,800.0 L1870.1,802.2 L1871.0,804.3 L1871.7,806.3 L1872.4,808.6 L1873.0,811.1 L1873.6,813.6 L1874.6,816.1 L1875.6,818.5 L1876.7,820.7 L1877.7,822.7 L1878.9,824.4 L1880.8,825.4 L1882.5,825.1 L1883.9,823.4 L1884.5,821.5 L1884.8,819.3 L1884.9,816.7 L1885.0,814.0 L1884.9,811.2 L1884.3,808.3 L1883.6,805.5 L1882.7,802.7 L1881.8,800.1 L1880.8,797.7 L1879.7,795.3 L1878.6,792.8 L1877.4,790.4 L1876.1,787.9 L1874.7,785.5 L1873.2,783.2 L1871.6,780.9 L1869.9,778.8 L1868.0,776.7 L1865.8,774.8 L1863.2,773.3 L1860.5,772.1 L1857.8,771.1 L1855.2,770.3 L1852.7,769.6 L1850.4,769.1 L1848.3,768.8 L1846.5,768.8 L1844.8,769.4 Z" fill="#525252" stroke="#111" stroke-width="1.2"/>
<path d="M1854.9,772.8 L1857.2,774.0 L1859.4,775.3 L1861.4,776.8 L1863.2,778.3 L1864.7,780.0 L1866.2,781.9 L1867.6,783.9 L1869.0,786.0 L1870.3,788.2 L1871.5,790.4 L1872.6,792.8 L1873.7,795.1 L1874.7,797.4 L1875.6,799.6" fill="none" stroke="#7c7c7c" stroke-width="3.2"/>
<path d="M1717.5,887.8 L1719.4,887.0 L1720.6,885.7 L1721.8,884.1 L1722.9,882.2 L1724.0,880.3 L1725.1,878.3 L1726.3,876.4 L1727.5,874.6 L1728.6,873.0 L1729.8,871.6 L1730.8,870.1 L1732.0,868.5 L1733.3,866.8 L1734.8,865.1 L1736.3,863.3 L1737.9,861.7 L1739.5,860.0 L1741.1,858.5 L1742.7,857.0 L1744.3,855.7 L1745.8,854.4 L1747.2,853.3 L1748.7,852.3 L1750.2,851.3 L1751.7,850.4 L1753.3,849.5 L1754.9,848.6 L1756.6,847.8 L1758.4,847.0 L1760.2,846.1 L1762.1,845.4 L1764.4,844.6 L1766.7,843.3 L1769.1,842.0 L1771.6,840.8 L1774.0,839.5 L1776.2,838.2 L1778.2,836.9 L1779.8,835.5 L1780.8,833.4 L1780.1,831.3 L1778.3,830.0 L1776.2,829.6 L1773.9,829.5 L1771.3,829.6 L1768.4,829.7 L1765.5,830.0 L1762.6,830.4 L1759.7,830.8 L1757.0,831.8 L1754.5,832.8 L1752.4,833.8 L1750.3,834.7 L1748.3,835.7 L1746.3,836.8 L1744.4,837.9 L1742.4,839.1 L1740.5,840.3 L1738.7,841.6 L1736.8,843.1 L1734.9,844.6 L1733.1,846.2 L1731.2,847.9 L1729.3,849.7 L1727.4,851.6 L1725.6,853.6 L1723.8,855.6 L1722.1,857.6 L1720.4,859.8 L1718.9,861.9 L1717.4,864.1 L1716.4,866.7 L1715.6,869.4 L1714.9,872.1 L1714.5,874.7 L1714.1,877.2 L1714.0,879.6 L1713.9,881.8 L1714.0,883.8 L1714.4,885.5 L1715.5,887.1 Z" fill="#525252" stroke="#111" stroke-width="1.2"/>
<path d="M1720.6,868.8 L1721.6,866.7 L1722.7,864.7 L1723.9,862.8 L1725.3,860.9 L1726.7,859.0 L1728.3,857.1 L1730.0,855.3 L1731.7,853.4 L1733.4,851.7 L1735.2,850.0 L1736.9,848.4 L1738.6,846.9 L1740.3,845.6 L1742.0,844.3 L1743.7,843.1 L1745.4,842.0 L1747.1,840.9 L1748.8,839.9 L1750.6,839.0" fill="none" stroke="#7c7c7c" stroke-width="4.1"/>
<path d="M1692.2,861.5 L1694.2,861.7 L1696.2,861.1 L1698.3,860.2 L1700.7,859.0 L1703.1,857.8 L1705.5,856.5 L1708.0,855.2 L1710.3,854.0 L1712.3,852.7 L1714.1,851.6 L1715.7,850.7 L1717.5,849.9 L1719.4,849.1 L1721.3,848.3 L1723.3,847.6 L1725.1,846.9 L1726.6,845.6 L1727.9,844.2 L1728.9,842.7 L1729.2,840.3 L1728.6,838.7 L1726.9,837.0 L1725.2,836.4 L1723.4,836.1 L1721.3,836.0 L1719.3,836.7 L1717.2,837.5 L1715.0,838.3 L1712.7,839.3 L1710.5,840.4 L1708.3,841.5 L1706.1,842.9 L1703.8,844.4 L1701.7,846.4 L1699.6,848.4 L1697.5,850.5 L1695.6,852.5 L1693.9,854.5 L1692.5,856.4 L1691.4,858.1 L1691.1,860.1 Z" fill="#525252" stroke="#111" stroke-width="1.2"/>
<path d="M1697.4,853.2 L1699.5,851.6 L1701.8,849.9 L1704.1,848.2 L1706.3,846.6 L1708.4,845.2 L1710.4,844.0 L1712.3,843.0 L1714.4,842.0 L1716.4,841.1" fill="none" stroke="#7c7c7c" stroke-width="3.2"/>
<path d="M1749.8,892.1 L1750.7,894.6 L1752.4,896.6 L1754.7,898.6 L1757.4,900.8 L1760.5,902.9 L1763.8,905.1 L1767.3,907.1 L1771.0,909.1 L1775.0,910.3 L1778.9,911.2 L1782.6,911.9 L1786.4,912.4 L1790.3,912.8 L1794.3,913.1 L1798.3,913.3 L1802.4,913.3 L1806.4,913.1 L1810.4,912.7 L1814.3,912.0 L1818.2,911.1 L1821.9,909.8 L1825.6,908.3 L1829.1,906.5 L1832.4,904.5 L1835.6,902.4 L1838.7,900.2 L1841.5,897.9 L1844.1,895.5 L1846.3,893.0 L1848.2,890.3 L1850.0,887.3 L1851.3,884.1 L1852.1,880.9 L1852.7,877.9 L1852.9,875.1 L1852.9,872.4 L1852.8,870.0 L1852.5,867.9 L1852.0,866.2 L1850.9,864.6 L1848.6,864.0 L1846.7,865.0 L1845.6,866.7 L1844.6,868.6 L1843.7,870.6 L1842.8,872.7 L1841.8,874.8 L1840.7,876.7 L1839.5,878.5 L1838.3,879.9 L1837.0,881.0 L1835.3,882.3 L1833.2,883.9 L1831.2,885.7 L1828.9,887.5 L1826.5,889.3 L1824.0,891.0 L1821.4,892.5 L1818.8,893.8 L1816.3,894.9 L1813.8,895.7 L1811.2,896.4 L1808.3,896.8 L1805.2,897.2 L1801.9,897.3 L1798.6,897.3 L1795.1,897.2 L1791.7,896.9 L1788.3,896.6 L1785.1,896.1 L1782.0,895.6 L1779.2,894.9 L1776.2,894.0 L1772.8,893.3 L1769.3,892.4 L1765.8,891.5 L1762.4,890.6 L1759.1,889.7 L1756.1,889.1 L1753.4,888.9 L1750.7,889.9 Z" fill="#525252" stroke="#111" stroke-width="1.2"/>
<path d="M1772.5,898.0 L1776.0,899.1 L1779.4,899.9 L1782.8,900.5 L1786.3,901.0 L1789.9,901.4 L1793.7,901.6 L1797.4,901.8 L1801.1,901.8 L1804.8,901.6 L1808.3,901.2 L1811.7,900.7 L1814.9,899.9 L1818.0,898.9 L1821.1,897.5 L1824.2,896.0 L1827.2,894.2 L1830.0,892.4 L1832.7,890.4 L1835.3,888.3" fill="none" stroke="#7c7c7c" stroke-width="4.5"/>
<path d="M1763.9,850.9 L1764.3,853.4 L1765.4,855.4 L1767.0,857.6 L1769.0,859.9 L1771.4,862.3 L1774.0,864.7 L1777.2,866.5 L1780.6,868.2 L1784.2,869.7 L1787.9,870.7 L1791.6,871.3 L1795.3,871.7 L1799.2,871.9 L1803.1,871.9 L1807.0,871.7 L1811.0,871.4 L1815.0,871.0 L1818.9,870.4 L1822.7,869.7 L1826.4,868.9 L1830.3,867.8 L1834.3,866.4 L1838.3,864.8 L1842.2,863.0 L1845.7,860.7 L1848.9,858.4 L1851.8,856.1 L1854.3,853.9 L1856.2,851.8 L1857.3,849.2 L1856.4,847.5 L1853.7,846.7 L1850.8,847.1 L1847.6,847.8 L1844.1,848.9 L1840.4,850.0 L1836.7,851.2 L1833.1,852.8 L1829.7,854.2 L1826.4,855.4 L1823.3,856.2 L1820.1,856.9 L1816.8,857.5 L1813.3,858.0 L1809.8,858.4 L1806.3,858.7 L1802.8,858.8 L1799.5,858.8 L1796.3,858.7 L1793.3,858.4 L1790.7,858.0 L1788.4,857.3 L1786.0,856.3 L1783.4,855.1 L1780.8,853.6 L1778.0,852.4 L1775.2,851.2 L1772.5,850.1 L1769.9,849.2 L1767.5,848.7 L1765.0,849.3 Z" fill="#525252" stroke="#111" stroke-width="1.2"/>
<path d="M1776.6,856.2 L1779.4,857.9 L1782.4,859.4 L1785.4,860.6 L1788.5,861.5 L1791.6,862.0 L1795.0,862.3 L1798.5,862.5 L1802.1,862.5 L1805.8,862.4 L1809.5,862.1 L1813.3,861.6 L1816.9,861.1 L1820.5,860.4 L1824.0,859.7" fill="none" stroke="#7c7c7c" stroke-width="3.7"/>
<path d="M1717.4,825.7 L1716.5,828.1 L1716.5,830.7 L1716.9,833.6 L1717.6,836.9 L1718.4,840.4 L1719.5,844.0 L1721.2,847.5 L1723.1,851.0 L1725.1,854.3 L1727.2,857.5 L1729.5,860.5 L1731.9,863.4 L1734.5,866.2 L1737.2,869.0 L1739.9,871.7 L1742.7,874.3 L1745.5,876.8 L1748.1,879.2 L1750.7,881.4 L1753.2,883.6 L1755.7,885.6 L1758.4,887.6 L1761.0,889.4 L1763.6,891.2 L1766.4,892.3 L1769.1,893.2 L1771.6,893.8 L1773.9,894.3 L1775.9,894.4 L1778.2,893.6 L1779.2,891.9 L1778.9,889.5 L1777.8,887.7 L1776.3,885.9 L1774.6,884.1 L1772.7,882.2 L1770.7,880.2 L1768.4,878.6 L1766.0,877.0 L1763.7,875.3 L1761.5,873.5 L1759.2,871.6 L1756.8,869.4 L1754.2,867.1 L1751.6,864.8 L1749.0,862.3 L1746.5,859.8 L1744.0,857.3 L1741.7,854.7 L1739.6,852.2 L1737.8,849.8 L1736.1,847.4 L1734.4,844.6 L1732.8,841.5 L1731.2,838.4 L1729.3,835.5 L1727.3,832.6 L1725.4,830.0 L1723.6,827.7 L1721.7,825.8 L1719.2,824.8 Z" fill="#525252" stroke="#111" stroke-width="1.2"/>
<path d="M1724.5,838.3 L1726.1,841.6 L1727.9,844.9 L1729.7,848.0 L1731.6,850.8 L1733.7,853.5 L1736.0,856.2 L1738.4,858.9 L1741.0,861.5 L1743.6,864.1 L1746.3,866.7 L1749.0,869.1 L1751.6,871.4 L1754.1,873.6 L1756.5,875.7" fill="none" stroke="#7c7c7c" stroke-width="3.7"/>
</g>

</svg>
</body>
</html>
